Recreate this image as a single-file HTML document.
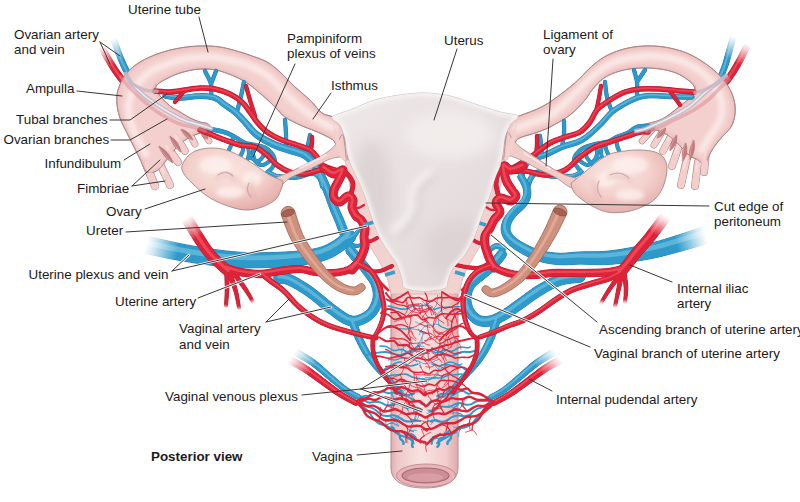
<!DOCTYPE html>
<html lang="en"><head><meta charset="utf-8"><title>Uterus, posterior view</title>
<style>
html,body{margin:0;padding:0;background:#fff}
body{width:800px;height:502px;overflow:hidden}
svg{display:block}
text{font-family:"Liberation Sans",sans-serif;font-size:13.4px;fill:#1c1a1b}
.b{font-weight:bold}
</style></head><body>
<svg width="800" height="502" viewBox="0 0 800 502">
<defs>
<filter id="soft" x="-2%" y="-2%" width="104%" height="104%"><feGaussianBlur stdDeviation="0.45"/></filter>
<filter id="b2" x="-20%" y="-20%" width="140%" height="140%"><feGaussianBlur stdDeviation="2"/></filter>
<filter id="b3" x="-20%" y="-20%" width="140%" height="140%"><feGaussianBlur stdDeviation="3.5"/></filter>
<filter id="b6" x="-20%" y="-20%" width="140%" height="140%"><feGaussianBlur stdDeviation="7"/></filter>
<linearGradient id="vag" x1="0" x2="1" y1="0" y2="0">
 <stop offset="0" stop-color="#e2adb0"/><stop offset=".1" stop-color="#efc7c7"/><stop offset=".45" stop-color="#f8e3e1"/>
 <stop offset=".82" stop-color="#f2cdcc"/><stop offset="1" stop-color="#e0a9ad"/></linearGradient>
<linearGradient id="utg" x1="0" x2="1" y1="0" y2="1">
 <stop offset="0" stop-color="#efe8e8"/><stop offset=".5" stop-color="#e8e0e0"/><stop offset="1" stop-color="#dfd5d6"/></linearGradient>
<radialGradient id="ovg" cx=".45" cy=".35" r=".7">
 <stop offset="0" stop-color="#fae6e1"/><stop offset=".55" stop-color="#f3d0cb"/><stop offset="1" stop-color="#e3aaa8"/></radialGradient>
<radialGradient id="fog"><stop offset="0" stop-color="#fff" stop-opacity="1"/><stop offset=".45" stop-color="#fff" stop-opacity=".85"/><stop offset="1" stop-color="#fff" stop-opacity="0"/></radialGradient>
<clipPath id="cutL"><path d="M349 165C348.7 162.5 347.8 155.2 347 150C346.2 144.8 345.2 138.3 344 134C342.8 129.7 341.8 126.8 340 124C338.2 121.2 336 118.8 333 117C330 115.2 325.8 115.8 322 113C318.2 110.2 314.5 104.3 310 100C305.5 95.7 300 91.7 295 87C290 82.3 284.7 76.2 280 72C275.3 67.8 271.7 64.7 267 62C262.3 59.3 256.5 57.7 252 56C247.5 54.3 245.3 53.5 240 52C234.7 50.5 226.7 48 220 47C213.3 46 206.7 45.8 200 46C193.3 46.2 186.7 46.8 180 48C173.3 49.2 166.7 50.7 160 53C153.3 55.3 145.7 58.5 140 62C134.3 65.5 129.7 69.3 126 74C122.3 78.7 119.5 85 118 90C116.5 95 116.7 99.3 117 104C117.3 108.7 118.5 113.5 120 118C121.5 122.5 123.8 126.5 126 131C128.2 135.5 130.7 140.3 133 145C135.3 149.7 137.7 154.5 140 159C142.3 163.5 144 170.2 147 172C150 173.8 154.5 172.3 158 170C161.5 167.7 164.7 162 168 158C171.3 154 174.3 149.5 178 146C181.7 142.5 185.7 139.3 190 137C194.3 134.7 200.2 133 204 132C207.8 131 212.3 132.3 213 131C213.7 129.7 210.2 125.5 208 124C205.8 122.5 203 123 200 122C197 121 193.3 119.7 190 118C186.7 116.3 183.3 114 180 112C176.7 110 173.3 108.7 170 106C166.7 103.3 161.7 97.7 160 96L155 88C155.5 87.3 156.2 85.5 158 84C159.8 82.5 162.3 80.8 166 79C169.7 77.2 174.3 74.7 180 73C185.7 71.3 193.3 69.3 200 69C206.7 68.7 212.7 69 220 71C227.3 73 237 77 244 81C251 85 256.8 90.7 262 95C267.2 99.3 271.2 103.3 275 107C278.8 110.7 280.8 114 285 117C289.2 120 295 122.7 300 125C305 127.3 310.7 129.2 315 131C319.3 132.8 322.8 134.3 326 136C329.2 137.7 332 138.7 334 141C336 143.3 336.5 147.2 338 150C339.5 152.8 342.2 156.7 343 158Z"/></clipPath>
<clipPath id="cutR"><path d="M501 165C501.3 162.5 502.2 155.2 503 150C503.8 144.8 504.8 138.3 506 134C507.2 129.7 508.2 126.8 510 124C511.8 121.2 512.8 119.3 517 117C521.2 114.7 529.5 112.5 535 110C540.5 107.5 544.2 105.8 550 102C555.8 98.2 565 91 570 87C575 83 576.3 81.5 580 78C583.7 74.5 587.7 69.7 592 66C596.3 62.3 600.7 58.8 606 56C611.3 53.2 617.7 50.7 624 49C630.3 47.3 637.3 46.3 644 46C650.7 45.7 657.3 46 664 47C670.7 48 678 49.8 684 52C690 54.2 694.7 56.7 700 60C705.3 63.3 711.3 67.7 716 72C720.7 76.3 725 81.3 728 86C731 90.7 732.8 95.3 734 100C735.2 104.7 735.5 109.5 735 114C734.5 118.5 733.2 123.2 731 127C728.8 130.8 724.8 133.7 722 137C719.2 140.3 716.3 143.5 714 147C711.7 150.5 709.3 154.8 708 158C706.7 161.2 707.7 165.7 706 166C704.3 166.3 700.7 161.7 698 160C695.3 158.3 692.7 158 690 156C687.3 154 684.8 150.8 682 148C679.2 145.2 676 141.5 673 139C670 136.5 667 134.5 664 133C661 131.5 659 130.3 655 130C651 129.7 643.2 131.7 640 131C636.8 130.3 635 127.2 636 126C637 124.8 642 125 646 124C650 123 656 121.7 660 120C664 118.3 666.7 116.3 670 114C673.3 111.7 677 108.3 680 106C683 103.7 686.7 101 688 100L695 92C694.8 91 695.2 88 694 86C692.8 84 691 82.2 688 80C685 77.8 680.7 74.8 676 73C671.3 71.2 666 69.8 660 69C654 68.2 646.7 67.7 640 68C633.3 68.3 626 69.3 620 71C614 72.7 608.7 74.8 604 78C599.3 81.2 595.2 86.3 592 90C588.8 93.7 588.7 95.8 585 100C581.3 104.2 575.8 110.5 570 115C564.2 119.5 555.8 124 550 127C544.2 130 539.7 131.3 535 133C530.3 134.7 525.2 135.7 522 137C518.8 138.3 517.7 138.8 516 141C514.3 143.2 513.5 147.2 512 150C510.5 152.8 507.8 156.7 507 158Z"/></clipPath>
<clipPath id="cutU"><path d="M332 117C333.5 114.8 343.6 112.5 350 110C356.4 107.5 367.5 102.2 375 100C382.5 97.8 392.5 96 400 95C407.5 94 417.5 92.8 425 93C432.5 93.2 442.5 94.3 450 96C457.5 97.7 467.5 101.6 475 104C482.5 106.4 493.6 110.2 500 112C506.4 113.8 516.5 114 518 116C519.5 118 511.9 121.8 510 125C508.1 128.2 506.1 132.9 505 137C503.9 141.1 503.8 147.7 503 152C502.2 156.3 501.2 162.1 500 166C498.8 169.9 496.6 173.2 495 178C493.4 182.8 491.1 192 489 198C486.9 204 483.2 212 481 218C478.8 224 476.6 232.3 474 238C471.4 243.7 467.1 251.5 464 256C460.9 260.5 455.4 264.4 453 268C450.6 271.6 449.2 277 448 280C446.8 283 448.4 286.4 445 288C441.6 289.6 431 291 425 291C419 291 408.4 289.9 405 288C401.6 286.1 403.2 281.6 402 278C400.8 274.4 399.1 268.1 397 264C394.9 259.9 390.7 255.2 388 251C385.3 246.8 381.6 241.4 379 236C376.4 230.6 373.1 221 371 215C368.9 209 367.2 202 365 196C362.8 190 358.1 179.7 356 175C353.9 170.3 352.4 168.4 351 165C349.6 161.6 347.9 156.1 347 152C346.1 147.9 346.1 142.1 345 138C343.9 133.9 341.9 128.2 340 125C338.1 121.8 330.5 119.2 332 117Z"/></clipPath>
</defs>
<rect width="800" height="502" fill="#fff"/>
<g filter="url(#soft)">
<defs><path id="v1" d="M114 40C114.8 42.3 117.3 49.7 119 54C120.7 58.3 122.2 62.2 124 66C125.8 69.8 127.8 73.5 130 77C132.2 80.5 135.8 85.3 137 87M733 38C732.3 40.3 730.3 47.3 729 52C727.7 56.7 726.5 61.7 725 66C723.5 70.3 722 74.3 720 78C718 81.7 714.2 86.3 713 88"/></defs><use href="#v1" fill="none" stroke="#1c75a3" stroke-width="6.5" stroke-linecap="round" stroke-linejoin="round"/><use href="#v1" fill="none" stroke="#2f9acb" stroke-width="5.6" stroke-linecap="round" stroke-linejoin="round"/><use href="#v1" fill="none" stroke="#7fcbe6" stroke-width="1.8" stroke-linecap="round" stroke-linejoin="round" opacity=".55" transform="translate(-0.4,-0.8)"/><defs><path id="v2" d="M103 50C104.2 52 107.7 58.2 110 62C112.3 65.8 114.5 69.5 117 73C119.5 76.5 122.3 80 125 83C127.7 86 131.7 89.7 133 91M746 48C745 50 742.2 56 740 60C737.8 64 735.5 68.2 733 72C730.5 75.8 727.7 79.7 725 83C722.3 86.3 718.3 90.5 717 92"/></defs><use href="#v2" fill="none" stroke="#aa192d" stroke-width="7.1" stroke-linecap="round" stroke-linejoin="round"/><use href="#v2" fill="none" stroke="#de2239" stroke-width="6.2" stroke-linecap="round" stroke-linejoin="round"/><use href="#v2" fill="none" stroke="#f5656f" stroke-width="2" stroke-linecap="round" stroke-linejoin="round" opacity=".55" transform="translate(-0.4,-0.9)"/><defs><linearGradient id="f3" gradientUnits="userSpaceOnUse" x1="105" y1="43" x2="117" y2="63"><stop offset="0" stop-color="#fff"/><stop offset=".25" stop-color="#fff" stop-opacity=".8"/><stop offset="1" stop-color="#fff" stop-opacity="0"/></linearGradient></defs><path d="M78.8 28.4L104.1 70.7L129.9 55.3L104.5 13Z" fill="url(#f3)"/><defs><linearGradient id="f4" gradientUnits="userSpaceOnUse" x1="743" y1="41" x2="732" y2="61"><stop offset="0" stop-color="#fff"/><stop offset=".25" stop-color="#fff" stop-opacity=".8"/><stop offset="1" stop-color="#fff" stop-opacity="0"/></linearGradient></defs><path d="M742.4 11L718.9 53.8L745.1 68.2L768.7 25.4Z" fill="url(#f4)"/>
<path d="M391 285V468C391 482 405 488 424.5 488C444 488 458 482 458 468V285Z" fill="url(#vag)" stroke="#b58a8e" stroke-width="1"/><ellipse cx="426" cy="475.5" rx="29.5" ry="11.5" fill="#eab3b7" stroke="#b98b90" stroke-width=".9"/><ellipse cx="425.5" cy="475.5" rx="23.5" ry="7.5" fill="#cc8d97" stroke="#a56a75" stroke-width="1.2"/><ellipse cx="425.5" cy="477.5" rx="18" ry="4.2" fill="#dba4ab" opacity=".75"/>
<path d="M146 164L155 186" fill="none" stroke="#a98585" stroke-width="8.4" stroke-linecap="round"/><path d="M161 166L170 185" fill="none" stroke="#a98585" stroke-width="7.9" stroke-linecap="round"/><path d="M167 146L178 162" fill="none" stroke="#a98585" stroke-width="7.9" stroke-linecap="round"/><path d="M176 136L185 151" fill="none" stroke="#a98585" stroke-width="7.4" stroke-linecap="round"/><path d="M188 131L195 144" fill="none" stroke="#a98585" stroke-width="6.9" stroke-linecap="round"/><path d="M202 130L209 141" fill="none" stroke="#a98585" stroke-width="6.4" stroke-linecap="round"/><path d="M349 165C348.7 162.5 347.8 155.2 347 150C346.2 144.8 345.2 138.3 344 134C342.8 129.7 341.8 126.8 340 124C338.2 121.2 336 118.8 333 117C330 115.2 325.8 115.8 322 113C318.2 110.2 314.5 104.3 310 100C305.5 95.7 300 91.7 295 87C290 82.3 284.7 76.2 280 72C275.3 67.8 271.7 64.7 267 62C262.3 59.3 256.5 57.7 252 56C247.5 54.3 245.3 53.5 240 52C234.7 50.5 226.7 48 220 47C213.3 46 206.7 45.8 200 46C193.3 46.2 186.7 46.8 180 48C173.3 49.2 166.7 50.7 160 53C153.3 55.3 145.7 58.5 140 62C134.3 65.5 129.7 69.3 126 74C122.3 78.7 119.5 85 118 90C116.5 95 116.7 99.3 117 104C117.3 108.7 118.5 113.5 120 118C121.5 122.5 123.8 126.5 126 131C128.2 135.5 130.7 140.3 133 145C135.3 149.7 137.7 154.5 140 159C142.3 163.5 144 170.2 147 172C150 173.8 154.5 172.3 158 170C161.5 167.7 164.7 162 168 158C171.3 154 174.3 149.5 178 146C181.7 142.5 185.7 139.3 190 137C194.3 134.7 200.2 133 204 132C207.8 131 212.3 132.3 213 131C213.7 129.7 210.2 125.5 208 124C205.8 122.5 203 123 200 122C197 121 193.3 119.7 190 118C186.7 116.3 183.3 114 180 112C176.7 110 173.3 108.7 170 106C166.7 103.3 161.7 97.7 160 96L155 88C155.5 87.3 156.2 85.5 158 84C159.8 82.5 162.3 80.8 166 79C169.7 77.2 174.3 74.7 180 73C185.7 71.3 193.3 69.3 200 69C206.7 68.7 212.7 69 220 71C227.3 73 237 77 244 81C251 85 256.8 90.7 262 95C267.2 99.3 271.2 103.3 275 107C278.8 110.7 280.8 114 285 117C289.2 120 295 122.7 300 125C305 127.3 310.7 129.2 315 131C319.3 132.8 322.8 134.3 326 136C329.2 137.7 332 138.7 334 141C336 143.3 336.5 147.2 338 150C339.5 152.8 342.2 156.7 343 158Z" fill="#f3d0ce" stroke="#a98585" stroke-width=".9" stroke-linejoin="round"/><path d="M146 164L155 186" fill="none" stroke="#f3cfcc" stroke-width="7" stroke-linecap="round"/><path d="M161 166L170 185" fill="none" stroke="#f3cfcc" stroke-width="6.5" stroke-linecap="round"/><path d="M167 146L178 162" fill="none" stroke="#f3cfcc" stroke-width="6.5" stroke-linecap="round"/><path d="M176 136L185 151" fill="none" stroke="#f3cfcc" stroke-width="6" stroke-linecap="round"/><path d="M188 131L195 144" fill="none" stroke="#f3cfcc" stroke-width="5.5" stroke-linecap="round"/><path d="M202 130L209 141" fill="none" stroke="#f3cfcc" stroke-width="5" stroke-linecap="round"/><path d="M145.4 164L154.4 185" fill="none" stroke="#f8dfdc" stroke-width="2.8" stroke-linecap="round" opacity=".8"/><path d="M160.4 166L169.4 184" fill="none" stroke="#f8dfdc" stroke-width="2.6" stroke-linecap="round" opacity=".8"/><path d="M166.4 146L177.4 161" fill="none" stroke="#f8dfdc" stroke-width="2.6" stroke-linecap="round" opacity=".8"/><path d="M175.4 136L184.4 150" fill="none" stroke="#f8dfdc" stroke-width="2.4" stroke-linecap="round" opacity=".8"/><path d="M187.4 131L194.4 143" fill="none" stroke="#f8dfdc" stroke-width="2.2" stroke-linecap="round" opacity=".8"/><path d="M201.4 130L208.4 140" fill="none" stroke="#f8dfdc" stroke-width="2" stroke-linecap="round" opacity=".8"/><g clip-path="url(#cutL)"><path d="M349 165C348.7 162.5 347.8 155.2 347 150C346.2 144.8 345.2 138.3 344 134C342.8 129.7 341.8 126.8 340 124C338.2 121.2 336 118.8 333 117C330 115.2 325.8 115.8 322 113C318.2 110.2 314.5 104.3 310 100C305.5 95.7 300 91.7 295 87C290 82.3 284.7 76.2 280 72C275.3 67.8 271.7 64.7 267 62C262.3 59.3 256.5 57.7 252 56C247.5 54.3 245.3 53.5 240 52C234.7 50.5 226.7 48 220 47C213.3 46 206.7 45.8 200 46C193.3 46.2 186.7 46.8 180 48C173.3 49.2 166.7 50.7 160 53C153.3 55.3 145.7 58.5 140 62C134.3 65.5 129.7 69.3 126 74C122.3 78.7 119.5 85 118 90C116.5 95 116.7 99.3 117 104C117.3 108.7 118.5 113.5 120 118C121.5 122.5 123.8 126.5 126 131C128.2 135.5 130.7 140.3 133 145C135.3 149.7 137.7 154.5 140 159C142.3 163.5 144 170.2 147 172C150 173.8 154.5 172.3 158 170C161.5 167.7 164.7 162 168 158C171.3 154 174.3 149.5 178 146C181.7 142.5 185.7 139.3 190 137C194.3 134.7 200.2 133 204 132C207.8 131 212.3 132.3 213 131C213.7 129.7 210.2 125.5 208 124C205.8 122.5 203 123 200 122C197 121 193.3 119.7 190 118C186.7 116.3 183.3 114 180 112C176.7 110 173.3 108.7 170 106C166.7 103.3 161.7 97.7 160 96L155 88C155.5 87.3 156.2 85.5 158 84C159.8 82.5 162.3 80.8 166 79C169.7 77.2 174.3 74.7 180 73C185.7 71.3 193.3 69.3 200 69C206.7 68.7 212.7 69 220 71C227.3 73 237 77 244 81C251 85 256.8 90.7 262 95C267.2 99.3 271.2 103.3 275 107C278.8 110.7 280.8 114 285 117C289.2 120 295 122.7 300 125C305 127.3 310.7 129.2 315 131C319.3 132.8 322.8 134.3 326 136C329.2 137.7 332 138.7 334 141C336 143.3 336.5 147.2 338 150C339.5 152.8 342.2 156.7 343 158Z" fill="none" stroke="#e6aeb0" stroke-width="3" filter="url(#b2)" opacity=".8"/><path d="M334 128C331.3 126.7 323.7 123.5 318 120C312.3 116.5 305.7 111.7 300 107C294.3 102.3 289.3 97.2 284 92C278.7 86.8 273.7 80.3 268 76C262.3 71.7 256.3 68.7 250 66C243.7 63.3 236.7 61.5 230 60C223.3 58.5 216.7 57.3 210 57C203.3 56.7 196.7 57 190 58C183.3 59 176.7 60.7 170 63C163.3 65.3 155.7 68.2 150 72C144.3 75.8 139.5 81 136 86C132.5 91 130 96.3 129 102C128 107.7 128.8 114.3 130 120C131.2 125.7 133.3 130.3 136 136C138.7 141.7 144.3 151 146 154" fill="none" stroke="#fae9e7" stroke-width="7" stroke-linecap="round" filter="url(#b2)" opacity=".95"/></g><path d="M349 165C348.7 162.5 347.8 155.2 347 150C346.2 144.8 345.2 138.3 344 134C342.8 129.7 341.8 126.8 340 124C338.2 121.2 336 118.8 333 117C330 115.2 325.8 115.8 322 113C318.2 110.2 314.5 104.3 310 100C305.5 95.7 300 91.7 295 87C290 82.3 284.7 76.2 280 72C275.3 67.8 271.7 64.7 267 62C262.3 59.3 256.5 57.7 252 56C247.5 54.3 245.3 53.5 240 52C234.7 50.5 226.7 48 220 47C213.3 46 206.7 45.8 200 46C193.3 46.2 186.7 46.8 180 48C173.3 49.2 166.7 50.7 160 53C153.3 55.3 145.7 58.5 140 62C134.3 65.5 129.7 69.3 126 74C122.3 78.7 119.5 85 118 90C116.5 95 116.7 99.3 117 104C117.3 108.7 118.5 113.5 120 118C121.5 122.5 123.8 126.5 126 131C128.2 135.5 130.7 140.3 133 145C135.3 149.7 137.7 154.5 140 159C142.3 163.5 144 170.2 147 172C150 173.8 154.5 172.3 158 170C161.5 167.7 164.7 162 168 158C171.3 154 174.3 149.5 178 146C181.7 142.5 185.7 139.3 190 137C194.3 134.7 200.2 133 204 132C207.8 131 212.3 132.3 213 131C213.7 129.7 210.2 125.5 208 124C205.8 122.5 203 123 200 122C197 121 193.3 119.7 190 118C186.7 116.3 183.3 114 180 112C176.7 110 173.3 108.7 170 106C166.7 103.3 161.7 97.7 160 96L155 88C155.5 87.3 156.2 85.5 158 84C159.8 82.5 162.3 80.8 166 79C169.7 77.2 174.3 74.7 180 73C185.7 71.3 193.3 69.3 200 69C206.7 68.7 212.7 69 220 71C227.3 73 237 77 244 81C251 85 256.8 90.7 262 95C267.2 99.3 271.2 103.3 275 107C278.8 110.7 280.8 114 285 117C289.2 120 295 122.7 300 125C305 127.3 310.7 129.2 315 131C319.3 132.8 322.8 134.3 326 136C329.2 137.7 332 138.7 334 141C336 143.3 336.5 147.2 338 150C339.5 152.8 342.2 156.7 343 158Z" fill="none" stroke="#a98585" stroke-width=".9" stroke-linejoin="round"/><path d="M150.9 176.1L155 186" fill="none" stroke="#f3cfcc" stroke-width="7" stroke-linecap="round"/><path d="M166 176.5L170 185" fill="none" stroke="#f3cfcc" stroke-width="6.5" stroke-linecap="round"/><path d="M173.1 154.8L178 162" fill="none" stroke="#f3cfcc" stroke-width="6.5" stroke-linecap="round"/><path d="M181 144.2L185 151" fill="none" stroke="#f3cfcc" stroke-width="6" stroke-linecap="round"/><path d="M191.9 138.2L195 144" fill="none" stroke="#f3cfcc" stroke-width="5.5" stroke-linecap="round"/><path d="M205.9 136.1L209 141" fill="none" stroke="#f3cfcc" stroke-width="5" stroke-linecap="round"/><path d="M159 146Q162.5 157.3 173 163Q169.5 151.7 159 146Z" fill="#c47c80" stroke="#b06a70" stroke-width=".5"/><path d="M157.9 146.9L172.4 163.5" stroke="#dca3a3" stroke-width="1" fill="none" opacity=".8"/><path d="M170 136Q171.8 146.5 181 152Q179.2 141.5 170 136Z" fill="#c47c80" stroke="#b06a70" stroke-width=".5"/><path d="M168.8 136.8L180.3 152.5" stroke="#dca3a3" stroke-width="1" fill="none" opacity=".8"/><path d="M181 129Q184 137.8 193 140Q190 131.2 181 129Z" fill="#c47c80" stroke="#b06a70" stroke-width=".5"/><path d="M180.1 130L192.4 140.6" stroke="#dca3a3" stroke-width="1" fill="none" opacity=".8"/><path d="M202 133Q201.8 139.2 208 139Q208.2 132.8 202 133Z" fill="#c47c80" stroke="#b06a70" stroke-width=".5"/><path d="M201 134L207.4 139.6" stroke="#dca3a3" stroke-width="1" fill="none" opacity=".8"/><path d="M706 152L704 172" fill="none" stroke="#a98585" stroke-width="7.9" stroke-linecap="round"/><path d="M698 162L695 186" fill="none" stroke="#a98585" stroke-width="7.9" stroke-linecap="round"/><path d="M687 158L681 185" fill="none" stroke="#a98585" stroke-width="7.9" stroke-linecap="round"/><path d="M679 146L672 166" fill="none" stroke="#a98585" stroke-width="7.9" stroke-linecap="round"/><path d="M671 136L663 151" fill="none" stroke="#a98585" stroke-width="7.4" stroke-linecap="round"/><path d="M662 132L654 145" fill="none" stroke="#a98585" stroke-width="6.9" stroke-linecap="round"/><path d="M652 130L642 141" fill="none" stroke="#a98585" stroke-width="6.4" stroke-linecap="round"/><path d="M501 165C501.3 162.5 502.2 155.2 503 150C503.8 144.8 504.8 138.3 506 134C507.2 129.7 508.2 126.8 510 124C511.8 121.2 512.8 119.3 517 117C521.2 114.7 529.5 112.5 535 110C540.5 107.5 544.2 105.8 550 102C555.8 98.2 565 91 570 87C575 83 576.3 81.5 580 78C583.7 74.5 587.7 69.7 592 66C596.3 62.3 600.7 58.8 606 56C611.3 53.2 617.7 50.7 624 49C630.3 47.3 637.3 46.3 644 46C650.7 45.7 657.3 46 664 47C670.7 48 678 49.8 684 52C690 54.2 694.7 56.7 700 60C705.3 63.3 711.3 67.7 716 72C720.7 76.3 725 81.3 728 86C731 90.7 732.8 95.3 734 100C735.2 104.7 735.5 109.5 735 114C734.5 118.5 733.2 123.2 731 127C728.8 130.8 724.8 133.7 722 137C719.2 140.3 716.3 143.5 714 147C711.7 150.5 709.3 154.8 708 158C706.7 161.2 707.7 165.7 706 166C704.3 166.3 700.7 161.7 698 160C695.3 158.3 692.7 158 690 156C687.3 154 684.8 150.8 682 148C679.2 145.2 676 141.5 673 139C670 136.5 667 134.5 664 133C661 131.5 659 130.3 655 130C651 129.7 643.2 131.7 640 131C636.8 130.3 635 127.2 636 126C637 124.8 642 125 646 124C650 123 656 121.7 660 120C664 118.3 666.7 116.3 670 114C673.3 111.7 677 108.3 680 106C683 103.7 686.7 101 688 100L695 92C694.8 91 695.2 88 694 86C692.8 84 691 82.2 688 80C685 77.8 680.7 74.8 676 73C671.3 71.2 666 69.8 660 69C654 68.2 646.7 67.7 640 68C633.3 68.3 626 69.3 620 71C614 72.7 608.7 74.8 604 78C599.3 81.2 595.2 86.3 592 90C588.8 93.7 588.7 95.8 585 100C581.3 104.2 575.8 110.5 570 115C564.2 119.5 555.8 124 550 127C544.2 130 539.7 131.3 535 133C530.3 134.7 525.2 135.7 522 137C518.8 138.3 517.7 138.8 516 141C514.3 143.2 513.5 147.2 512 150C510.5 152.8 507.8 156.7 507 158Z" fill="#f3d0ce" stroke="#a98585" stroke-width=".9" stroke-linejoin="round"/><path d="M706 152L704 172" fill="none" stroke="#f3cfcc" stroke-width="6.5" stroke-linecap="round"/><path d="M698 162L695 186" fill="none" stroke="#f3cfcc" stroke-width="6.5" stroke-linecap="round"/><path d="M687 158L681 185" fill="none" stroke="#f3cfcc" stroke-width="6.5" stroke-linecap="round"/><path d="M679 146L672 166" fill="none" stroke="#f3cfcc" stroke-width="6.5" stroke-linecap="round"/><path d="M671 136L663 151" fill="none" stroke="#f3cfcc" stroke-width="6" stroke-linecap="round"/><path d="M662 132L654 145" fill="none" stroke="#f3cfcc" stroke-width="5.5" stroke-linecap="round"/><path d="M652 130L642 141" fill="none" stroke="#f3cfcc" stroke-width="5" stroke-linecap="round"/><path d="M705.4 152L703.4 171" fill="none" stroke="#f8dfdc" stroke-width="2.6" stroke-linecap="round" opacity=".8"/><path d="M697.4 162L694.4 185" fill="none" stroke="#f8dfdc" stroke-width="2.6" stroke-linecap="round" opacity=".8"/><path d="M686.4 158L680.4 184" fill="none" stroke="#f8dfdc" stroke-width="2.6" stroke-linecap="round" opacity=".8"/><path d="M678.4 146L671.4 165" fill="none" stroke="#f8dfdc" stroke-width="2.6" stroke-linecap="round" opacity=".8"/><path d="M670.4 136L662.4 150" fill="none" stroke="#f8dfdc" stroke-width="2.4" stroke-linecap="round" opacity=".8"/><path d="M661.4 132L653.4 144" fill="none" stroke="#f8dfdc" stroke-width="2.2" stroke-linecap="round" opacity=".8"/><path d="M651.4 130L641.4 140" fill="none" stroke="#f8dfdc" stroke-width="2" stroke-linecap="round" opacity=".8"/><g clip-path="url(#cutR)"><path d="M501 165C501.3 162.5 502.2 155.2 503 150C503.8 144.8 504.8 138.3 506 134C507.2 129.7 508.2 126.8 510 124C511.8 121.2 512.8 119.3 517 117C521.2 114.7 529.5 112.5 535 110C540.5 107.5 544.2 105.8 550 102C555.8 98.2 565 91 570 87C575 83 576.3 81.5 580 78C583.7 74.5 587.7 69.7 592 66C596.3 62.3 600.7 58.8 606 56C611.3 53.2 617.7 50.7 624 49C630.3 47.3 637.3 46.3 644 46C650.7 45.7 657.3 46 664 47C670.7 48 678 49.8 684 52C690 54.2 694.7 56.7 700 60C705.3 63.3 711.3 67.7 716 72C720.7 76.3 725 81.3 728 86C731 90.7 732.8 95.3 734 100C735.2 104.7 735.5 109.5 735 114C734.5 118.5 733.2 123.2 731 127C728.8 130.8 724.8 133.7 722 137C719.2 140.3 716.3 143.5 714 147C711.7 150.5 709.3 154.8 708 158C706.7 161.2 707.7 165.7 706 166C704.3 166.3 700.7 161.7 698 160C695.3 158.3 692.7 158 690 156C687.3 154 684.8 150.8 682 148C679.2 145.2 676 141.5 673 139C670 136.5 667 134.5 664 133C661 131.5 659 130.3 655 130C651 129.7 643.2 131.7 640 131C636.8 130.3 635 127.2 636 126C637 124.8 642 125 646 124C650 123 656 121.7 660 120C664 118.3 666.7 116.3 670 114C673.3 111.7 677 108.3 680 106C683 103.7 686.7 101 688 100L695 92C694.8 91 695.2 88 694 86C692.8 84 691 82.2 688 80C685 77.8 680.7 74.8 676 73C671.3 71.2 666 69.8 660 69C654 68.2 646.7 67.7 640 68C633.3 68.3 626 69.3 620 71C614 72.7 608.7 74.8 604 78C599.3 81.2 595.2 86.3 592 90C588.8 93.7 588.7 95.8 585 100C581.3 104.2 575.8 110.5 570 115C564.2 119.5 555.8 124 550 127C544.2 130 539.7 131.3 535 133C530.3 134.7 525.2 135.7 522 137C518.8 138.3 517.7 138.8 516 141C514.3 143.2 513.5 147.2 512 150C510.5 152.8 507.8 156.7 507 158Z" fill="none" stroke="#e6aeb0" stroke-width="3" filter="url(#b2)" opacity=".8"/><path d="M516 128C519 127 528 124.3 534 122C540 119.7 546.3 117.7 552 114C557.7 110.3 563 104.7 568 100C573 95.3 577.3 90.5 582 86C586.7 81.5 591 76.8 596 73C601 69.2 606.3 65.5 612 63C617.7 60.5 623.7 59.2 630 58C636.3 56.8 643.3 56 650 56C656.7 56 663.7 56.7 670 58C676.3 59.3 682.3 61.3 688 64C693.7 66.7 699.3 70 704 74C708.7 78 713 83 716 88C719 93 721.3 98.7 722 104C722.7 109.3 722 114.7 720 120C718 125.3 713 131 710 136C707 141 703.3 147.7 702 150" fill="none" stroke="#fae9e7" stroke-width="7" stroke-linecap="round" filter="url(#b2)" opacity=".95"/></g><path d="M501 165C501.3 162.5 502.2 155.2 503 150C503.8 144.8 504.8 138.3 506 134C507.2 129.7 508.2 126.8 510 124C511.8 121.2 512.8 119.3 517 117C521.2 114.7 529.5 112.5 535 110C540.5 107.5 544.2 105.8 550 102C555.8 98.2 565 91 570 87C575 83 576.3 81.5 580 78C583.7 74.5 587.7 69.7 592 66C596.3 62.3 600.7 58.8 606 56C611.3 53.2 617.7 50.7 624 49C630.3 47.3 637.3 46.3 644 46C650.7 45.7 657.3 46 664 47C670.7 48 678 49.8 684 52C690 54.2 694.7 56.7 700 60C705.3 63.3 711.3 67.7 716 72C720.7 76.3 725 81.3 728 86C731 90.7 732.8 95.3 734 100C735.2 104.7 735.5 109.5 735 114C734.5 118.5 733.2 123.2 731 127C728.8 130.8 724.8 133.7 722 137C719.2 140.3 716.3 143.5 714 147C711.7 150.5 709.3 154.8 708 158C706.7 161.2 707.7 165.7 706 166C704.3 166.3 700.7 161.7 698 160C695.3 158.3 692.7 158 690 156C687.3 154 684.8 150.8 682 148C679.2 145.2 676 141.5 673 139C670 136.5 667 134.5 664 133C661 131.5 659 130.3 655 130C651 129.7 643.2 131.7 640 131C636.8 130.3 635 127.2 636 126C637 124.8 642 125 646 124C650 123 656 121.7 660 120C664 118.3 666.7 116.3 670 114C673.3 111.7 677 108.3 680 106C683 103.7 686.7 101 688 100L695 92C694.8 91 695.2 88 694 86C692.8 84 691 82.2 688 80C685 77.8 680.7 74.8 676 73C671.3 71.2 666 69.8 660 69C654 68.2 646.7 67.7 640 68C633.3 68.3 626 69.3 620 71C614 72.7 608.7 74.8 604 78C599.3 81.2 595.2 86.3 592 90C588.8 93.7 588.7 95.8 585 100C581.3 104.2 575.8 110.5 570 115C564.2 119.5 555.8 124 550 127C544.2 130 539.7 131.3 535 133C530.3 134.7 525.2 135.7 522 137C518.8 138.3 517.7 138.8 516 141C514.3 143.2 513.5 147.2 512 150C510.5 152.8 507.8 156.7 507 158Z" fill="none" stroke="#a98585" stroke-width=".9" stroke-linejoin="round"/><path d="M704.9 163L704 172" fill="none" stroke="#f3cfcc" stroke-width="6.5" stroke-linecap="round"/><path d="M696.4 175.2L695 186" fill="none" stroke="#f3cfcc" stroke-width="6.5" stroke-linecap="round"/><path d="M683.7 172.9L681 185" fill="none" stroke="#f3cfcc" stroke-width="6.5" stroke-linecap="round"/><path d="M675.2 157L672 166" fill="none" stroke="#f3cfcc" stroke-width="6.5" stroke-linecap="round"/><path d="M666.6 144.2L663 151" fill="none" stroke="#f3cfcc" stroke-width="6" stroke-linecap="round"/><path d="M657.6 139.2L654 145" fill="none" stroke="#f3cfcc" stroke-width="5.5" stroke-linecap="round"/><path d="M646.5 136.1L642 141" fill="none" stroke="#f3cfcc" stroke-width="5" stroke-linecap="round"/><path d="M694 140Q687.6 149.1 690 160Q696.4 150.9 694 140Z" fill="#c47c80" stroke="#b06a70" stroke-width=".5"/><path d="M692.6 139.7L689.2 159.8" stroke="#dca3a3" stroke-width="1" fill="none" opacity=".8"/><path d="M686 143Q680.1 151.3 683 161Q688.9 152.7 686 143Z" fill="#c47c80" stroke="#b06a70" stroke-width=".5"/><path d="M684.6 142.8L682.2 160.9" stroke="#dca3a3" stroke-width="1" fill="none" opacity=".8"/><path d="M677 135Q669.4 141.2 670 151Q677.6 144.8 677 135Z" fill="#c47c80" stroke="#b06a70" stroke-width=".5"/><path d="M675.7 134.4L669.2 150.7" stroke="#dca3a3" stroke-width="1" fill="none" opacity=".8"/><path d="M666 128Q658.2 130 657 138Q664.8 136 666 128Z" fill="#c47c80" stroke="#b06a70" stroke-width=".5"/><path d="M665 127.1L656.4 137.4" stroke="#dca3a3" stroke-width="1" fill="none" opacity=".8"/><path d="M655 126Q648.6 125.6 648 132Q654.4 132.4 655 126Z" fill="#c47c80" stroke="#b06a70" stroke-width=".5"/><path d="M654.1 124.9L647.5 131.4" stroke="#dca3a3" stroke-width="1" fill="none" opacity=".8"/>
<defs><path id="v5" d="M164.6 98.2L167.2 98.6L170.9 99.4L175.3 100L180 100.3L185 100.1L190.3 99.4L195.5 98.8L200.1 98.5L204.1 98.7L207.8 99L211.1 99.6L214.1 100.5L216.5 101.7L218.6 103.3L220.9 105.3L223.4 107.2L226 109L228.4 110.7L230.8 112.3L233.1 114.2L235.4 116.3L237.8 118.7L240.2 121.3L242.8 124L245.4 127.1L248.2 130.5L251.3 134.1L255 137.5L259.4 140.6L264.3 143.4L269.1 145.9L273.7 148.1L277.8 149.8L281.7 151.1L285.3 152.2L289 153.4L292.9 154.5L296.8 155.6L300.3 156.8L303.2 158.2L305.6 159.9L307.8 162.1L309.9 164.5L311.9 167.2L313.7 170L315.3 173L316.9 176.3L318.5 179.7L320 183L321.4 186.4L322.8 189.9L324.2 193.5L325.7 197.3L327.1 201.4L328.6 205.6L330.1 209.6L331.6 213.3L333.1 216.7L334.5 220.1L336 223.6L337.5 227.8L339.2 232.4L340.7 236.6L341.8 239.6A4.5 4.5 0 0 0 350.2 236.4L349.1 233.5L347.5 229.3L345.7 224.7L344 220.4L342.5 216.7L340.9 213.3L339.4 209.9L337.9 206.4L336.4 202.6L334.9 198.6L333.3 194.5L331.8 190.5L330.2 186.8L328.7 183.3L327.2 179.8L325.5 176.3L323.9 172.9L322.2 169.5L320.3 166.1L318.1 162.8L315.7 159.8L313.2 156.9L310.3 154.2L306.8 151.8L302.9 150L298.8 148.8L294.8 147.7L291 146.6L287.3 145.5L283.7 144.5L280.1 143.4L276.3 141.9L272 139.9L267.4 137.6L262.9 135.1L259 132.5L255.7 129.7L252.8 126.5L250 123.1L247.2 120L244.5 117.2L242 114.6L239.5 112.1L236.9 109.8L234.2 107.7L231.6 106L229 104.3L226.6 102.8L224.3 101L222 99L219.2 97.1L215.9 95.5L212.3 94.5L208.5 93.9L204.4 93.5L199.9 93.5L195 93.8L189.7 94.6L184.5 95.3L180 95.7L175.8 95.4L171.6 94.9L168 94.3L165.4 93.8A2.2 2.2 0 0 0 164.6 98.2ZM206.8 131L208.2 131.1L210 131.3L212.2 131.5L214.6 131.9L217.4 132.5L220.5 133.2L223.5 133.9L226.3 134.8L228.7 135.8L231 137.1L233.3 138.4L235.5 139.6L237.7 140.9L239.7 142.3L241.9 143.6L244.3 144.7L246.8 145.5L249.2 146L251.6 146.3L254 146.8L256.7 147.3L259.5 147.9L262 148.5L264.2 149.3L266.1 150.4L267.8 151.8L269.3 153.2L270.6 154.7L271.6 156.3L272.3 157.9L272.8 159.5L273 161L272.8 162.4L272.2 164.1L271.4 165.7L270.6 167L269.7 168L268.6 168.9L267.5 169.6L266.6 170.2A1.7 1.7 0 0 0 268.6 173L269.4 172.4L270.6 171.6L272.1 170.5L273.4 169L274.4 167.3L275.4 165.4L276.1 163.3L276.4 161L276.2 158.8L275.6 156.7L274.7 154.6L273.4 152.7L271.9 150.8L270.2 149.1L268.1 147.5L265.8 146.1L263.1 145.1L260.2 144.3L257.4 143.8L254.8 143.2L252.3 142.7L249.9 142.3L247.7 141.9L245.7 141.3L243.7 140.3L241.8 139.1L239.7 137.7L237.5 136.4L235.2 135.1L232.9 133.7L230.4 132.4L227.7 131.2L224.6 130.2L221.4 129.3L218.2 128.6L215.4 128.1L212.8 127.6L210.5 127.3L208.5 127.1L207.2 127A2 2 0 0 0 206.8 131ZM266.7 173.1L268.1 174L270.3 175.3L272.8 176.7L275.4 177.8L278 178.4L280.6 178.7L283.2 178.9L285.9 179L288.7 179.2L291.7 179.4L294.9 179.4L298.4 179.1L302.2 178.1L306 176.8L309.4 175.7L312 175.3L313.8 175.7L315.4 176.6L316.8 177.9L318 179.4L318.9 181.1L319.6 183.5L320.2 185.9L320.6 187.6A2.5 2.5 0 0 0 325.4 186.4L325 184.7L324.4 182.2L323.4 179.2L322 176.6L320.2 174.6L318 172.8L315.3 171.3L312 170.7L308.3 171.3L304.5 172.6L300.8 174L297.6 174.9L294.7 175.2L291.8 175.2L288.9 175.1L286.1 175L283.4 174.9L280.9 174.8L278.6 174.6L276.6 174.2L274.4 173.3L272.1 172.1L270 170.9L268.5 170.1A1.8 1.8 0 0 0 266.7 173.1ZM692 94.8L690 94.8L687.1 94.8L683.7 94.8L680.1 94.8L676 94.6L671.5 94.2L666.7 93.9L662.1 93.7L657.7 93.5L653.4 93.3L649 93.3L644.7 93.7L640.6 94.5L636.8 95.6L633 97L629 98.9L624.4 101.2L619.6 103.9L614.8 107L610.5 110.1L607 113.4L604.1 116.7L601.4 119.9L598.3 123.2L594.3 127L589.9 131L585.3 134.7L580.7 137.8L576.1 139.9L571.2 141.5L566.1 142.9L561.1 144.6L556.4 146.6L552 148.8L547.9 150.8L544 152.5L540.1 153.8L536.1 154.9L532.1 156.1L528.6 157.7L525.9 159.9L524 162.3L522.7 164.6L521.5 166.9L520.4 169.4L519.5 172.2L518.8 174.6L518.4 176.2A2.8 2.8 0 0 0 523.6 177.8L524.1 176.1L524.7 173.8L525.5 171.3L526.5 169.1L527.5 167.1L528.5 165.2L529.7 163.7L531.4 162.3L534 161.1L537.5 160.1L541.7 158.9L546 157.5L550.2 155.6L554.4 153.5L558.6 151.4L562.9 149.4L567.6 147.8L572.7 146.4L578 144.7L583.3 142.2L588.3 138.8L593.1 134.8L597.7 130.6L601.7 126.8L605.1 123.2L607.9 119.8L610.5 116.8L613.5 113.9L617.5 111L622.1 108.1L626.7 105.4L631 103.1L634.8 101.4L638.3 100L641.7 99L645.3 98.3L649.2 97.9L653.3 97.9L657.5 98.1L661.9 98.3L666.4 98.5L671.2 98.8L675.8 99L679.9 99.2L683.7 99.3L687.1 99.3L690 99.2L692 99.2A2.2 2.2 0 0 0 692 94.8ZM647.9 124L645.8 124.2L642.7 124.3L639.2 124.7L635.8 125.5L633 126.9L630.5 128.7L628.3 130.4L626.1 131.7L623.8 132.6L621.4 133.5L618.8 134.3L616.2 135.3L613.8 136.5L611.7 137.8L609.6 139L607.4 139.9L604.8 140.6L601.9 141.1L598.8 141.6L595.6 142.2L592.4 143L589.2 143.9L586.1 144.9L583.2 146.1L580.8 147.5L578.6 149.1L576.8 150.8L575.3 152.6L574 154.6L573 156.7L572.4 158.9L572.3 161.2L572.9 163.5L574.2 165.7L575.5 167.5L576.6 169.1L577.7 170.4L578.8 171.5L579.7 172.3L580.3 172.9A1.7 1.7 0 0 0 582.7 170.3L582 169.8L581.2 169L580.3 168.1L579.4 166.9L578.3 165.5L577.1 163.8L576.1 162.2L575.7 160.8L575.8 159.5L576.3 157.9L577.1 156.3L578.1 154.8L579.4 153.3L580.9 151.8L582.7 150.5L584.8 149.3L587.3 148.3L590.2 147.4L593.3 146.5L596.4 145.8L599.4 145.2L602.5 144.7L605.6 144.2L608.6 143.5L611.3 142.4L613.6 141.1L615.7 139.8L617.8 138.7L620.1 137.9L622.6 137.1L625.2 136.2L627.9 135.1L630.4 133.6L632.8 131.8L635 130.3L637.2 129.3L639.8 128.6L643 128.3L646 128.1L648.1 128A2 2 0 0 0 647.9 124ZM580.6 170.1L579.1 170.9L577 172.2L574.7 173.4L572.6 174.1L570.3 174.4L567.8 174.3L565 174.1L562 174L559 174L556 174.2L553.1 174.2L550.4 173.9L547.7 173L544.6 171.6L541.3 170.2L537.9 169.7L534.7 170.7L532.4 172.4L530.6 174.5L529 176.8L527.5 179.5L526.3 182.5L525.3 185.3L524.6 187.2A2.5 2.5 0 0 0 529.4 188.8L530 186.9L530.9 184.2L531.9 181.5L533 179.2L534.3 177.4L535.6 175.8L536.9 174.7L538.1 174.3L540 174.6L542.8 175.7L546.1 177.1L549.6 178.1L552.9 178.4L556.1 178.3L559.2 178.1L562 178L564.8 178.1L567.6 178.2L570.5 178.2L573.4 177.9L576.3 176.8L578.9 175.4L581 174L582.4 173.1A1.8 1.8 0 0 0 580.6 170.1Z"/></defs><defs><path id="v6" d="M259 148C259.8 149.2 263.7 152.8 263.5 155C263.3 157.2 260.1 160.5 258 161C255.9 161.5 252.2 158.5 251 158M247 144C247.3 145.5 249 150.2 249 153C249 155.8 247.3 159.7 247 161M590 148C589.3 149.2 585.8 152.7 586 155C586.2 157.3 589 161.5 591 162C593 162.5 596.8 158.7 598 158M602 145C601.8 146.3 600.8 150.5 601 153C601.2 155.5 602.7 158.8 603 160"/></defs><defs><path id="v7" d="M233 136C232.8 137.2 232.7 140.7 232 143C231.3 145.3 229.5 148.8 229 150M242.5 142C242.6 143.3 243.4 147.5 243 150C242.6 152.5 240.5 155.8 240 157M254 145.5C253.8 146.9 252.7 151.2 253 154C253.3 156.8 254.3 160.2 256 162C257.7 163.8 260.7 165.2 263 165C265.3 164.8 268.8 161.7 270 161M616 138C616.2 139.2 616.5 142.8 617 145C617.5 147.2 618.7 150 619 151M605 143C605.2 144 605.5 147.2 606 149C606.5 150.8 607.7 153.2 608 154M596 145.5C596.2 146.9 597.3 151.4 597 154C596.7 156.6 595.7 159.2 594 161C592.3 162.8 589.3 165 587 165C584.7 165 581.2 161.7 580 161"/></defs><defs><path id="v8" d="M211 96C211 94 212 88.2 211 84C210 79.8 206 73.2 205 71M211 84L216 71M237 112C237.7 109.3 239.8 101 241 96C242.2 91 243.5 84.3 244 82M286 149C286 146.5 286.2 138.8 286 134C285.8 129.2 285.2 122.3 285 120M306 155C306.3 153.3 307.3 148.3 308 145C308.7 141.7 309.7 136.7 310 135M637 96C637 93.7 637.5 86.3 637 82C636.5 77.7 634.5 72 634 70M637 82L645 70M612 112C611.2 109.5 608.2 102 607 97C605.8 92 605.3 84.5 605 82M562 147C562.3 144.8 563.7 138.3 564 134C564.3 129.7 564 123.2 564 121M542 155C541.8 153.3 541.3 148.2 541 145C540.7 141.8 540.2 137.5 540 136"/></defs><use href="#v5" fill="#1c75a3" stroke="#1c75a3" stroke-width="0.9" stroke-linejoin="round"/><use href="#v6" fill="none" stroke="#1c75a3" stroke-width="3.9" stroke-linecap="round" stroke-linejoin="round"/><use href="#v7" fill="none" stroke="#1c75a3" stroke-width="4.1" stroke-linecap="round" stroke-linejoin="round"/><use href="#v8" fill="none" stroke="#1c75a3" stroke-width="4.3" stroke-linecap="round" stroke-linejoin="round"/><use href="#v5" fill="#2f9acb"/><use href="#v6" fill="none" stroke="#2f9acb" stroke-width="3" stroke-linecap="round" stroke-linejoin="round"/><use href="#v7" fill="none" stroke="#2f9acb" stroke-width="3.2" stroke-linecap="round" stroke-linejoin="round"/><use href="#v8" fill="none" stroke="#2f9acb" stroke-width="3.4" stroke-linecap="round" stroke-linejoin="round"/><path d="M164.2 95.4L170.5 96.6L179.4 97.5L189.4 96.5L199.4 95.5L207.4 96L214.1 97.5L219.2 100.6L223.8 104.5L228.9 107.8L233.8 111.4L238.6 116L243.7 121.4L249.1 127.9L255.7 134.5L264.7 140.2L273.9 144.7L281.7 147.6L289.1 149.8L296.8 152L303.8 154.8L309 159.1L313.4 164.4L317 170.6L320.2 177.3L323.3 184.1L326.2 191.2L329.1 199.2L332.1 207.2L335.1 214.3L338.1 221.3L341.4 230.1L344 237.2A1.4 1.4 0 0 0 346.7 236.2L344.1 229.1L340.7 220.2L337.6 213.2L334.6 206.2L331.6 198.3L328.6 190.3L325.6 183.1L322.5 176.2L319.2 169.4L315.4 163L310.7 157.4L305 152.7L297.5 149.8L289.7 147.7L282.4 145.5L274.8 142.8L265.7 138.3L257 132.9L250.6 126.6L245.1 120.1L239.9 114.7L235 110L229.9 106.3L224.9 103L220.2 99.2L214.7 95.9L207.6 94.4L199.3 93.9L189.3 95L179.4 96L170.7 95.1L164.5 94A0.7 0.7 0 0 0 164.2 95.4ZM267 171.4L270.6 173.6L275.5 175.9L280.4 176.7L285.6 176.9L291.4 177.3L297.8 177L305.1 174.7L311.6 173L315.9 174.6L319 177.7L320.9 182.4L321.9 186.5A0.8 0.8 0 0 0 323.4 186.1L322.4 181.9L320.3 176.9L316.7 173.4L311.6 171.6L304.7 173.3L297.5 175.6L291.4 175.9L285.7 175.7L280.5 175.5L275.8 174.7L271.1 172.5L267.5 170.4A0.6 0.6 0 0 0 267 171.4ZM691.6 95.5L686.7 95.6L679.6 95.5L671 95L661.7 94.5L652.9 94.1L644.5 94.5L636.9 96.3L629.3 99.5L620 104.6L611.1 110.6L605 116.9L599.1 123.7L590.6 131.5L581.2 138.5L571.3 142.4L561.3 145.5L552.4 149.6L544.3 153.4L536.2 155.9L529.2 158.5L525.2 162.5L522.8 166.9L520.9 172L519.8 176A0.9 0.9 0 0 0 521.5 176.5L522.6 172.5L524.4 167.6L526.6 163.5L530.1 160L536.7 157.5L544.9 155L553.2 151.1L561.9 147L571.8 143.9L582 139.9L591.6 132.7L600.2 124.8L606.2 118L612.1 111.8L620.8 105.9L629.9 100.9L637.4 97.8L644.7 96L652.9 95.6L661.6 96L670.9 96.5L679.6 96.9L686.7 97L691.6 96.9A0.7 0.7 0 0 0 691.6 95.5ZM580.8 170.4L577.3 172.6L572.5 174.7L567.4 174.9L561.7 174.7L555.7 174.9L549.8 174.6L543.6 172.3L537.6 170.6L533.2 172.9L530 176.9L527.5 182.4L525.9 187A0.8 0.8 0 0 0 527.4 187.6L528.9 183L531.3 177.7L534.1 174L537.7 172L543.1 173.6L549.5 176L555.7 176.2L561.6 175.9L567.4 176.2L572.8 175.9L577.9 173.6L581.5 171.4A0.6 0.6 0 0 0 580.8 170.4Z" fill="#7fcbe6" opacity=".55"/><defs><path id="v9" d="M185 90C184.2 91 181.7 94 180 96C178.3 98 175.8 101 175 102M246 86C246.7 88.3 248.5 95 250 100C251.5 105 254.2 113.3 255 116M311 150C311.2 148.8 311.8 145.2 312 143C312.2 140.8 312 138 312 137M596 112C596.5 109.7 598.2 102.3 599 98C599.8 93.7 600.7 88 601 86M670 91C670.8 92.2 673.3 95.7 675 98C676.7 100.3 679.2 103.8 680 105M536 155C536.2 153.3 536.8 148.2 537 145C537.2 141.8 537 137.5 537 136"/></defs><defs><path id="v10" d="M155 91C157.5 91.2 165 92.2 170 92C175 91.8 180 90.7 185 90C190 89.3 195 88.2 200 88C205 87.8 210 88 215 89C220 90 225.5 91.8 230 94C234.5 96.2 238.7 99 242 102C245.3 105 247.5 108.7 250 112C252.5 115.3 254.2 118.7 257 122C259.8 125.3 262.8 129 267 132C271.2 135 277 137.8 282 140C287 142.2 292.3 143.3 297 145C301.7 146.7 306.7 148 310 150C313.3 152 315 154.5 317 157C319 159.5 319 162.8 322 165C325 167.2 331.2 168.8 335 170C338.8 171.2 343.3 171.7 345 172M200 130C201.7 130.7 205.8 132.3 210 134C214.2 135.7 220 138.2 225 140C230 141.8 235 143.8 240 145C245 146.2 250.5 145.3 255 147C259.5 148.7 263.3 152 267 155C270.7 158 273.2 162.2 277 165C280.8 167.8 285.3 170.5 290 172C294.7 173.5 300 174.3 305 174C310 173.7 315 170.7 320 170C325 169.3 332.5 170 335 170M505 172C507.2 170.8 513.5 167.7 518 165C522.5 162.3 526.7 159.7 532 156C537.3 152.3 544.5 146.2 550 143C555.5 139.8 560 138.8 565 137C570 135.2 575.8 134.5 580 132C584.2 129.5 587.2 125.7 590 122C592.8 118.3 593.7 113.7 597 110C600.3 106.3 605.3 103 610 100C614.7 97 620 93.8 625 92C630 90.2 634.2 89.5 640 89C645.8 88.5 653.3 88.7 660 89C666.7 89.3 674.3 90.5 680 91C685.7 91.5 691.7 91.8 694 92M505 172C508.3 171.8 518.3 170.5 525 171C531.7 171.5 538.3 175.2 545 175C551.7 174.8 559.2 173 565 170C570.8 167 575 160.8 580 157C585 153.2 590 149.5 595 147C600 144.5 605 143.7 610 142C615 140.3 620 138.7 625 137C630 135.3 636.2 132.8 640 132C643.8 131.2 646.7 132 648 132"/></defs><use href="#v9" fill="none" stroke="#aa192d" stroke-width="4.3" stroke-linecap="round" stroke-linejoin="round"/><use href="#v10" fill="none" stroke="#aa192d" stroke-width="5.5" stroke-linecap="round" stroke-linejoin="round"/><use href="#v9" fill="none" stroke="#de2239" stroke-width="3.4" stroke-linecap="round" stroke-linejoin="round"/><use href="#v10" fill="none" stroke="#de2239" stroke-width="4.6" stroke-linecap="round" stroke-linejoin="round"/><use href="#v10" fill="none" stroke="#f5656f" stroke-width="1.5" stroke-linecap="round" stroke-linejoin="round" opacity=".55" transform="translate(-0.3,-0.6)"/><path d="M121 77C122.3 78.7 126.3 84 129 87C131.7 90 134.2 92.3 137 95C139.8 97.7 142.8 100.3 146 103C149.2 105.7 152.2 108.3 156 111C159.8 113.7 165 116.8 169 119C173 121.2 175.8 122.6 180 124C184.2 125.4 189.8 126.3 194 127.5C198.2 128.7 203.2 130.4 205 131M729 79C727.5 80.5 723.5 84.5 720 88C716.5 91.5 712.5 96.2 708 100C703.5 103.8 698.5 107.2 693 110.5C687.5 113.8 680.5 116.8 675 119.5C669.5 122.2 664.7 125 660 127C655.3 129 649.2 130.8 647 131.5" fill="none" stroke="#d98a92" stroke-width="3.6" stroke-linecap="round" opacity=".5"/><path d="M126 74C127 75.7 128.7 80.2 132 84C135.3 87.8 141.5 93.3 146 97C150.5 100.7 154.7 103.2 159 106C163.3 108.8 167.7 111.6 172 114C176.3 116.4 180.3 118.7 185 120.5C189.7 122.3 195.7 123.7 200 125C204.3 126.3 209.2 127.9 211 128.5M726 76C724.3 77.3 719.5 81.2 716 84C712.5 86.8 709.3 88.8 705 92.5C700.7 96.2 695 102.2 690 106C685 109.8 680 112.2 675 115C670 117.8 665 120.2 660 122.5C655 124.8 649 127.6 645 129C641 130.4 637.5 130.7 636 131" fill="none" stroke="#bfb9c8" stroke-width="4.4" stroke-linecap="round" opacity=".9"/><path d="M132 84C134.3 86.2 141.5 93.3 146 97C150.5 100.7 154.7 103.2 159 106C163.3 108.8 167.7 111.6 172 114C176.3 116.4 180.3 118.7 185 120.5C189.7 122.3 195.7 123.7 200 125C204.3 126.3 209.2 127.9 211 128.5M716 84C714.2 85.4 709.3 88.8 705 92.5C700.7 96.2 695 102.2 690 106C685 109.8 680 112.2 675 115C670 117.8 665 120.2 660 122.5C655 124.8 649 127.6 645 129C641 130.4 637.5 130.7 636 131" fill="none" stroke="#efecf2" stroke-width="1.6" stroke-linecap="round" opacity=".95"/><path d="M132 84C134.2 85 140.8 88.8 145 90C149.2 91.2 155 91.2 157 91.5M716 84C714 85 707.5 88.6 704 90C700.5 91.4 696.5 92.1 695 92.5" fill="none" stroke="#c9b3bf" stroke-width="3.4" stroke-linecap="round" opacity=".8"/><path d="M156 84V93M695 86V95" stroke="#b59393" stroke-width=".9" fill="none"/>
<path d="M272 180C273.6 177.9 284.9 174.4 290 172C295.1 169.6 306 164 310 162C314 160 317.3 158.6 320 157C322.7 155.4 327.7 151.9 330 150C332.3 148.1 335.3 145 337 143C338.7 141 341.8 132.7 343 135C344.2 137.3 346.4 157.1 346 160C345.6 162.9 342.1 157.1 340 157C337.9 156.9 332.7 158.1 330 159C327.3 159.9 322.7 162.7 320 164C317.3 165.3 314 167.1 310 169C306 170.9 294.3 175.5 290 178C285.7 180.5 280.4 187.7 278 188C275.6 188.3 270.4 182.1 272 180Z" fill="#f1cbc8" stroke="#a98585" stroke-width=".8"/><path d="M580 180C579.1 178.3 569 176.7 565 175C561 173.3 554 169.4 550 167C546 164.6 539 159.7 535 157C531 154.3 522.9 149.3 520 147C517.1 144.7 514.7 141.9 513 140C511.3 138.1 508.2 130.3 507 133C505.8 135.7 503.6 156.9 504 160C504.4 163.1 507.2 155.7 510 156C512.8 156.3 521 160.1 525 162C529 163.9 536 168 540 170C544 172 550.7 174.6 555 177C559.3 179.4 568.7 187.6 572 188C575.3 188.4 580.9 181.7 580 180Z" fill="#f1cbc8" stroke="#a98585" stroke-width=".8"/><path d="M333 122L347 162L342 160L336 146Z M517 122L503 162L508 160L514 146Z" fill="#f3d0ce"/><path d="M300 168L326 155M550 169L524 153" stroke="#fbeceb" stroke-width="2" stroke-linecap="round" opacity=".8"/><path d="M182 166C182.7 163 185.3 158.7 188 156C190.7 153.3 194 151.3 198 150C202 148.7 207.3 148 212 148C216.7 148 221.3 148.7 226 150C230.7 151.3 235.2 153.5 240 156C244.8 158.5 250.3 162 255 165C259.7 168 264.2 171.7 268 174C271.8 176.3 275.5 177.7 278 179C280.5 180.3 282.7 179.8 283 182C283.3 184.2 281.3 189 280 192C278.7 195 278 197.5 275 200C272 202.5 267 205.3 262 207C257 208.7 251.2 210.3 245 210C238.8 209.7 231.3 207.3 225 205C218.7 202.7 212.5 199.7 207 196C201.5 192.3 195.8 186.7 192 183C188.2 179.3 185.7 176.8 184 174C182.3 171.2 181.3 169 182 166Z" fill="url(#ovg)" stroke="#a98585" stroke-width=".9"/><ellipse cx="215" cy="165" rx="16" ry="9" fill="#fdf1ee" opacity=".8" filter="url(#b2)"/><ellipse cx="252" cy="178" rx="10" ry="7" fill="#fdf1ee" opacity=".8" filter="url(#b2)"/><ellipse cx="230" cy="192" rx="14" ry="6" fill="#fdf1ee" opacity=".8" filter="url(#b2)"/><path d="M667 170C667.2 165.2 666 161 664 158C662 155 659 153.3 655 152C651 150.7 645 150.2 640 150C635 149.8 630 150.3 625 151C620 151.7 614.7 152.2 610 154C605.3 155.8 601.2 159 597 162C592.8 165 588.7 169 585 172C581.3 175 577.3 178 575 180C572.7 182 571.2 182 571 184C570.8 186 572.5 189.7 574 192C575.5 194.3 577 195.7 580 198C583 200.3 587.5 203.7 592 206C596.5 208.3 601.5 211 607 212C612.5 213 619.2 212.8 625 212C630.8 211.2 637 209.2 642 207C647 204.8 651.5 202.3 655 199C658.5 195.7 661 191.8 663 187C665 182.2 666.8 174.8 667 170Z" fill="url(#ovg)" stroke="#a98585" stroke-width=".9"/><ellipse cx="630" cy="165" rx="18" ry="9" fill="#fdf1ee" opacity=".8" filter="url(#b2)"/><ellipse cx="605" cy="180" rx="10" ry="7" fill="#fdf1ee" opacity=".8" filter="url(#b2)"/><ellipse cx="630" cy="195" rx="14" ry="6" fill="#fdf1ee" opacity=".8" filter="url(#b2)"/><path d="M218 175Q226 169 233 176M249 183Q245 191 251 197M599 181Q595 189 601 197M610 175Q620 170 629 178" fill="none" stroke="#c9979b" stroke-width="1.3" stroke-linecap="round" opacity=".75"/><path d="M216 178Q226 172 236 180M252 182Q249 191 255 198M596 180Q592 189 598 198M608 178Q620 173 631 181" fill="none" stroke="#e0b0b0" stroke-width="3" stroke-linecap="round" opacity=".6" filter="url(#b2)"/>
<path d="M345 160C345.7 163.7 347.5 174.7 349 182C350.5 189.3 352 196.7 354 204C356 211.3 358.3 219 361 226C363.7 233 366.8 239.8 370 246C373.2 252.2 377.2 257.7 380 263C382.8 268.3 385.2 272.8 387 278C388.8 283.2 390.3 291.3 391 294L459 294L459.6 291.1L460.6 286.9L461.7 282.3L463 278L464.5 274.2L466.1 270.6L468 266.9L470 263L472.3 259L474.9 254.8L477.5 250.5L480 246L482.4 241.3L484.7 236.3L486.9 231.2L489 226L490.9 220.6L492.8 215.1L494.4 209.5L496 204L497.4 198.5L498.7 193L499.9 187.5L501 182L502.2 176L503.3 169.6L504.3 164L505 160Z" fill="#f2d2cf" stroke="#d9b3b2" stroke-width=".8"/>
<defs><path id="v11" d="M136.1 251.5L141.1 252.6L148.4 254.2L156.3 255.8L163.2 257.3L168.6 258.4L173.5 259.3L178.3 260.2L183.5 261.1L189.4 262.1L195.6 263.1L202.1 264.1L209 264.9L216.2 265.8L223.9 266.6L231.8 267.2L239.6 267.7L247.3 267.9L255 267.8L262.7 267.7L270.3 267.4L278 267L286 266.5L293.7 265.8L300.8 265L307.2 264.2L313.1 263.2L318.7 262L324.1 260.5L329.1 258.6L333.7 256.4L337.8 254L341.7 251.5L345.6 248.6L349.3 245.4L352.3 242.7L354.3 240.8A6.5 6.5 0 0 0 345.7 231.2L343.6 233L340.7 235.6L337.5 238.2L334.3 240.5L331 242.5L327.5 244.4L323.9 246.1L319.9 247.5L315.5 248.6L310.7 249.5L305.3 250.3L299.2 251L292.4 251.6L285 252L277.3 252.4L269.7 252.6L262.3 252.8L255 252.8L247.7 252.6L240.4 252.3L233 251.7L225.5 250.9L218.1 250L211 249.1L204.5 248.1L198.2 247L192.2 245.9L186.5 244.9L181.4 243.9L176.8 242.9L172.1 241.9L166.8 240.7L159.9 239.2L152.1 237.3L144.9 235.6L139.9 234.5A8.8 8.8 0 0 0 136.1 251.5ZM278.6 283.2L280.5 283.4L282.7 283.5L285 283.8L287.9 284.8L291.9 286.8L296.8 289.6L302 292.8L307 296.2L311.9 299.8L316.9 303.9L321.9 308.2L326.9 312L331.8 315.6L336.6 319.2L341.4 322.3L346.1 324.6L350.5 326L354.5 326.3L358.2 325.7L361.7 324.7L365.3 323.2L369.1 321L372.7 318.4L375.8 315.1L378.4 311.4L380.4 307.3L381.9 303L382.9 298.7L383.1 294.3L382.6 290L381.8 286L380.5 282.3L378.9 278.7L376.9 275.6L374.9 272.8L372.9 270.1L370.7 267.3L368.4 264.5L366 261.7L363.7 258.9L361 255.7L358.1 252.3L355.5 249.1L353.6 247A4.8 4.8 0 0 0 346.4 253L348.2 255.2L350.8 258.4L353.7 261.8L356.3 265.1L358.7 267.9L361 270.6L363.1 273.3L365.1 275.9L367.1 278.6L368.9 281L370.4 283.3L371.5 285.7L372.3 288.5L373 291.6L373.3 294.6L373.1 297.3L372.5 300.3L371.3 303.4L369.8 306.4L368.2 308.9L366.2 310.9L363.7 312.7L360.9 314.2L358.3 315.3L356.1 316L354.2 316.2L352.4 316.1L349.9 315.4L346.5 313.6L342.4 310.8L337.8 307.5L333.1 304L328.4 300.2L323.4 296.1L318.2 291.8L313 287.8L307.6 284.1L302.1 280.7L296.9 277.6L292.1 275.2L287.7 273.7L283.8 273L281.1 272.9L279.4 272.8A5.2 5.2 0 0 0 278.6 283.2ZM348.5 321.3L349.5 324.1L351.1 328.2L352.9 332.9L354.8 337.4L356.7 341.5L358.7 345.6L360.9 349.7L363.2 353.7L365.7 357.4L368.2 361L370.9 364.5L373.7 367.9L376.7 371.3L379.9 374.6L383 377.8L386 380.9L389.1 384.2L392.3 387.6L395.2 390.6L397.2 392.7A2.5 2.5 0 0 0 400.8 389.3L398.9 387.2L396.2 384.1L393 380.5L390 377.1L387.1 373.9L384 370.7L381.1 367.4L378.3 364.1L375.7 360.8L373.3 357.4L371 353.9L368.8 350.3L366.7 346.6L364.8 342.6L362.9 338.6L361.2 334.6L359.5 330.3L357.9 325.8L356.5 321.6L355.5 318.7A3.8 3.8 0 0 0 348.5 321.3ZM344.8 242.4L346.6 241.7L349.4 240.6L352.4 239.3L355.2 237.6L357.3 235.3L359 232.7L360.4 230.4L361.3 228.8A1.5 1.5 0 0 0 358.7 227.2L357.7 228.7L356.2 230.8L354.5 232.9L352.8 234.4L350.7 235.5L347.9 236.4L345.1 237.1L343.2 237.6A2.5 2.5 0 0 0 344.8 242.4ZM347.5 245.9L349.4 246.4L352.2 247L355.3 247.5L358.2 247.6L360.6 246.6L362.5 245.2L363.9 243.8L364.8 242.9A1.2 1.2 0 0 0 363.2 241.1L362.1 241.9L360.8 243L359.2 244L357.8 244.4L355.8 244.2L353 243.5L350.4 242.6L348.5 242.1A2 2 0 0 0 347.5 245.9ZM709.4 224.7L703.5 226.6L695 229.5L685.8 232.6L677.7 235.2L671 237.4L664.9 239.3L659.1 241L653.2 242.6L647.1 244.1L641.1 245.6L635 246.8L628.9 248L622.7 249.1L616.7 250L610.6 250.8L604.6 251.4L598.6 251.7L592.3 251.8L586 251.8L579.9 251.9L574.2 252.3L569.2 252.8L564.7 253.2L560.2 253.3L555.5 253L550.6 252.5L545.8 251.8L541.5 250.9L537.5 249.6L533.6 248.1L529.9 246.4L526.4 244.6L523.1 242.9L520 241.1L517.4 239.3L515.2 237.6L513.4 235.8L512 234L511 232.4L510.3 230.9L510.1 229.3L510.1 227.5L510.4 225.6L511 223.7L512 221.6L513.4 219.3L515.2 216.9L517 214.8L518.6 213.1L520.6 211.6L522.8 209.7L524.9 207.5L526.7 205.1L528.3 202.6L529.7 199.8L530.6 196.8L530.9 193.6L530.7 190.6L530.1 187.7L529.3 184.9L528 181.9L526.3 179.2L524.8 176.8L523.8 175.3A3.2 3.2 0 0 0 518.2 178.7L519.2 180.3L520.6 182.6L521.9 185L522.7 187.1L523.3 189.2L523.6 191.4L523.7 193.5L523.4 195.2L522.8 197L521.8 198.8L520.5 200.7L519.1 202.5L517.6 203.9L515.7 205.3L513.4 207.1L511 209.2L508.9 211.7L506.7 214.4L504.7 217.3L503 220.3L502 223.4L501.3 226.6L501.2 229.9L501.7 233.1L502.8 236.3L504.4 239.2L506.4 241.9L508.8 244.4L511.6 246.9L514.7 249.2L518.1 251.3L521.6 253.4L525.3 255.4L529.4 257.5L533.8 259.5L538.5 261.1L543.6 262.4L548.9 263.5L554.4 264.2L559.8 264.7L565.1 264.8L570.1 264.6L575 264.3L580.1 264.1L585.8 264.2L592.1 264.5L598.7 264.7L605.4 264.6L611.9 264.2L618.3 263.6L624.8 262.9L631.1 262L637.5 261L643.9 259.9L650.4 258.7L656.8 257.4L663.1 255.9L669.2 254.3L675.5 252.6L682.3 250.8L690.7 248.4L700.1 245.6L708.7 243.1L714.6 241.3A8.8 8.8 0 0 0 709.4 224.7ZM579.5 271.8L575.9 272.2L570.6 272.7L564.5 273.6L558.5 275L552.9 277.2L547.6 279.7L542.5 282.6L537.3 285.6L532 289L526.8 292.8L521.7 296.5L517 299.9L512.7 303L508.7 305.9L505 308.5L501.5 310.7L498 312.6L494.7 314.2L491.7 315.4L489 316.1L486.4 316.5L484.1 316.5L482 316.2L480.2 315.5L478.3 314.4L476.5 312.8L474.7 310.8L473.3 308.6L472.3 306.3L471.5 303.6L471 300.8L470.9 298.2L471.2 295.5L471.9 292.7L472.9 290L474.1 287.7L475.5 285.9L477.6 284.1L480.2 282L483 279.8L485.9 277.4L489 274.9L492.2 272.3L495.4 269.4L498.5 266L501.5 262.4L504 259.2L505.7 257A4.8 4.8 0 0 0 498.3 251L496.5 253.3L494 256.4L491.3 259.7L488.6 262.6L486 265L483 267.4L479.9 269.9L477 272.2L474.2 274.4L471.4 276.6L468.5 279.1L465.9 282.3L464 286L462.5 289.8L461.6 293.8L461.1 297.8L461.2 301.8L461.9 305.9L463 309.7L464.7 313.4L466.8 316.7L469.4 319.7L472.4 322.4L475.8 324.5L479.5 325.8L483.3 326.4L487.1 326.4L491 325.9L494.9 324.9L498.8 323.3L502.6 321.5L506.5 319.3L510.5 316.9L514.5 314.1L518.6 311.2L523 308.1L527.7 304.7L532.7 301.1L537.8 297.5L542.7 294.4L547.5 291.5L552.4 288.9L557.1 286.7L561.5 285L566.4 283.8L571.9 283.1L576.9 282.6L580.5 282.2A5.2 5.2 0 0 0 579.5 271.8ZM493.4 317L492.6 320.1L491.5 324.5L490.2 329.3L488.7 333.8L487.1 338L485.3 342.3L483.3 346.4L481.2 350.4L479 354L476.7 357.4L474.3 360.8L471.7 364.1L468.9 367.4L466 370.7L463 373.9L460 377.1L457 380.5L453.8 384.1L451.1 387.2L449.2 389.3A2.5 2.5 0 0 0 452.8 392.7L454.8 390.6L457.7 387.6L460.9 384.2L464 380.9L467 377.8L470.1 374.6L473.3 371.3L476.3 367.9L479.1 364.5L481.8 361.1L484.3 357.5L486.8 353.6L489.1 349.5L491.4 345.1L493.4 340.7L495.3 336.2L497 331.4L498.5 326.4L499.7 322L500.6 319A3.8 3.8 0 0 0 493.4 317ZM505 245.2L503.5 244.8L501.2 244.1L498.5 243.6L495.7 243.6L493.1 244.6L491.1 246.1L489.7 247.6L488.7 248.5A2 2 0 0 0 491.3 251.5L492.4 250.7L493.9 249.6L495.3 248.7L496.3 248.4L497.6 248.7L499.6 249.4L501.6 250.2L503 250.8A3 3 0 0 0 505 245.2Z"/></defs><use href="#v11" fill="#1c75a3" stroke="#1c75a3" stroke-width="0.9" stroke-linejoin="round"/><use href="#v11" fill="#2f9acb"/><path d="M136.2 243.3L148.4 246L163.2 249.2L173.4 251.3L183.3 253.2L195.2 255.2L208.4 257.1L223.2 258.8L238.6 260L253.8 260.3L268.9 259.9L284.4 259.1L299 257.8L311 256.1L321.4 253.6L330.4 249.9L338 245.3L345.1 239.7L350.2 235.1A2.1 2.1 0 0 0 347.4 232L342.4 236.4L335.6 241.8L328.4 246L320.1 249.5L310.3 251.7L298.5 253.3L284.1 254.5L268.7 255.2L253.8 255.5L238.9 255.1L223.7 253.8L209.1 252L196.1 250L184.2 247.9L174.4 246.1L164.3 243.9L149.6 240.6L137.4 237.8A2.8 2.8 0 0 0 136.2 243.3ZM278.2 278.2L282.2 278.4L288.6 280.1L297.8 285.1L308.3 291.9L318.4 299.8L328.3 307.8L337.9 314.9L346.6 320L353.6 321.4L359.8 320L366.5 316.7L372.5 311.5L376.6 304.5L378.8 296.7L378.6 289.1L376.7 282L373.5 276L369.5 270.6L365.1 265.1L360.4 259.5L354.9 252.9L350.4 247.6A1.5 1.5 0 0 0 348.1 249.5L352.5 254.8L358.1 261.5L362.8 267.1L367 272.5L370.9 277.7L373.8 283.1L375.5 289.6L375.7 296.3L373.7 303.3L370 309.5L364.8 314.1L358.7 317L353.6 318.2L347.9 317L339.7 312.2L330.3 305.2L320.4 297.3L310.2 289.2L299.6 282.2L289.9 277L282.8 275.1L278.4 274.9A1.7 1.7 0 0 0 278.2 278.2ZM350.3 319.4L352.9 326.4L356.4 335.4L360.3 343.6L364.6 351.5L369.4 358.7L374.7 365.6L380.7 372.2L386.8 378.5L393.1 385.3L397.9 390.5A0.8 0.8 0 0 0 399.1 389.4L394.3 384.2L388.1 377.4L382.1 371L376.2 364.3L371 357.6L366.4 350.4L362.2 342.6L358.5 334.5L355.1 325.5L352.6 318.5A1.2 1.2 0 0 0 350.3 319.4ZM343.9 240.1L348.5 238.5L354 235.8L357.7 231.4L360.1 227.6A0.5 0.5 0 0 0 359.2 227L356.8 230.7L353.3 234.8L348 237.1L343.4 238.5A0.8 0.8 0 0 0 343.9 240.1ZM709.9 227.9L695.5 232.5L678 238.1L665.2 241.9L653.2 245.2L640.8 248L628.4 250.3L616 252.2L603.7 253.4L591 253.6L578.7 253.6L568.4 254.3L558.8 254.7L548.8 253.8L539.2 251.9L530.9 248.9L523.5 245.1L517 241.4L511.8 237.4L508.2 233.4L506.2 229.2L505.9 224.8L507 220.1L509.9 215.1L513.7 210.5L517.7 206.9L521.7 203.4L524.9 198.8L526.9 193.8L527 188.4L525.8 183.2L523.1 177.9L520.7 174A1 1 0 0 0 518.9 175.1L521.3 178.9L523.7 183.9L524.8 188.7L524.6 193.3L522.8 197.7L519.9 201.7L516.1 205L511.8 208.6L507.7 213.6L504.5 219L503.1 224.5L503.4 229.9L505.7 235L509.8 239.7L515.3 244L522 248L529.6 251.9L538.3 255.2L548.3 257.3L558.7 258.4L568.6 258.1L578.8 257.5L591 257.7L603.9 257.7L616.5 256.5L629.1 254.8L641.7 252.6L654.3 249.9L666.5 246.8L679.5 243L697.1 237.7L711.6 233.2A2.8 2.8 0 0 0 709.9 227.9ZM579.1 273.9L570.3 274.8L558.8 276.9L548.5 281.4L538.4 287.1L528.1 294.1L518.3 301.2L510 307.2L502.4 312.1L495.4 315.8L488.9 318L483.1 318.4L478 317.1L473.3 313.7L469.7 308.8L467.5 302.9L466.8 296.6L467.9 290.2L470.6 284.4L474.8 280L480.2 275.7L486.3 270.9L492.4 265.6L498.2 258.9L502.5 253.5A1.5 1.5 0 0 0 500.1 251.6L495.8 256.9L490.2 263.4L484.3 268.5L478.3 273.3L472.7 277.7L468 282.7L465 289.3L463.7 296.5L464.4 303.6L466.9 310.3L471.1 315.9L476.6 320L482.8 321.6L489.6 321.1L496.6 318.8L504.1 314.9L511.8 309.9L520.2 303.8L530 296.8L540.1 289.9L550 284.3L559.7 280.1L570.8 278.1L579.4 277.2A1.7 1.7 0 0 0 579.1 273.9ZM495.3 316.6L493.4 324.1L490.4 333.6L486.8 342.2L482.6 350.4L477.9 357.6L472.7 364.3L466.9 371L460.8 377.4L454.6 384.2L449.9 389.4A0.8 0.8 0 0 0 451.1 390.5L455.8 385.3L462.1 378.5L468.2 372.2L474.2 365.6L479.5 358.8L484.4 351.5L488.8 343.1L492.5 334.3L495.6 324.7L497.6 317.3A1.2 1.2 0 0 0 495.3 316.6ZM503.9 246.3L500.2 245.1L495.5 244.4L491.7 246.4L489.2 248.7A0.6 0.6 0 0 0 490 249.6L492.5 247.6L495.7 245.9L499.7 246.8L503.3 248.1A1 1 0 0 0 503.9 246.3Z" fill="#7fcbe6" opacity=".55"/><defs><linearGradient id="f12" gradientUnits="userSpaceOnUse" x1="146" y1="244" x2="178" y2="251"><stop offset="0" stop-color="#fff"/><stop offset=".25" stop-color="#fff" stop-opacity=".8"/><stop offset="1" stop-color="#fff" stop-opacity="0"/></linearGradient></defs><path d="M117.4 253.1L174.8 265.7L181.2 236.3L123.8 223.8Z" fill="url(#f12)"/><defs><linearGradient id="f13" gradientUnits="userSpaceOnUse" x1="706" y1="235" x2="676" y2="243"><stop offset="0" stop-color="#fff"/><stop offset=".25" stop-color="#fff" stop-opacity=".8"/><stop offset="1" stop-color="#fff" stop-opacity="0"/></linearGradient></defs><path d="M727.3 213.8L672.1 228.5L679.9 257.5L735 242.8Z" fill="url(#f13)"/><defs><path id="v14" d="M179.3 216.9L182.4 221.8L186.8 228.9L191.5 236.6L195.5 242.9L198.6 247.4L201.1 251L203.5 254.2L206 257.3L208.8 260.4L211.5 263.1L214.1 265.5L216.5 267.7L219.1 270.1L221.8 272.4L224.1 274.4L225.7 275.8A5 5 0 0 0 232.3 268.2L230.7 266.8L228.4 264.8L225.9 262.6L223.5 260.3L221.1 258L218.6 255.7L216.3 253.3L214 250.7L211.8 247.9L209.6 245L207.3 241.5L204.5 237.1L200.6 230.9L196 223.3L191.7 216.1L188.7 211.1A5.5 5.5 0 0 0 179.3 216.9ZM224.8 274L224.9 276.9L225 281L225.2 285.6L225.2 289.9L225.1 294.3L224.9 298.9L224.7 303L224.6 305.9A1.4 1.4 0 0 0 227.4 306.1L227.7 303.2L228.1 299.1L228.5 294.5L228.8 290.1L229 285.6L229.1 281L229.2 276.9L229.2 274A2.2 2.2 0 0 0 224.8 274ZM228.9 277.7L229.9 280.4L231.4 284.2L232.9 288.4L234.3 292.5L235.3 296.6L236.3 301.2L237.1 305.3L237.6 308.2A1.4 1.4 0 0 0 240.4 307.8L240 304.9L239.4 300.7L238.6 296L237.7 291.5L236.6 287.3L235.2 282.8L234 279L233.1 276.3A2.2 2.2 0 0 0 228.9 277.7ZM234.2 277.3L236.2 279.8L238.9 283.4L241.9 287.4L244.5 291L246.7 294.3L248.8 297.6L250.5 300.6L251.8 302.7A1.4 1.4 0 0 0 254.2 301.3L253.1 299.2L251.5 296.1L249.5 292.6L247.5 289L245 285.2L242.2 281.1L239.6 277.3L237.8 274.7A2.2 2.2 0 0 0 234.2 277.3ZM224.8 271.6L227.2 272.4L230.6 273.5L234.8 274.7L239.3 275.7L244 276.4L249.2 277.1L254.7 277.6L260.1 277.7L265.5 277.2L270.6 276.3L275.6 275.4L280.5 274.6L285.6 273.9L290.7 273.2L295.6 272.7L299.9 272.5L303.5 272.9L306.8 273.7L310.4 274.7L314.5 275.4L318.8 275.9L323.2 276.3L327.7 276.5L332.2 276.4L336.6 276L341.1 275.3L345.4 274.4L349.3 273.1L352.8 271.1L355.7 268.8L357.8 266.8L359.2 265.4A3.3 3.3 0 0 0 354.8 260.6L353.3 261.9L351.3 263.8L349.1 265.6L346.7 266.9L343.7 267.9L339.9 268.7L335.8 269.3L331.8 269.6L327.8 269.7L323.7 269.4L319.5 269.1L315.5 268.6L312 267.9L308.6 266.9L304.6 266L300.1 265.5L295.1 265.6L289.9 266.1L284.6 266.8L279.5 267.4L274.4 268.2L269.4 269.2L264.5 270L259.9 270.3L255.1 270.2L250 269.7L245.1 269.1L240.7 268.3L236.7 267.4L232.9 266.3L229.6 265.2L227.2 264.4A3.8 3.8 0 0 0 224.8 271.6ZM260.4 275.9L262.2 277.4L264.7 279.4L267.6 281.7L270.5 284L273.4 286L276.3 288L279.3 290.2L282.4 292.7L285.6 296L289 299.9L292.6 303.9L296.4 307.7L300.4 311.1L304.5 314.3L308.7 317.2L312.8 319.9L316.8 322.3L320.8 324.4L324.8 326.2L329.2 328L334.1 329.7L339.4 331.3L344.6 332.7L349.5 334L353.9 335.2L358.1 336.3L362 337.2L365.6 338L368.7 338.7L371.6 339.2L374 339.7L375.6 340A2 2 0 0 0 376.4 336L374.7 335.7L372.4 335.3L369.6 334.7L366.4 334L363 333.2L359.1 332.2L354.9 331.2L350.5 330L345.7 328.6L340.6 327.2L335.5 325.6L330.8 324L326.6 322.2L322.7 320.4L319 318.4L315.2 316.1L311.2 313.5L307.2 310.6L303.3 307.5L299.6 304.3L296 300.7L292.5 296.8L289.1 292.8L285.6 289.3L282.3 286.4L279.2 284.1L276.2 282L273.5 280L270.7 277.8L267.8 275.5L265.3 273.5L263.6 272.1A2.5 2.5 0 0 0 260.4 275.9ZM357 266.3L359.3 267.2L362.5 268.5L365.8 270L368.4 271.8L370.5 274L372.5 276.8L374.3 279.8L375.9 282.9L377.2 286.1L378.2 289.4L379.1 292.9L379.9 296.5L380.7 299.9L381.4 303.3L381.8 306.7L382 309.9L381.7 313.2L381.1 316.6L380.3 319.9L379.2 323.3L377.7 327L375.7 331L373.7 334.6L372.4 337.1A1.8 1.8 0 0 0 375.6 338.9L377 336.4L379 332.7L381.1 328.6L382.8 324.7L384 321.1L385 317.4L385.7 313.8L386 310.1L386 306.3L385.5 302.7L384.8 299.1L384.1 295.5L383.4 292L382.5 288.3L381.5 284.6L380.1 281.1L378.4 277.6L376.5 274.2L374.2 271L371.6 268.2L368.2 265.8L364.5 264L361.2 262.6L359 261.7A2.5 2.5 0 0 0 357 266.3ZM663.6 209.7L660.3 214.3L655.5 220.8L650.3 227.8L645.8 233.7L642.3 238L639.1 241.7L636 245.2L633 248.7L630.2 252.4L627.5 255.9L625.2 259.1L623.1 261.8L621 264.3L619.1 266.5L617.5 268.3L616.3 269.7A5 5 0 0 0 623.7 276.3L624.9 275L626.6 273.2L628.7 270.8L630.9 268.2L633.3 265.2L635.7 262L638.3 258.7L641 255.3L643.8 252L646.9 248.7L650.3 244.9L654.2 240.3L658.8 234.3L664.2 227.3L669 220.8L672.4 216.3A5.5 5.5 0 0 0 663.6 209.7ZM617.2 274.7L615.4 277.3L612.9 281L610 285.2L607.5 289L605.3 292.7L603 296.6L601.1 299.9L599.8 302.3A1.4 1.4 0 0 0 602.2 303.7L603.6 301.4L605.7 298.2L608.1 294.5L610.5 291L613.1 287.3L616.1 283.4L618.9 279.8L620.8 277.3A2.2 2.2 0 0 0 617.2 274.7ZM618.8 276.6L618.4 279.3L617.7 283.2L617 287.6L616.3 291.6L615.5 295.5L614.8 299.6L614.1 303.2L613.6 305.7A1.4 1.4 0 0 0 616.4 306.3L617 303.8L617.8 300.3L618.8 296.2L619.7 292.4L620.7 288.3L621.7 284L622.5 280.1L623.2 277.4A2.2 2.2 0 0 0 618.8 276.6ZM621.8 274.4L622.3 276.9L623.1 280.4L623.8 284.4L624.2 288.1L624.2 291.7L624.1 295.7L623.8 299.3L623.6 301.9A1.4 1.4 0 0 0 626.4 302.1L626.7 299.6L627.2 296L627.6 291.9L627.8 287.9L627.6 283.9L627.1 279.8L626.5 276.2L626.2 273.6A2.2 2.2 0 0 0 621.8 274.4ZM622 265.3L619.8 265.9L616.8 266.8L613.3 267.6L609.5 268.3L605.2 268.7L600.3 269L595.1 269.2L589.9 269.3L584.9 269.4L579.9 269.4L574.9 269.4L570 269.4L565.4 269.4L560.8 269.3L556.3 269.3L551.8 269.5L547.4 269.9L543.4 270.5L539.5 271.1L535.7 271.5L531.8 271.7L527.8 271.8L523.8 271.7L520.2 271.6L517.1 271.3L514.3 271L511.7 270.4L508.9 269.7L505.9 268.8L502.9 267.8L500.1 266.6L498 265.3L496.4 263.8L495 261.9L493.8 259.8L492.8 258.3A3.3 3.3 0 0 0 487.2 261.7L488.1 263.2L489.5 265.5L491.4 268.2L494 270.7L497.1 272.5L500.4 274L503.8 275.2L507.1 276.3L510.2 277.1L513.2 277.7L516.3 278.1L519.8 278.4L523.6 278.6L527.8 278.7L532 278.7L536.3 278.5L540.4 278.1L544.4 277.5L548.3 276.9L552.2 276.5L556.4 276.4L560.7 276.4L565.3 276.5L570 276.6L574.8 276.6L579.9 276.7L585 276.7L590.1 276.7L595.3 276.6L600.6 276.4L605.8 276.1L610.5 275.7L614.8 275L618.7 274.1L621.8 273.2L624 272.7A3.8 3.8 0 0 0 622 265.3ZM619.6 269.7L617.8 270.7L615.4 272.3L612.4 273.9L609 275.5L604.8 277L599.7 278.5L594.3 280L589.3 281.5L584.6 282.9L580.1 284.3L575.5 285.9L571 287.7L566.5 290L562.2 292.5L557.9 295.2L553.7 298L549.4 301L545.1 304.2L540.8 307.3L536.7 310.1L532.7 312.6L528.7 315L524.8 317.1L521.1 319L517.6 320.5L514.2 321.6L510.8 322.7L507.2 324L503.7 325.5L500.1 327.1L496.7 328.6L493.2 330.1L489.5 331.5L485.5 333L481.9 334.2L479.3 335.1A2 2 0 0 0 480.7 338.9L483.2 338L486.8 336.8L490.9 335.4L494.8 333.9L498.3 332.5L501.9 330.9L505.3 329.4L508.8 328L512.1 326.8L515.6 325.8L519.1 324.6L522.9 323L526.9 321.1L530.9 318.9L535.1 316.5L539.3 313.9L543.5 311.1L547.8 308L552.1 304.9L556.3 302L560.5 299.3L564.7 296.7L568.9 294.3L573 292.3L577.3 290.6L581.6 289.2L586.1 287.9L590.7 286.5L595.8 285L601.2 283.5L606.4 282L611 280.5L614.9 278.8L618.1 277L620.7 275.4L622.4 274.3A2.8 2.8 0 0 0 619.6 269.7ZM489.1 263.7L486.9 264.5L483.6 265.7L480 267.2L476.7 269L474.2 270.8L471.9 272.9L469.9 275.2L468.1 277.8L466.4 280.6L465 283.8L463.9 287.1L462.9 290.4L462.1 293.9L461.4 297.6L461 301.3L460.9 305L461.1 308.7L461.6 312.4L462.2 316L463.1 319.5L464.2 323.1L465.5 326.7L466.9 330.1L468.4 333L470.2 335.3L472.1 337.2L473.8 338.5L474.9 339.4A1.8 1.8 0 0 0 477.1 336.6L476 335.7L474.5 334.4L473 332.9L471.6 331L470.3 328.5L469 325.3L467.9 321.9L466.9 318.5L466.2 315.2L465.6 311.8L465.2 308.4L465.1 305L465.3 301.6L465.7 298.2L466.3 294.8L467.1 291.6L468.1 288.5L469.2 285.5L470.5 282.7L471.9 280.2L473.5 278.1L475.2 276.2L477.1 274.5L479.3 273L482 271.6L485.4 270.3L488.6 269.2L490.9 268.3A2.5 2.5 0 0 0 489.1 263.7Z"/></defs><defs><path id="v15" d="M364 242C365.2 241.8 368.8 241.7 371 241C373.2 240.3 376 238.5 377 238M486 244C484.8 243.8 481.2 243.7 479 243C476.8 242.3 474 240.5 473 240"/></defs><defs><path id="v16" d="M360 262C361.3 263.3 364.7 268.5 368 270C371.3 271.5 376 271.7 380 271C384 270.3 390 266.8 392 266M488 264C486.3 264.7 481.7 267.5 478 268C474.3 268.5 469.7 267.5 466 267C462.3 266.5 457.7 265.3 456 265"/></defs><defs><path id="v17" d="M343 170C344 171 347.3 173.7 349 176C350.7 178.3 352.7 181 353 184C353.3 187 351.3 192.3 351 194M504 166C503 167.3 499.3 171 498 174C496.7 177 496 180.7 496 184C496 187.3 497.7 192.3 498 194"/></defs><defs><path id="v18" d="M324 168C325.7 169 330.8 173.7 334 174C337.2 174.3 342.2 169 343 170C343.8 171 340.5 176.7 339 180C337.5 183.3 334.8 187 334 190C333.2 193 333 196 334 198C335 200 337.7 202.3 340 202C342.3 201.7 345.8 196.3 348 196C350.2 195.7 352.3 198 353 200C353.7 202 351.5 205.3 352 208C352.5 210.7 354.5 214 356 216C357.5 218 359.5 218 361 220C362.5 222 364.5 225.2 365 228C365.5 230.8 364 234 364 237C364 240 365.3 243 365 246C364.7 249 363.3 252 362 255C360.7 258 358.7 261.5 357 264C355.3 266.5 352.8 269 352 270M523 166C521 166.7 514.2 170 511 170C507.8 170 504.8 164.3 504 166C503.2 167.7 504.7 176 506 180C507.3 184 510.3 187.3 512 190C513.7 192.7 516.2 194.2 516 196C515.8 197.8 513.5 200.7 511 201C508.5 201.3 503.5 197.7 501 198C498.5 198.3 496.2 200.7 496 203C495.8 205.3 500.3 209.2 500 212C499.7 214.8 495.7 217.3 494 220C492.3 222.7 491.5 225.3 490 228C488.5 230.7 485.8 233.2 485 236C484.2 238.8 484.7 242.3 485 245C485.3 247.7 486.2 249.5 487 252C487.8 254.5 488.8 257.3 490 260C491.2 262.7 493.3 266.7 494 268"/></defs><use href="#v14" fill="#aa192d" stroke="#aa192d" stroke-width="0.9" stroke-linejoin="round"/><use href="#v15" fill="none" stroke="#aa192d" stroke-width="3.9" stroke-linecap="round" stroke-linejoin="round"/><use href="#v16" fill="none" stroke="#aa192d" stroke-width="4.1" stroke-linecap="round" stroke-linejoin="round"/><use href="#v17" fill="none" stroke="#aa192d" stroke-width="4.9" stroke-linecap="round" stroke-linejoin="round"/><use href="#v18" fill="none" stroke="#aa192d" stroke-width="8.9" stroke-linecap="round" stroke-linejoin="round"/><use href="#v14" fill="#de2239"/><use href="#v15" fill="none" stroke="#de2239" stroke-width="3" stroke-linecap="round" stroke-linejoin="round"/><use href="#v16" fill="none" stroke="#de2239" stroke-width="3.2" stroke-linecap="round" stroke-linejoin="round"/><use href="#v17" fill="none" stroke="#de2239" stroke-width="4" stroke-linecap="round" stroke-linejoin="round"/><use href="#v18" fill="none" stroke="#de2239" stroke-width="8" stroke-linecap="round" stroke-linejoin="round"/><path d="M350 206C351.3 206.3 355.7 208.2 358 208C360.3 207.8 363 205.5 364 205M500 208C498.7 208.3 494.3 210.2 492 210C489.7 209.8 487 207.5 486 207" fill="none" stroke="#de2239" stroke-width="2.4" stroke-linecap="round" stroke-linejoin="round"/><path d="M372 271C373.3 272.8 377.3 278.8 380 282C382.7 285.2 386.7 288.7 388 290M476 270C475 272 472.3 278.7 470 282C467.7 285.3 463.3 288.7 462 290" fill="none" stroke="#de2239" stroke-width="2.8" stroke-linecap="round" stroke-linejoin="round"/><path d="M181.7 213.4L189.1 225.5L197.8 239.4L203.2 247.4L208 253.5L213.1 259L218.1 263.7L223.3 268.3L227.2 271.7A1.6 1.6 0 0 0 229.3 269.3L225.4 265.9L220.3 261.3L215.5 256.7L210.5 251.4L206 245.5L200.7 237.5L192.1 223.7L184.7 211.5A1.8 1.8 0 0 0 181.7 213.4ZM225.1 268.1L230.9 270L239.2 272.1L249 273.6L259.5 274.1L269.6 272.8L279.6 271.1L289.9 269.7L299.4 269.1L306.9 270.3L314.3 272L322.8 272.9L331.5 273L340.2 272L347.9 269.9L353.6 266.1L357.2 262.7A1.1 1.1 0 0 0 355.7 261.2L352.3 264.4L347 268L339.8 269.9L331.4 270.8L323 270.7L314.6 269.8L307.4 268.2L299.5 266.8L289.7 267.4L279.3 268.8L269.3 270.5L259.4 271.8L249.2 271.2L239.7 269.8L231.6 267.6L225.8 265.8A1.2 1.2 0 0 0 225.1 268.1ZM261.1 273.9L265.4 277.4L271.2 281.9L276.9 286L283.1 290.9L289.8 298.1L297.1 305.8L305.1 312.3L313.3 317.9L321.1 322.3L329.4 326L339.5 329.2L349.5 331.9L358.1 334.2L365.5 335.9L371.5 337.2L375.5 337.9A0.6 0.6 0 0 0 375.8 336.7L371.8 335.9L365.8 334.7L358.4 332.9L349.8 330.7L339.8 327.9L329.9 324.6L321.7 321L314 316.7L306 311.2L298.2 304.8L291 297.1L284.2 289.7L277.9 284.7L272.1 280.7L266.4 276.1L262.2 272.7A0.8 0.8 0 0 0 261.1 273.9ZM357.3 264L362.8 266.3L369.2 269.9L373.5 275.2L377 281.6L379.3 288.4L381 295.4L382.4 302.4L383 309.3L382.1 316.2L380.1 323.1L376.4 330.9L373.1 337A0.6 0.6 0 0 0 374.2 337.6L377.5 331.4L381.2 323.5L383.3 316.4L384.3 309.3L383.8 302.2L382.3 295.2L380.7 288L378.3 281L374.8 274.4L370.1 268.7L363.5 264.8L358 262.6A0.8 0.8 0 0 0 357.3 264ZM665.8 210.4L657.7 221.5L647.9 234.4L641 242.6L635 249.4L629.6 256.4L625 262.4L620.9 267.2L618 270.4A1.6 1.6 0 0 0 620.4 272.5L623.3 269.3L627.5 264.5L632.2 258.4L637.5 251.5L643.5 244.7L650.6 236.5L660.4 223.6L668.6 212.5A1.8 1.8 0 0 0 665.8 210.4ZM622.1 266.8L616.9 268.2L609.3 269.7L599.8 270.4L589.4 270.8L579.3 270.8L569.5 270.8L560.2 270.7L551.4 270.8L543.2 271.8L535.4 272.8L527.2 273.1L519.5 272.8L513.4 272.2L507.8 270.9L501.5 268.8L496.1 266.1L492.6 262L490.4 258.4A1.1 1.1 0 0 0 488.6 259.5L490.9 263.3L494.8 267.8L500.7 270.8L507.2 273L513 274.3L519.4 275L527.2 275.3L535.6 275L543.5 274.1L551.5 273.1L560.2 273L569.5 273.1L579.3 273.2L589.5 273.1L600 272.8L609.6 272.1L617.5 270.6L622.8 269.1A1.2 1.2 0 0 0 622.1 266.8ZM620.2 270.5L615.9 273.1L609.3 276.4L599.8 279.4L589.4 282.4L580.2 285.2L571.3 288.5L562.7 293.2L554.2 298.6L545.6 304.7L537.2 310.6L529.1 315.5L521.3 319.6L514.3 322.3L507.4 324.6L500.3 327.6L493.4 330.6L485.5 333.5L479.4 335.6A0.6 0.6 0 0 0 479.8 336.8L486 334.7L493.9 331.8L500.9 328.8L507.9 325.9L514.7 323.6L521.9 320.9L529.8 316.8L538 311.8L546.5 305.9L555 299.9L563.5 294.5L571.9 290L580.7 286.8L589.8 284L600.3 281L609.9 278L616.8 274.6L621.1 272A0.9 0.9 0 0 0 620.2 270.5ZM489.4 264.5L483.8 266.6L477.3 269.6L472.7 273.3L469 277.9L466.1 283.6L464 290.1L462.5 297.1L462 304.3L462.6 311.5L464 318.5L466.3 325.5L469.1 331.6L472.5 335.5L475.3 337.7A0.6 0.6 0 0 0 476 336.9L473.4 334.7L470.2 331L467.5 325.1L465.3 318.1L463.9 311.3L463.3 304.3L463.9 297.3L465.3 290.5L467.4 284.2L470.3 278.7L473.7 274.4L478 271L484.5 268L489.9 266.1A0.8 0.8 0 0 0 489.4 264.5Z" fill="#f5656f" opacity=".55"/><use href="#v18" fill="none" stroke="#f5656f" stroke-width="2.6" stroke-linecap="round" stroke-linejoin="round" opacity=".55" transform="translate(-0.6,-1.1)"/><defs><linearGradient id="f19" gradientUnits="userSpaceOnUse" x1="186" y1="218" x2="198" y2="237"><stop offset="0" stop-color="#fff"/><stop offset=".25" stop-color="#fff" stop-opacity=".8"/><stop offset="1" stop-color="#fff" stop-opacity="0"/></linearGradient></defs><path d="M162 202.4L187.9 243.4L208.1 230.6L182.3 189.6Z" fill="url(#f19)"/><defs><linearGradient id="f20" gradientUnits="userSpaceOnUse" x1="666" y1="216" x2="654" y2="234"><stop offset="0" stop-color="#fff"/><stop offset=".25" stop-color="#fff" stop-opacity=".8"/><stop offset="1" stop-color="#fff" stop-opacity="0"/></linearGradient></defs><path d="M670.4 187.7L644 227.3L664 240.7L690.4 201Z" fill="url(#f20)"/><circle cx="225" cy="311" r="7" fill="url(#fog)"/><circle cx="239" cy="313" r="7" fill="url(#fog)"/><circle cx="255" cy="305" r="7" fill="url(#fog)"/><circle cx="600" cy="306" r="7" fill="url(#fog)"/><circle cx="615" cy="310" r="7" fill="url(#fog)"/><circle cx="625" cy="306" r="7" fill="url(#fog)"/><path d="M364 225l10 -3M385 275l10 -3M486 225l-10 -3M465 275l-10 -3" stroke="#3a9fcc" stroke-width="3.4" fill="none"/>
<path d="M332 117C333.5 114.8 343.6 112.5 350 110C356.4 107.5 367.5 102.2 375 100C382.5 97.8 392.5 96 400 95C407.5 94 417.5 92.8 425 93C432.5 93.2 442.5 94.3 450 96C457.5 97.7 467.5 101.6 475 104C482.5 106.4 493.6 110.2 500 112C506.4 113.8 516.5 114 518 116C519.5 118 511.9 121.8 510 125C508.1 128.2 506.1 132.9 505 137C503.9 141.1 503.8 147.7 503 152C502.2 156.3 501.2 162.1 500 166C498.8 169.9 496.6 173.2 495 178C493.4 182.8 491.1 192 489 198C486.9 204 483.2 212 481 218C478.8 224 476.6 232.3 474 238C471.4 243.7 467.1 251.5 464 256C460.9 260.5 455.4 264.4 453 268C450.6 271.6 449.2 277 448 280C446.8 283 448.4 286.4 445 288C441.6 289.6 431 291 425 291C419 291 408.4 289.9 405 288C401.6 286.1 403.2 281.6 402 278C400.8 274.4 399.1 268.1 397 264C394.9 259.9 390.7 255.2 388 251C385.3 246.8 381.6 241.4 379 236C376.4 230.6 373.1 221 371 215C368.9 209 367.2 202 365 196C362.8 190 358.1 179.7 356 175C353.9 170.3 352.4 168.4 351 165C349.6 161.6 347.9 156.1 347 152C346.1 147.9 346.1 142.1 345 138C343.9 133.9 341.9 128.2 340 125C338.1 121.8 330.5 119.2 332 117Z" fill="url(#utg)" stroke="#bfb2b2" stroke-width=".8"/><g clip-path="url(#cutU)"><ellipse cx="372" cy="190" rx="20" ry="50" fill="#d3c7c8" filter="url(#b6)" opacity=".55"/><ellipse cx="455" cy="250" rx="30" ry="30" fill="#d6cacb" filter="url(#b6)" opacity=".5"/><ellipse cx="450" cy="135" rx="45" ry="24" fill="#f3eeed" filter="url(#b6)" opacity=".9"/><path d="M432 170C418 180 410 188 412 200C414 212 404 222 392 232" fill="none" stroke="#f7f3f3" stroke-width="7" filter="url(#b3)" opacity=".9"/><path d="M436 176C424 186 416 192 418 204C420 216 410 228 398 238" fill="none" stroke="#d2c6c7" stroke-width="4" filter="url(#b3)" opacity=".55"/><path d="M332 117C333.5 114.8 343.6 112.5 350 110C356.4 107.5 367.5 102.2 375 100C382.5 97.8 392.5 96 400 95C407.5 94 417.5 92.8 425 93C432.5 93.2 442.5 94.3 450 96C457.5 97.7 467.5 101.6 475 104C482.5 106.4 493.6 110.2 500 112C506.4 113.8 516.5 114 518 116C519.5 118 511.9 121.8 510 125C508.1 128.2 506.1 132.9 505 137C503.9 141.1 503.8 147.7 503 152C502.2 156.3 501.2 162.1 500 166C498.8 169.9 496.6 173.2 495 178C493.4 182.8 491.1 192 489 198C486.9 204 483.2 212 481 218C478.8 224 476.6 232.3 474 238C471.4 243.7 467.1 251.5 464 256C460.9 260.5 455.4 264.4 453 268C450.6 271.6 449.2 277 448 280C446.8 283 448.4 286.4 445 288C441.6 289.6 431 291 425 291C419 291 408.4 289.9 405 288C401.6 286.1 403.2 281.6 402 278C400.8 274.4 399.1 268.1 397 264C394.9 259.9 390.7 255.2 388 251C385.3 246.8 381.6 241.4 379 236C376.4 230.6 373.1 221 371 215C368.9 209 367.2 202 365 196C362.8 190 358.1 179.7 356 175C353.9 170.3 352.4 168.4 351 165C349.6 161.6 347.9 156.1 347 152C346.1 147.9 346.1 142.1 345 138C343.9 133.9 341.9 128.2 340 125C338.1 121.8 330.5 119.2 332 117Z" fill="none" stroke="#f8f5f4" stroke-width="5.5" filter="url(#b2)" opacity="1"/></g>
<defs><path id="v21" d="M288.3 352L292.4 354.3L298.2 357.5L304.5 361.1L310.2 364.6L314.9 368.1L319.4 371.8L323.8 375.6L328.1 379.2L332.3 382.7L336.5 386.1L340.5 389.3L344.5 392.2L348.6 394.8L352.8 397.1L356.3 398.9L358.8 400.2A2.5 2.5 0 0 0 361.2 395.8L358.7 394.4L355.2 392.6L351.3 390.3L347.5 387.8L343.9 385L340 381.8L336 378.3L331.9 374.8L327.7 371.1L323.4 367.2L318.8 363.2L313.8 359.4L308 355.5L301.6 351.6L295.7 348.3L291.7 346A3.5 3.5 0 0 0 288.3 352ZM558.3 346L554.3 348.3L548.4 351.6L542 355.5L536.2 359.4L531.2 363.2L526.6 367.2L522.3 371.1L518.1 374.8L514 378.3L510 381.8L506.1 385L502.5 387.8L498.7 390.3L494.8 392.6L491.3 394.4L488.8 395.8A2.5 2.5 0 0 0 491.2 400.2L493.7 398.9L497.2 397.1L501.4 394.8L505.5 392.2L509.5 389.3L513.5 386.1L517.7 382.7L521.9 379.2L526.2 375.6L530.6 371.8L535.1 368.1L539.8 364.6L545.5 361.1L551.8 357.5L557.6 354.3L561.7 352A3.5 3.5 0 0 0 558.3 346Z"/></defs><use href="#v21" fill="#1c75a3" stroke="#1c75a3" stroke-width="0.9" stroke-linejoin="round"/><use href="#v21" fill="#2f9acb"/><path d="M289 349L298.8 354.5L310.9 361.9L320.3 369.3L328.9 376.7L337.2 383.7L345 389.7L353.1 394.5L359.1 397.7A0.8 0.8 0 0 0 359.9 396.3L353.9 393.1L346 388.3L338.3 382.3L330.1 375.3L321.5 367.8L312.1 360.2L299.9 352.7L290.1 347A1.1 1.1 0 0 0 289 349ZM559 347L549.1 352.7L536.9 360.2L527.5 367.8L518.9 375.3L510.7 382.3L503 388.3L495.1 393.1L489.1 396.3A0.8 0.8 0 0 0 489.9 397.7L495.9 394.5L504 389.7L511.8 383.7L520.1 376.7L528.8 369.3L538.1 361.9L550.2 354.5L560.1 349A1.1 1.1 0 0 0 559 347Z" fill="#7fcbe6" opacity=".55"/><defs><path id="v22" d="M284.2 361.3L287.5 363L292.2 365.4L297.3 368.1L302.2 370.9L306.6 373.8L311.1 376.9L315.6 380.2L320.2 383.5L324.7 386.8L329.4 390.1L334 393.4L338.5 396.3L343.2 399.1L347.9 401.6L352 403.7L354.8 405.2A2.5 2.5 0 0 0 357.2 400.8L354.4 399.2L350.4 397L345.9 394.4L341.5 391.7L337.3 388.7L332.9 385.4L328.3 381.9L323.8 378.5L319.4 375.1L314.9 371.7L310.4 368.3L305.8 365.1L300.8 362L295.6 359L291 356.5L287.8 354.7A3.8 3.8 0 0 0 284.2 361.3ZM562.2 354.7L559 356.5L554.4 359L549.2 362L544.2 365.1L539.6 368.3L535.1 371.7L530.6 375.1L526.2 378.5L521.7 381.9L517.1 385.4L512.7 388.7L508.5 391.7L504.1 394.4L499.6 397L495.6 399.2L492.8 400.8A2.5 2.5 0 0 0 495.2 405.2L498 403.7L502.1 401.6L506.8 399.1L511.5 396.3L516 393.4L520.6 390.1L525.3 386.8L529.8 383.5L534.4 380.2L538.9 376.9L543.4 373.8L547.8 370.9L552.7 368.1L557.8 365.4L562.5 363L565.8 361.3A3.8 3.8 0 0 0 562.2 354.7Z"/></defs><use href="#v22" fill="#aa192d" stroke="#aa192d" stroke-width="0.9" stroke-linejoin="round"/><use href="#v22" fill="#de2239"/><path d="M284.9 358L292.8 362.1L302.9 367.9L311.9 374.1L320.9 380.7L330 387.5L339 393.7L348.2 399L355.1 402.7A0.8 0.8 0 0 0 355.9 401.2L349 397.5L340 392.2L331.2 385.9L322.1 379.2L313.1 372.4L304.1 366L293.9 360.1L286 355.9A1.2 1.2 0 0 0 284.9 358ZM562.9 355.9L555 360.1L544.9 366L535.9 372.4L526.9 379.2L517.8 385.9L509 392.2L499.9 397.5L493.1 401.2A0.8 0.8 0 0 0 493.9 402.7L500.8 399L510 393.7L518.9 387.5L528.1 380.7L537.1 374.1L546.1 367.9L556.2 362.1L564 358A1.2 1.2 0 0 0 562.9 355.9Z" fill="#f5656f" opacity=".55"/><defs><linearGradient id="f23" gradientUnits="userSpaceOnUse" x1="294" y1="353" x2="314" y2="367"><stop offset="0" stop-color="#fff"/><stop offset=".25" stop-color="#fff" stop-opacity=".8"/><stop offset="1" stop-color="#fff" stop-opacity="0"/></linearGradient></defs><path d="M264.1 350.4L305.4 379.3L322.6 354.7L281.3 325.8Z" fill="url(#f23)"/><defs><linearGradient id="f24" gradientUnits="userSpaceOnUse" x1="556" y1="353" x2="536" y2="367"><stop offset="0" stop-color="#fff"/><stop offset=".25" stop-color="#fff" stop-opacity=".8"/><stop offset="1" stop-color="#fff" stop-opacity="0"/></linearGradient></defs><path d="M568.7 325.8L527.4 354.7L544.6 379.3L585.9 350.4Z" fill="url(#f24)"/><path d="M410.5 328.1C411.1 328.3 412.7 328.9 413.8 329.2C414.9 329.5 416.2 329.4 417.3 329.8C418.4 330.2 419.3 330.9 420.3 331.5C421.3 332.1 422.6 333.3 423.1 333.7M423.1 333.7C423.7 333.7 425.5 333.7 426.6 333.5C427.8 333.3 429.4 332.8 430 332.7M423.1 333.7C422.9 334.2 422.2 335.9 422 337C421.8 338.1 422.1 339.3 422.1 340.5C422.1 341.7 422.1 343.4 422.1 344M420.3 331.5C420.9 331.6 422.7 331.8 423.8 332.2C424.9 332.6 426.4 333.5 426.9 333.8M438.7 324.7C438.1 324.6 436.3 324.1 435.2 324.2C434.1 324.3 433 325.1 431.9 325.3C430.8 325.5 429.5 325 428.4 325.2C427.3 325.4 425.7 326.1 425.1 326.3M425.1 326.3C424.7 326.7 423.2 327.8 422.5 328.7C421.8 329.6 421.2 330.6 420.6 331.6C420.1 332.6 419.4 334.3 419.2 334.8M425.1 326.3C424.6 326 423.1 325.1 422 324.6C420.9 324.1 419.8 324 418.7 323.5C417.6 323 416.1 322.1 415.6 321.8M428.4 325.2C428.2 324.7 427.4 323.1 427.1 322C426.8 320.9 426.6 319.1 426.5 318.5M438.7 324.7C438.7 324.1 438.7 322.4 438.6 321.2C438.5 320 438.4 318.8 438.2 317.7C437.9 316.6 437.7 315.4 437.1 314.4C436.6 313.4 435.4 312.7 434.9 311.7C434.3 310.7 434 308.9 433.8 308.4M433.8 308.4C433.4 308 432.2 306.7 431.2 306.1C430.2 305.5 428.9 305.4 427.8 305C426.7 304.6 425.6 304.3 424.7 303.6C423.8 302.9 422.7 301.4 422.3 301M433.8 308.4C434.2 307.9 435.6 306.7 436.1 305.7C436.7 304.7 436.9 303.5 437.1 302.4C437.3 301.3 437.2 300.1 437.3 298.9C437.4 297.7 437.6 296 437.6 295.4M437.1 314.4C437.5 314 438.8 312.7 439.7 312C440.6 311.3 441.7 310.9 442.6 310.2C443.5 309.5 444.8 308.1 445.2 307.7M409 357.9C409.4 357.4 410.5 356.1 411.2 355.2C411.9 354.3 412.8 353.4 413.3 352.4C413.8 351.4 413.8 349.9 414.4 349C415 348.1 416.6 347.2 417 346.8M417 346.8C417.2 346.2 417.8 344.5 418.4 343.5C419 342.5 419.9 341.7 420.5 340.7C421.1 339.7 421.7 338.1 421.9 337.6M417 346.8C417.6 346.7 419.3 346.3 420.5 346.3C421.7 346.3 423.4 346.6 424 346.6M409 357.9C409.5 358.1 411.1 358.8 412.2 359.2C413.3 359.6 414.5 360 415.6 360.3C416.7 360.6 417.8 360.8 418.9 361.2C420 361.6 420.9 362.6 422 363C423.1 363.4 424.8 363.7 425.4 363.8M425.4 363.8C426 363.7 427.6 363.3 428.8 363.1C430 362.9 431.2 362.9 432.3 362.5C433.4 362.1 434.1 361.2 435.2 360.7C436.2 360.2 438 359.8 438.6 359.6M418.9 361.2C419.1 361.8 419.8 363.4 420.2 364.5C420.6 365.6 421.1 367.2 421.3 367.8M402 357.8C401.9 357.2 401.6 355.5 401.6 354.3C401.6 353.1 401.7 352 402 350.9C402.3 349.8 403.2 348.2 403.4 347.7M403.4 347.7C403.1 347.2 402.6 345.4 401.9 344.5C401.2 343.6 399.8 342.5 399.4 342.1M403.4 347.7C403.9 347.4 405.3 346.2 406.3 345.7C407.3 345.2 408.6 345.1 409.6 344.5C410.6 343.9 411.9 342.7 412.4 342.3M402 350.9C401.5 350.6 399.8 349.7 399 348.9C398.2 348.1 397.5 346.5 397.2 346M441.3 364.6C440.9 365.1 439.7 366.4 439.2 367.4C438.7 368.4 438.4 369.7 438.2 370.8C438 371.9 438.3 373.2 437.8 374.2C437.3 375.2 436.3 376.1 435.3 376.7C434.3 377.3 432.5 377.6 431.9 377.8M431.9 377.8C431.5 378.2 430.1 379.2 429.3 380C428.5 380.8 427.8 381.8 427 382.7C426.2 383.6 424.9 384.7 424.5 385.1M431.9 377.8C431.3 377.7 429.6 377.2 428.5 377.3C427.4 377.4 426.2 377.8 425.1 378.1C424 378.4 422.3 378.9 421.7 379M437.8 374.2C438.3 374.5 439.7 375.6 440.7 376.2C441.7 376.8 443.4 377.3 443.9 377.5M448.3 364.6C447.8 364.9 446.2 365.5 445.2 366.1C444.2 366.7 443.2 367.4 442.2 368C441.2 368.6 439.8 369.7 439.3 370M439.3 370C438.9 370.4 437.8 371.7 437 372.6C436.2 373.5 435.5 374.4 434.8 375.3C434.1 376.2 433.3 377.8 433 378.3M439.3 370C438.9 369.6 437.5 368.5 436.7 367.7C435.9 366.9 434.7 365.5 434.3 365.1M400 394.1C400.3 393.6 401.2 392 401.9 391.1C402.6 390.2 404 389.1 404.4 388.7M400 394.1C400.3 394.6 401.3 395.9 402 396.9C402.7 397.8 403.7 399.3 404 399.8M400 394.1C400.4 393.7 401.8 392.6 402.7 391.9C403.6 391.2 405 390.1 405.5 389.8M394.2 398.8C393.9 398.3 392.6 396.9 392.1 395.9C391.6 394.9 391.2 393.2 391 392.6M394.2 398.8C394.8 398.6 396.4 397.8 397.5 397.6C398.6 397.4 400.4 397.4 401 397.4M394.2 398.8C393.9 398.3 393.1 396.7 392.7 395.6C392.3 394.5 392 392.8 391.9 392.2M416 413.8C416.6 414 418.2 414.7 419.3 415C420.4 415.3 422.1 415.7 422.7 415.8M416 413.8C415.8 414.4 415.3 416.1 415 417.2C414.7 418.3 414.3 420 414.2 420.6M416 413.8C416 414.4 416.2 416.2 415.9 417.3C415.6 418.4 414.6 419.9 414.3 420.4M393.7 418.6C394.2 418.3 395.7 417.5 396.7 416.9C397.7 416.2 399 415.1 399.5 414.7M393.7 418.6C394 419.1 395 420.5 395.7 421.4C396.4 422.3 397.5 423.7 397.9 424.2M393.7 418.6C394.3 418.5 396 418.1 397.1 418.1C398.2 418.1 399.9 418.7 400.5 418.8M416.8 420.8C417 420.2 417.7 418.6 418.1 417.5C418.5 416.4 418.9 414.8 419.1 414.2M392.3 423.1C392.8 422.8 394.2 421.6 395.2 421.1C396.2 420.6 397.9 420.2 398.5 420M392.3 423.1C392.8 423.4 394.3 424.2 395.4 424.7C396.4 425.2 398.1 425.9 398.6 426.2M392.3 423.1C392.9 423.3 394.5 423.7 395.6 424.1C396.7 424.5 398.3 425.3 398.9 425.5M409.6 431C409.8 430.4 410.2 428.7 410.5 427.6C410.8 426.5 411.4 424.9 411.6 424.3M409.6 431C409.9 430.5 410.8 429.1 411.6 428.2C412.4 427.3 413.9 426.3 414.3 425.9M409.6 431C410.2 430.9 411.9 430.4 413 430.3C414.1 430.2 415.9 430.3 416.5 430.3M452 396.1C451.6 396.6 450.3 397.8 449.8 398.8C449.3 399.8 449.3 401.7 449.2 402.3M452 396.1C451.4 396.3 449.8 396.9 448.7 397.2C447.6 397.4 445.8 397.5 445.2 397.6M454.3 407.6C454 408.1 453.2 409.7 452.5 410.6C451.8 411.5 450.4 412.7 450 413.1M454.3 407.6C453.7 407.5 451.9 407.2 450.9 406.7C449.9 406.2 448.6 405 448.1 404.6M454.3 407.6C454.1 408.2 453.4 409.8 453.2 410.9C453 412 453.3 413.8 453.3 414.4M433.8 411.5C433.7 412.1 433.2 413.8 433.3 414.9C433.4 416 434 417.7 434.1 418.3M433.8 411.5C433.2 411.6 431.5 411.8 430.4 412.2C429.3 412.6 427.7 413.4 427.2 413.6M433.8 411.5C433.3 411.3 431.7 410.4 430.6 410.2C429.5 409.9 427.7 410 427.1 410M457.5 413.3C456.9 413.2 455.2 412.9 454.1 412.9C453 412.9 451.2 413.1 450.6 413.1M457.5 413.3C457.1 412.8 456.2 411.3 455.4 410.5C454.6 409.7 453.1 408.8 452.6 408.4M434.6 419.5C434.1 419.7 432.4 420.5 431.3 420.6C430.2 420.8 428.4 420.4 427.8 420.4M434.6 419.5C434.4 419 433.6 417.4 433.2 416.3C432.8 415.2 432.4 413.5 432.3 412.9M434.6 419.5C434.2 420 433.2 421.4 432.5 422.3C431.8 423.2 430.7 424.6 430.3 425.1M459.6 429.8C459.5 430.4 459 432.2 458.9 433.3C458.8 434.4 458.7 436.1 458.7 436.7M459.6 429.8C459.1 429.4 457.8 428.2 456.8 427.7C455.8 427.2 454 427.1 453.4 427M438.8 439C438.2 438.8 436.6 438.1 435.5 437.7C434.4 437.3 432.8 436.8 432.2 436.6" fill="none" stroke="#2f9acb" stroke-width="0.8" stroke-linecap="round" stroke-linejoin="round"/><path d="M389.9 326.3C390.5 326.4 392.3 326.6 393.4 326.9C394.5 327.2 395.5 327.9 396.6 328.2C397.7 328.5 398.9 328.5 400.1 328.6C401.3 328.7 402.4 328.8 403.6 328.9C404.8 329 406 329.1 407.1 329C408.2 328.9 409.9 328.2 410.5 328.1M458.3 326.6C457.8 326.8 456.1 327.3 455 327.6C453.9 327.9 452.8 328.1 451.6 328.4C450.5 328.6 449.2 329.2 448.1 329.1C447 329 445.9 328.4 444.8 328C443.7 327.6 442.5 327.4 441.5 326.8C440.5 326.2 439.2 325.1 438.7 324.7M388.4 359.8C389 359.8 390.8 359.6 391.9 359.6C393 359.6 394.2 360.1 395.3 360C396.4 359.9 397.6 359.4 398.7 359C399.8 358.6 400.9 358 402 357.8C403.1 357.6 404.3 357.8 405.5 357.8C406.7 357.8 408.4 357.9 409 357.9M462 363.9C461.4 364.1 459.8 364.9 458.7 365.1C457.6 365.3 456.4 364.8 455.2 364.9C454 365 452.8 365.6 451.7 365.5C450.6 365.4 449.4 364.7 448.3 364.6C447.2 364.5 446 364.8 444.8 364.8C443.6 364.8 441.9 364.6 441.3 364.6M393.3 392.5C393.8 392.7 395.4 393.6 396.5 393.9C397.6 394.2 399.4 394.1 400 394.1M391.2 405C391.6 404.5 392.8 403.1 393.3 402.1C393.8 401.1 394.1 399.4 394.2 398.8M412 408.2C412.4 408.6 413.6 409.9 414.3 410.8C415 411.7 415.7 413.3 416 413.8M387.3 415.9C387.9 416 389.7 416.2 390.8 416.7C391.9 417.1 393.2 418.3 393.7 418.6M409.9 421.5C410.5 421.5 412.2 421.7 413.4 421.6C414.5 421.5 416.2 420.9 416.8 420.8M386 425.7C386.5 425.4 387.8 424.1 388.9 423.7C389.9 423.3 391.7 423.2 392.3 423.1M406 437C406.4 436.5 407.5 435.2 408.1 434.2C408.7 433.2 409.4 431.5 409.6 431M457.6 392C457.1 392.3 455.6 393.2 454.7 393.9C453.8 394.6 452.4 395.7 452 396.1M459.7 403.1C459.3 403.5 458 404.8 457.1 405.5C456.2 406.2 454.8 407.2 454.3 407.6M438.7 406.7C438.4 407.2 437.6 408.9 436.8 409.7C436 410.5 434.3 411.2 433.8 411.5M463.7 416.2C463.2 415.8 462 414.5 461 414C460 413.5 458.1 413.4 457.5 413.3M441.2 421.7C440.7 421.4 439.1 420.6 438 420.2C436.9 419.8 435.2 419.6 434.6 419.5M465.8 427C465.2 427.1 463.3 427.1 462.3 427.6C461.3 428.1 460.1 429.4 459.6 429.8M445.6 438C445 438 443.2 437.9 442.1 438.1C441 438.3 439.4 438.9 438.8 439" fill="none" stroke="#2f9acb" stroke-width="1.2" stroke-linecap="round" stroke-linejoin="round"/><path d="M380 372C381.7 371 386.7 367.7 390 366C393.3 364.3 396.7 362 400 362C403.3 362 407 365.7 410 366C413 366.3 416.7 364.3 418 364M468 372C466.7 371 463 367.7 460 366C457 364.3 453.3 362 450 362C446.7 362 443 365.7 440 366C437 366.3 433.3 364.3 432 364M388 306C388.9 306.2 391.2 306.7 393.3 307.2C395.4 307.7 398.2 308.6 400.5 308.9C402.8 309.2 405.1 309.3 407.2 308.8C409.3 308.3 411.2 306.2 413.4 305.7C415.5 305.2 417.9 306.1 420.1 306C422.3 305.9 424.4 304.5 426.4 305.1C428.4 305.7 429.5 309.3 431.9 309.7C434.3 310.1 437.3 307.9 440.6 307.5C443.9 307.1 448.4 307.4 451.7 307.2C454.9 307 458.7 306.6 460.1 306.5M380 346C381 346.1 383.8 345.8 386.1 346.5C388.4 347.2 391.2 350 393.8 350.5C396.4 351 399.3 348.9 401.8 349.3C404.3 349.7 406.3 352.5 408.7 352.7C411.1 352.9 413.7 350.6 416.1 350.7C418.5 350.8 420.8 353.5 423.2 353.5C425.6 353.5 428 351 430.4 350.9C432.8 350.8 435.3 353.2 437.7 353C440.1 352.8 442.3 350.2 444.7 349.9C447.1 349.6 449.7 351.6 452.2 351.1C454.7 350.6 457.2 347.7 459.8 347.1C462.4 346.6 466.2 347.9 467.9 347.8C469.6 347.8 469.8 347 470.2 346.8M384 378C384.9 377.6 387.3 376.2 389.7 375.6C392.1 375.1 395.5 374.9 398.2 374.7C400.9 374.4 403.3 373.7 405.7 374.1C408.1 374.5 410.3 376.5 412.7 377.3C415.1 378.1 417.7 378.3 420.1 378.7C422.5 379.1 424.8 379.7 427.2 379.6C429.6 379.5 431.9 378.2 434.3 377.9C436.8 377.6 439.4 378.4 441.9 377.9C444.4 377.4 446.9 375.3 449.3 374.8C451.7 374.3 454.1 374.9 456.1 374.8C458.1 374.7 460.1 373.6 461.5 374C462.9 374.4 463.9 376.7 464.6 377.5C465.3 378.3 465.4 378.6 465.6 378.8" fill="none" stroke="#2f9acb" stroke-width="1.6" stroke-linecap="round" stroke-linejoin="round"/><path d="M367 355C368.5 354.7 372.8 353.5 376 353C379.2 352.5 382 351.7 386 352C390 352.3 395.7 355.3 400 355C404.3 354.7 408.7 351.7 412 350C415.3 348.3 418.7 345.8 420 345M478 350C476.7 350.3 472.7 351.7 470 352C467.3 352.3 465.3 351.3 462 352C458.7 352.7 453.7 356 450 356C446.3 356 443 353.3 440 352C437 350.7 433.3 348.7 432 348M360 398C360.7 397.6 362.5 396.2 364.4 395.9C366.3 395.5 369.2 396.4 371.3 395.9C373.4 395.4 375 393.8 376.8 393.1C378.6 392.4 380.4 391.5 382.3 391.5C384.2 391.5 386.3 393 388.1 393.2C389.9 393.4 391.5 392.6 393.3 392.5C395.1 392.4 397 391.9 398.7 392.4C400.4 392.9 401.9 394.9 403.7 395.3C405.5 395.7 408 395.1 409.7 394.8C411.4 394.5 413.4 393.9 414.1 393.7M360 399C360.6 399.2 362.3 399.6 363.8 400.2C365.3 400.8 367.2 402.3 369 402.6C370.8 402.9 372.9 401.8 374.8 401.8C376.7 401.8 378.6 401.8 380.5 402.4C382.4 402.9 384.1 404.7 385.9 405.1C387.7 405.5 389.4 405.3 391.2 405C393 404.7 394.8 403.5 396.5 403.5C398.2 403.5 400 404.4 401.7 405.1C403.4 405.9 405 407.5 406.7 408C408.4 408.5 410.3 408.2 412 408.2C413.7 408.1 415.4 407.5 416.9 407.7C418.4 407.9 419.9 408.7 420.8 409.1C421.7 409.5 421.8 409.8 422 409.9M360 400C360.4 400.5 361.4 402.1 362.7 403.2C364 404.3 365.9 405.8 367.6 406.6C369.3 407.5 371.3 407.5 372.9 408.3C374.5 409.1 375.8 410.4 377.2 411.5C378.6 412.6 379.9 414.4 381.6 415.1C383.3 415.8 385.3 415.9 387.3 415.9C389.3 415.9 391.4 415 393.4 415.2C395.3 415.4 397.2 416.4 399 417.3C400.8 418.2 402.5 420 404.3 420.7C406.1 421.4 408.1 421.5 409.9 421.5C411.7 421.5 413.4 420.7 414.9 420.6C416.4 420.5 417.9 420.6 418.8 420.7C419.7 420.8 419.9 421 420.1 421.1M360 401C360.3 401.7 360.9 403.8 362 405.3C363.1 406.8 365.4 408.5 366.9 410C368.3 411.5 369.5 412.9 370.7 414.5C371.9 416.1 372.9 418.3 374.3 419.9C375.8 421.4 377.4 422.8 379.4 423.8C381.3 424.8 383.9 424.9 386 425.7C388.1 426.5 390 427.5 391.7 428.7C393.4 429.9 394.7 431.8 396.3 433C397.9 434.2 399.6 435 401.2 435.7C402.8 436.4 404.5 436.4 406 437C407.5 437.6 409.1 438.3 410.3 439.2C411.5 440.1 412.4 441.6 413 442.3C413.6 443 413.5 443.2 413.6 443.4M491 398C490.2 397.9 488 398 486.2 397.3C484.4 396.6 482.2 394.7 480.2 394C478.2 393.3 476.3 393.1 474.3 393C472.3 392.9 470.2 394 468.3 393.7C466.4 393.4 464.8 391.4 463 391.1C461.2 390.8 459.3 391.4 457.6 392C455.9 392.6 454.6 394.6 452.8 394.9C451.1 395.2 449 393.9 447.1 393.8C445.2 393.7 442.9 393.6 441.2 394C439.5 394.4 437.8 395.8 437.1 396.1M491 399C490.4 399.3 488.9 400.3 487.3 400.6C485.7 400.9 483.4 400.6 481.5 400.7C479.6 400.8 477.9 400.9 476.1 401.5C474.3 402.1 472.6 403.9 470.8 404.4C469 404.9 467 404.7 465.1 404.5C463.2 404.3 461.4 403.1 459.7 403.1C457.9 403.1 456.3 403.8 454.6 404.4C452.9 405 451.4 406.4 449.6 406.8C447.8 407.2 445.8 406.7 444 406.7C442.2 406.7 440.3 406.3 438.7 406.7C437.1 407.1 435.7 408.3 434.3 409C432.9 409.7 431.4 410.6 430.5 411C429.6 411.4 429.4 411.2 429.2 411.3M491 400C490.5 400.5 489.4 402.1 488.2 403.2C487 404.3 485.3 405.9 483.6 406.8C481.9 407.7 479.8 407.6 478.1 408.4C476.5 409.1 475.1 410.2 473.7 411.3C472.2 412.4 471.1 414.2 469.4 415C467.7 415.8 465.6 416.1 463.7 416.2C461.8 416.3 459.7 415.2 457.7 415.4C455.7 415.5 453.8 416.2 451.9 417.1C450 418 448.4 419.8 446.6 420.6C444.8 421.4 442.9 421.7 441.2 421.7C439.4 421.7 437.6 421 436.1 420.8C434.6 420.6 433.1 420.6 432.2 420.6C431.3 420.6 431.1 420.8 430.9 420.9M491 401C490.7 401.7 490.1 403.8 489.2 405.4C488.3 407 486.9 409.3 485.4 410.8C483.9 412.3 481.6 413 480 414.3C478.4 415.6 477.2 417.2 475.8 418.8C474.4 420.4 473.4 422.5 471.7 423.9C470 425.3 467.9 426.2 465.8 427C463.7 427.8 461.2 427.8 459.2 428.6C457.2 429.4 455.6 430.5 454 431.6C452.4 432.7 451.1 434.3 449.7 435.4C448.3 436.5 447 437.2 445.6 438C444.2 438.8 442.9 439.5 441.6 440.2C440.4 440.9 438.9 441.9 438.1 442.4C437.4 442.9 437.3 443.1 437.1 443.2M396 386C396.4 386.4 397.6 387.5 398.6 388.6C399.6 389.7 400.7 391.5 401.9 392.6C403.1 393.7 404.7 394.3 406 395.2C407.3 396.1 408.6 396.9 409.9 397.8C411.2 398.7 412.4 399.7 413.9 400.3C415.3 400.9 417.2 401 418.6 401.6C420 402.2 421.5 403.9 422.4 404.2C423.3 404.5 423.8 403.8 424.1 403.7M454 386C453.6 386.5 452.9 388 451.8 389C450.7 390 448.4 390.6 447.2 391.8C446 393 446 395.4 444.7 396.2C443.4 397 440.9 396.1 439.5 396.9C438.1 397.7 438 400.4 436.6 401C435.2 401.6 432.8 400.2 431.4 400.8C430 401.4 429.1 403.6 428.5 404.3C427.9 405 427.7 405 427.5 405.1" fill="none" stroke="#2f9acb" stroke-width="2" stroke-linecap="round" stroke-linejoin="round"/><path d="M392 427C392.3 427.3 393.2 428 393.8 428.9C394.4 429.8 394.7 431.4 395.5 432.2C396.3 433 397.8 432.9 398.5 433.5C399.2 434.1 399.5 435 399.8 435.8C400.1 436.6 399.8 437.7 400.2 438.5C400.6 439.3 401.6 439.8 402.2 440.5C402.8 441.2 403.4 442.3 403.6 442.9C403.8 443.5 403.4 443.7 403.4 443.9M402 431C402.3 431.3 402.9 432.1 403.6 432.7C404.3 433.3 405.7 433.7 406.3 434.5C406.9 435.3 406.7 436.9 407.4 437.6C408.1 438.3 409.4 438.4 410.3 438.9C411.2 439.4 412.5 439.7 412.8 440.5C413.1 441.3 412.2 442.8 412.1 443.7C412 444.6 412.2 445.6 412.3 446.2C412.4 446.8 412.8 446.9 412.9 447M411 434C411.3 434.2 412.1 434.6 412.8 435.1C413.5 435.6 414.5 436.1 415.1 436.9C415.7 437.7 415.5 439 416.2 439.7C416.9 440.4 418.4 440.6 419.1 441C419.9 441.4 420.4 442.2 420.7 442.4M459 427C458.7 427.3 457.8 428 457.2 428.9C456.6 429.8 456.4 431.4 455.6 432.2C454.8 433 453.2 432.9 452.5 433.5C451.8 434.1 451.4 434.9 451.1 435.7C450.8 436.5 451.2 437.7 450.8 438.5C450.4 439.3 449.4 439.9 448.8 440.6C448.2 441.3 447.6 442.3 447.4 442.9C447.2 443.4 447.5 443.7 447.5 443.9M449 431C448.7 431.2 447.9 431.9 447.2 432.5C446.5 433.1 445.6 433.9 445 434.8C444.4 435.7 444.4 437.1 443.6 437.7C442.8 438.3 441 437.9 440.2 438.4C439.4 438.9 438.8 439.9 438.6 440.8C438.4 441.7 439.3 442.9 439.2 443.8C439.1 444.7 438.3 445.7 438 446.2C437.7 446.7 437.5 446.8 437.4 446.9M440 434C439.7 434.2 438.9 434.6 438.3 435.2C437.7 435.8 437.2 436.9 436.4 437.5C435.6 438.1 434.4 438 433.6 438.6C432.9 439.2 432.2 440.3 431.9 441.1C431.6 441.9 431.7 443.1 431.7 443.5" fill="none" stroke="#2f9acb" stroke-width="2.4" stroke-linecap="round" stroke-linejoin="round"/><defs><path id="v25" d="M371 337.9L371 340.1L370.9 343.3L370.9 346.8L371.1 350.2L371.6 353.2L372.4 356L373.3 358.9L374.4 361.7L375.7 364.5L377.3 367.4L378.9 370.2L380.6 372.9L382.3 375.5L384.1 377.9L385.9 380.4L387.8 382.9L389.9 385.8L392.3 389L394.4 391.8L395.9 393.8A1.4 1.4 0 0 0 398.1 392.2L396.7 390.2L394.6 387.3L392.3 384.1L390.2 381.1L388.4 378.5L386.7 376.1L385 373.6L383.4 371.1L381.8 368.5L380.2 365.7L378.8 363L377.6 360.3L376.7 357.7L375.9 355.1L375.3 352.5L374.9 349.8L374.7 346.7L374.8 343.4L374.9 340.2L375 338.1A2 2 0 0 0 371 337.9ZM475 338.1L475.1 340.2L475.2 343.4L475.3 346.7L475.1 349.8L474.7 352.5L474.1 355.1L473.3 357.7L472.4 360.3L471.2 363L469.8 365.7L468.2 368.5L466.6 371.1L465 373.6L463.3 376.1L461.6 378.5L459.8 381.1L457.7 384.1L455.4 387.3L453.3 390.2L451.9 392.2A1.4 1.4 0 0 0 454.1 393.8L455.6 391.8L457.7 389L460.1 385.8L462.2 382.9L464.1 380.4L465.9 377.9L467.7 375.5L469.4 372.9L471.1 370.2L472.7 367.4L474.3 364.5L475.6 361.7L476.7 358.9L477.6 356L478.4 353.2L478.9 350.2L479.1 346.8L479.1 343.3L479 340.1L479 337.9A2 2 0 0 0 475 338.1Z"/></defs><use href="#v25" fill="#aa192d" stroke="#aa192d" stroke-width="0.9" stroke-linejoin="round"/><use href="#v25" fill="#de2239"/><path d="M407.5 307C408 306.7 409.4 305.6 410.5 305.2C411.6 304.8 412.8 304.8 414 304.7C415.2 304.6 416.4 305.1 417.5 304.9C418.6 304.7 420.2 303.6 420.7 303.4M407.5 307C407.9 307.5 408.8 309.1 409.6 309.8C410.5 310.6 411.5 311.1 412.6 311.5C413.7 311.9 414.9 312.2 416 312.5C417.1 312.8 418.8 313 419.4 313.1M419.4 313.1C420 313 421.8 312.7 422.9 312.4C424 312.1 425.7 311.6 426.3 311.5M419.4 313.1C419.8 313.5 420.9 314.9 421.8 315.7C422.7 316.5 423.9 316.9 424.6 317.8C425.3 318.7 425.7 320.6 425.9 321.1M445 308.3C444.5 308 443 307.1 442 306.5C441 305.9 439.8 305.7 438.9 305C438 304.3 437.4 303.2 436.5 302.4C435.6 301.6 434.2 300.7 433.7 300.4M433.7 300.4C433.1 300.6 431.4 301.2 430.4 301.8C429.4 302.4 428.7 303.4 427.9 304.2C427.1 305 425.9 306.3 425.5 306.7M451.8 306.7C452 307.2 452.8 308.8 453.2 309.9C453.6 311 453.9 312.1 454.3 313.2C454.7 314.3 455.1 316 455.3 316.6M455.3 316.6C455.5 317.2 456.2 318.8 456.5 319.9C456.8 321 457.1 322.7 457.2 323.3M455.3 316.6C454.9 317 453.2 318 452.6 318.9C452 319.8 451.8 321.6 451.6 322.2M410.5 317C411 316.7 412.5 315.7 413.6 315.3C414.7 314.9 415.9 315 417 314.7C418.1 314.4 419.4 314 420.3 313.4C421.2 312.8 422.3 311.2 422.7 310.8M422.7 310.8C422.6 310.2 422.1 308.5 422 307.3C421.9 306.1 421.9 304.4 421.9 303.8M422.7 310.8C423.2 310.6 424.8 309.9 425.9 309.4C426.9 308.9 427.9 308.3 429 307.9C430.1 307.5 431.8 307.1 432.4 307M420.3 313.4C420.3 312.8 420.3 311 420.1 309.9C419.9 308.8 419.2 307.1 419 306.5M410.5 317C410.6 317.6 410.9 319.4 410.8 320.5C410.7 321.6 410.2 322.8 410 323.9C409.8 325 409.6 326.1 409.5 327.3C409.4 328.5 409.6 330.2 409.6 330.8M409.6 330.8C410 331.2 411.3 332.5 412 333.4C412.7 334.3 413.1 335.5 413.8 336.4C414.5 337.3 415.8 338.6 416.2 339M409.6 330.8C409.4 331.3 408.8 333 408.2 334C407.6 335 406.3 336.2 405.9 336.7M409.5 327.3C409.8 327.8 410.7 329.4 411.2 330.4C411.7 331.4 412.4 333 412.7 333.5M404.1 314.7C404.5 314.3 405.8 313.1 406.4 312.1C407 311.1 407.2 309.9 407.5 308.8C407.8 307.7 408.2 306 408.3 305.4M408.3 305.4C408.1 304.8 407.4 303.2 407 302.1C406.6 301 406.2 299.4 406.1 298.8M408.3 305.4C408.9 305.3 410.6 304.8 411.7 304.6C412.8 304.4 414 304.2 415.2 304.1C416.4 304 418.1 303.9 418.7 303.8M407.5 308.8C407.4 308.2 407.1 306.5 406.9 305.4C406.6 304.3 406.1 302.6 406 302M451.6 327.7C451.8 328.3 452.3 330 452.5 331.1C452.7 332.2 452.4 333.5 452.8 334.6C453.2 335.7 454.3 336.4 454.7 337.5C455.1 338.6 455.1 340.4 455.2 341M455.2 341C455.7 341.3 457.4 341.9 458.2 342.7C459 343.5 459.8 344.6 460.2 345.6C460.6 346.7 460.8 348.4 460.9 349M455.2 341C454.8 341.4 453.5 342.7 452.8 343.6C452.1 344.5 451.2 346 450.9 346.5M454.7 337.5C455.2 337.8 456.9 338.4 457.8 339.2C458.7 339.9 459.5 341.5 459.8 342M451.6 327.7C451.1 328 449.5 328.8 448.5 329.4C447.5 329.9 446.4 330.4 445.4 331C444.4 331.6 443.6 332.4 442.5 332.9C441.4 333.4 439.7 333.7 439.1 333.9M439.1 333.9C438.8 334.4 437.9 335.9 437.4 336.9C436.8 337.9 436.1 339.5 435.8 340M439.1 333.9C438.7 333.5 437.1 332.6 436.4 331.7C435.6 330.8 435.4 329.6 434.6 328.7C433.9 327.8 432.3 326.8 431.9 326.4M442.5 332.9C441.9 332.8 440.2 332.4 439.1 332.2C438 332 436.2 331.6 435.6 331.5M407.3 326.7C407.9 326.9 409.6 327.5 410.7 327.6C411.8 327.7 413.1 327.5 414.2 327.2C415.3 326.9 416.3 326.2 417.3 325.6C418.3 325 419.8 324.1 420.3 323.8M420.3 323.8C420.8 323.5 422.2 322.5 423.3 322C424.4 321.5 426.1 321 426.6 320.8M420.3 323.8C420.8 324.1 422.3 324.9 423.4 325.4C424.5 325.8 425.6 326.1 426.7 326.5C427.8 326.9 429.5 327.3 430.1 327.5M407.3 326.7C407.5 327.2 408.4 328.8 408.7 329.9C409 331 408.7 332.3 408.9 333.4C409.1 334.5 409.7 335.6 410 336.7C410.3 337.8 410.6 339 410.7 340.2C410.8 341.4 410.8 343.1 410.8 343.7M410.8 343.7C411.1 344.2 412.2 345.5 412.8 346.5C413.4 347.5 413.9 348.6 414.5 349.6C415.1 350.6 416.2 351.9 416.5 352.4M410.8 343.7C410.3 343.9 408.8 344.8 407.7 345.2C406.6 345.6 405.3 345.9 404.2 346C403.1 346.1 401.4 345.6 400.8 345.5M410 336.7C410.5 337 412.2 337.7 413.1 338.4C414 339.1 415.2 340.4 415.6 340.8M446.4 335.4C446.3 336 446.2 337.8 446 338.9C445.8 340 445.2 341.1 445 342.2C444.8 343.3 444.8 344.6 444.5 345.7C444.2 346.8 443.7 347.9 443.1 348.9C442.5 349.9 441.3 351.2 440.9 351.6M440.9 351.6C441.2 352.1 442.2 353.4 442.9 354.4C443.6 355.3 444.3 356.3 444.9 357.3C445.4 358.3 446 360 446.2 360.5M444.5 345.7C444 345.9 442.2 346.5 441.3 347.2C440.4 347.9 439.2 349.2 438.8 349.6M446.4 335.4C445.8 335.2 444.2 334.4 443.1 334.2C442 334 440.7 334.4 439.6 334.1C438.5 333.8 437.3 333.3 436.4 332.6C435.5 331.9 434.7 331 434.1 330C433.5 329 432.9 327.2 432.7 326.7M432.7 326.7C432.2 326.4 430.7 325.4 429.9 324.6C429.1 323.8 428.6 322.6 427.8 321.8C427 321 425.6 320 425.1 319.6M432.7 326.7C433 326.2 433.9 324.7 434.5 323.7C435.1 322.7 435.9 321.7 436.1 320.6C436.4 319.5 436 317.7 436 317.1M451.7 330.9C451.5 331.4 451.1 333.2 450.5 334.2C449.9 335.2 448.9 336 448.4 337C447.9 338 447.6 339.8 447.5 340.4M447.5 340.4C447.6 341 447.9 342.6 448 343.8C448.1 345 448.1 346.7 448.1 347.3M448.4 337C448.6 337.5 449.4 339.1 449.8 340.2C450.2 341.3 450.7 342.9 450.9 343.5M409.5 343C410.1 343.1 411.8 343.5 413 343.5C414.2 343.5 415.3 343.3 416.5 343.2C417.7 343.1 418.8 343.2 420 343.1C421.2 343 422.9 342.8 423.5 342.7M423.5 342.7C424 342.4 425.7 341.8 426.5 341C427.3 340.2 427.6 338.9 428.5 338.1C429.4 337.4 431.1 336.8 431.6 336.5M423.5 342.7C424 343 425.4 344 426.5 344.4C427.6 344.8 429.3 345.1 429.9 345.3M409.5 343C409.5 343.6 409.4 345.4 409.5 346.5C409.6 347.6 410 348.8 410.2 349.9C410.4 351 410.6 352.2 410.8 353.4C411.1 354.5 411.7 355.7 411.7 356.8C411.7 357.9 411.1 359.6 411 360.2M410.8 353.4C411.2 353.8 412.5 355 413.1 356C413.7 357 413.7 358.4 414.3 359.3C414.9 360.2 416.5 361.3 416.9 361.7M439.9 343.7C439.8 344.3 439.6 346 439.3 347.2C439.1 348.4 438.7 349.5 438.4 350.6C438.1 351.7 437.8 352.9 437.6 354C437.4 355.1 437.1 356.8 437 357.4M437 357.4C437.4 357.8 438.9 358.9 439.7 359.7C440.5 360.5 441.5 361.9 441.9 362.4M437 357.4C436.5 357.7 435.2 358.9 434.1 359.3C433.1 359.8 431.8 359.7 430.7 360.1C429.6 360.6 428.2 361.7 427.7 362M439.9 343.7C439.3 343.5 437.5 343 436.6 342.4C435.7 341.8 435.2 340.5 434.3 339.8C433.4 339.1 432 338.9 431.2 338.1C430.4 337.3 429.6 335.7 429.3 335.2M429.3 335.2C428.9 334.8 427.6 333.6 426.6 333C425.6 332.4 424.5 331.9 423.4 331.6C422.3 331.3 420.5 331.4 419.9 331.4M429.3 335.2C429.1 334.6 428.7 332.9 428.4 331.8C428.1 330.7 427.7 329.5 427.5 328.4C427.3 327.2 427.4 325.5 427.4 324.9M431.2 338.1C430.7 338.4 429.3 339.5 428.2 339.9C427.1 340.3 425.3 340.4 424.7 340.5M445.8 340.2C445.4 339.8 444.2 338.5 443.2 337.9C442.2 337.3 441.1 336.8 440 336.6C438.9 336.4 437.1 336.5 436.5 336.5M436.5 336.5C436 336.8 434.4 337.5 433.3 338C432.2 338.5 430.6 339.2 430.1 339.4M436.5 336.5C436.1 336.1 434.8 334.8 434.3 333.8C433.8 332.8 433.5 331.1 433.3 330.5M404.5 358.2C405.1 358.3 406.8 358.9 407.9 358.9C409 358.9 410.2 358.6 411.4 358.4C412.5 358.2 413.6 357.9 414.8 357.8C416 357.7 417.1 358 418.3 358C419.5 358 421.2 357.8 421.8 357.7M421.8 357.7C422.1 357.2 422.7 355.4 423.5 354.6C424.3 353.8 425.4 353.2 426.4 352.7C427.4 352.2 429.1 351.8 429.7 351.6M421.8 357.7C422.2 358.1 423.6 359.2 424.4 360.1C425.2 361 425.9 361.9 426.6 362.8C427.3 363.7 428.3 364.5 428.8 365.5C429.3 366.5 429.5 368.3 429.6 368.9M404.5 358.2C404.5 358.8 404.7 360.5 404.6 361.7C404.5 362.9 403.9 364 403.7 365.1C403.5 366.2 403.7 367.5 403.5 368.6C403.3 369.7 402.8 370.8 402.3 371.8C401.8 372.8 400.6 374.2 400.3 374.7M400.3 374.7C400.5 375.2 401.2 376.9 401.5 378C401.8 379.1 401.6 380.4 402 381.5C402.4 382.6 403.2 383.4 403.9 384.4C404.6 385.3 405.6 386.7 406 387.2M400.3 374.7C399.8 374.9 398.1 375.6 397 376C395.9 376.4 394.7 376.5 393.7 377C392.7 377.5 391.3 378.6 390.8 378.9M441.8 347C441.6 346.4 440.9 344.8 440.5 343.7C440.1 342.6 439.7 341.4 439.1 340.5C438.5 339.6 437.6 338.8 436.7 338C435.8 337.2 434.7 336.6 433.8 335.9C432.9 335.2 431.6 334.1 431.1 333.8M431.1 333.8C430.5 333.7 428.8 333.5 427.6 333.3C426.4 333.1 425.2 333.3 424.1 332.9C423 332.5 422.2 331.6 421.2 331C420.2 330.4 418.7 329.5 418.2 329.2M406.1 366.1C406.6 365.7 407.9 364.5 408.8 363.8C409.7 363.1 410.7 362.4 411.6 361.7C412.6 361 413.6 360.6 414.5 359.9C415.4 359.2 416.4 358.4 417.2 357.6C418 356.8 419 355.3 419.4 354.9M419.4 354.9C419.5 354.3 419.9 352.6 419.9 351.5C419.9 350.4 420 349.1 419.6 348C419.2 346.9 418 345.5 417.7 345M419.4 354.9C420 354.8 421.8 354.7 422.9 354.4C424 354.1 425.1 353.5 426.2 353.3C427.3 353.1 429.1 353.4 429.7 353.4M406.1 366.1C406.6 366.4 408.3 366.9 409.2 367.6C410.1 368.3 410.6 369.5 411.4 370.4C412.1 371.3 412.9 372.1 413.7 373C414.5 373.9 415.5 374.6 416.1 375.6C416.7 376.6 416.9 378.3 417.1 378.9M417.1 378.9C417.5 379.3 418.7 380.5 419.6 381.3C420.5 382.1 421.6 382.6 422.3 383.5C423 384.4 423.4 385.6 423.8 386.7C424.2 387.8 424.6 389.5 424.7 390.1M417.1 378.9C417 379.5 416.5 381.2 416.4 382.4C416.3 383.5 416.4 384.7 416.7 385.8C417 386.9 417.9 387.9 418.3 389C418.7 390.1 419.1 391.8 419.3 392.3M413.7 373C413.8 373.6 414.1 375.3 414.2 376.5C414.3 377.7 414.4 378.9 414.3 380C414.2 381.1 414 382.8 413.9 383.4M442.1 375.9C441.9 376.5 441.6 378.2 441.1 379.3C440.7 380.4 440 381.3 439.4 382.3C438.8 383.3 437.8 384.1 437.3 385.2C436.8 386.2 436.5 388 436.4 388.6M436.4 388.6C436.6 389.2 437.3 390.8 437.6 391.9C437.9 393 437.8 394.2 438.2 395.3C438.6 396.4 439.6 397.9 439.9 398.4M436.4 388.6C436 389 434.5 390 433.9 390.9C433.2 391.8 432.7 393.6 432.5 394.2M437.3 385.2C437.6 385.7 438.6 387.2 439.4 388C440.2 388.8 441.8 389.7 442.3 390M442.1 375.9C441.5 375.8 439.8 375.5 438.7 375.3C437.6 375.1 436.4 374.8 435.3 374.7C434.2 374.6 433 374.8 431.8 374.9C430.6 375 429.5 375.4 428.3 375.4C427.1 375.4 425.5 374.9 424.9 374.8M424.9 374.8C424.3 374.8 422.6 374.9 421.4 374.9C420.2 374.9 419 374.9 417.9 374.7C416.8 374.5 415.1 374 414.5 373.9M424.9 374.8C424.7 374.3 424.1 372.6 423.5 371.6C422.9 370.6 422.1 369.7 421.5 368.7C420.9 367.7 420.2 366.1 419.9 365.6M448.6 373.2C448.5 373.8 448.1 375.5 448.1 376.6C448.1 377.7 448.8 378.9 448.8 380C448.8 381.1 448.1 382.8 448 383.4M448 383.4C448.2 384 448.8 385.6 449 386.8C449.2 388 449.2 389.7 449.3 390.3M448 383.4C447.6 383.8 446.3 385.1 445.4 385.8C444.5 386.5 442.9 387.2 442.4 387.5M448.8 380C448.4 380.4 446.9 381.5 446.1 382.3C445.3 383.1 444.4 384.6 444 385M409.9 384.6C410.4 384.9 411.8 385.8 412.9 386.3C413.9 386.8 415.1 387.4 416.2 387.7C417.3 387.9 418.6 387.5 419.7 387.8C420.8 388.1 421.7 388.9 422.7 389.5C423.7 390.1 425.1 391.2 425.6 391.6M425.6 391.6C426.2 391.4 427.8 390.7 428.9 390.5C430 390.3 431.2 390.2 432.4 390.2C433.6 390.2 434.8 390.1 435.9 390.4C437 390.6 438.6 391.5 439.2 391.7M425.6 391.6C425.9 392.1 427 393.4 427.6 394.4C428.2 395.4 428.5 396.6 429.2 397.5C429.9 398.4 431.2 399.7 431.6 400.1M419.7 387.8C420.1 388.2 421 389.8 421.9 390.5C422.8 391.2 424.5 391.8 425 392.1M409.9 384.6C409.7 385.2 409.2 386.9 408.9 388C408.5 389.1 408.3 390.2 407.8 391.3C407.3 392.4 406.3 393.2 406 394.3C405.7 395.4 406.2 396.6 406.2 397.8C406.2 399 406.2 400.7 406.2 401.3M406.2 401.3C406.4 401.9 407.1 403.6 407.2 404.7C407.3 405.8 406.8 407.1 407 408.2C407.2 409.3 408.3 410.8 408.6 411.3M406.2 401.3C405.9 401.8 404.7 403.1 404.1 404.1C403.5 405.1 403.1 406.2 402.8 407.3C402.5 408.4 402.7 409.7 402.3 410.8C401.9 411.9 401 413.4 400.7 413.9M406 394.3C405.5 394.5 403.9 395.5 402.8 395.7C401.7 395.9 399.9 395.4 399.3 395.4M444.9 368.8C444.4 368.6 442.8 367.8 441.7 367.3C440.6 366.8 439.7 366.2 438.6 365.7C437.6 365.2 436.4 364.8 435.4 364.3C434.4 363.8 433.3 363.2 432.4 362.5C431.5 361.8 430.2 360.6 429.8 360.2M429.8 360.2C429.2 360.1 427.4 359.8 426.4 359.3C425.4 358.8 424.7 357.7 423.7 357.1C422.7 356.5 421 355.9 420.5 355.6M429.8 360.2C429.5 359.7 428.4 358.2 428.1 357.1C427.8 356 428.4 354.7 428.1 353.6C427.8 352.5 426.8 351 426.5 350.5M435.4 364.3C434.9 364.6 433.7 365.9 432.7 366.4C431.7 366.9 430.4 367.2 429.3 367.2C428.2 367.2 426.4 366.7 425.8 366.6M444.9 368.8C444.9 368.2 445.2 366.5 445.2 365.3C445.2 364.1 445 362.9 444.7 361.8C444.4 360.7 443.7 359.7 443.1 358.7C442.5 357.7 441.6 356.2 441.3 355.7M441.3 355.7C440.7 355.6 439 355.1 437.9 354.8C436.8 354.5 435.6 354.6 434.5 354.1C433.4 353.7 432.1 352.4 431.6 352.1M441.3 355.7C441.6 355.2 442.3 353.5 443.1 352.7C443.9 351.9 445 351.3 445.9 350.6C446.8 349.9 447.6 349 448.6 348.4C449.6 347.8 451.3 347.1 451.8 346.8M443.1 358.7C443.4 358.2 444.1 356.5 444.6 355.5C445.2 354.5 446.1 353 446.4 352.5M414.5 309C415.1 309.2 416.7 309.9 417.8 310.2C418.9 310.5 420.1 310.8 421.2 311C422.3 311.2 424.1 311.4 424.7 311.5M424.7 311.5C425.2 311.3 426.9 310.7 427.9 310.1C428.9 309.5 430.1 308.2 430.5 307.8M424.7 311.5C424.9 312 425.6 313.6 426.2 314.6C426.8 315.6 427.7 317.1 428 317.6M421.2 311C421.7 310.7 423.2 309.8 424.3 309.4C425.4 309 427.2 309 427.8 308.9M414.5 309C414 309.4 412.6 310.3 411.7 311.1C410.8 311.9 410.1 312.9 409.3 313.7C408.5 314.5 407.7 315.4 406.9 316.2C406.1 317 404.9 318.3 404.5 318.7M404.5 318.7C404.7 319.2 405.1 321 405.7 322C406.2 323 407.4 324.3 407.8 324.8M404.5 318.7C403.9 318.8 402.1 319.1 401 319.4C399.9 319.7 398.7 319.9 397.6 320.3C396.5 320.7 395 321.6 394.5 321.8M412 302.5C412.4 303 413.5 304.3 414.1 305.3C414.7 306.3 415.4 308 415.6 308.5M415.6 308.5C416.2 308.6 418 308.9 419.1 308.8C420.2 308.7 421.9 308 422.5 307.9M415.6 308.5C415.3 309 414.5 310.5 413.7 311.4C412.9 312.2 411.4 313.2 411 313.6M415.6 308.5C416 308.9 417.4 310 418.2 310.8C419 311.6 420.1 313.1 420.5 313.5M429 309.6C429.6 309.8 431.3 310.1 432.3 310.7C433.3 311.3 434.2 312.3 434.8 313.2C435.4 314.1 436 315.8 436.2 316.3M436.2 316.3C436.6 316.8 437.5 318.4 438.3 319.2C439.1 320 440.1 320.6 441.1 321.3C442.1 322 443.6 322.8 444.1 323.1M436.2 316.3C435.9 316.8 435.1 318.4 434.7 319.5C434.3 320.6 433.8 321.7 433.6 322.8C433.4 323.9 433.5 325.7 433.5 326.3M429 309.6C428.6 310 427.3 311.2 426.5 312.1C425.7 313 424.9 313.8 424.2 314.7C423.5 315.6 422.7 317.3 422.4 317.8M422.4 317.8C422.8 318.2 424 319.5 424.7 320.4C425.4 321.3 426.4 322.7 426.8 323.2M426.8 303C427.1 303.5 427.7 305.2 428.4 306.1C429.1 307 430.6 308 431 308.4M431 308.4C431.3 308.9 432.2 310.3 432.7 311.4C433.2 312.4 433.7 314.1 433.9 314.7M431 308.4C431 309 430.8 310.8 430.9 311.9C431 313 431.7 314.6 431.9 315.2M441.3 310.3C441.5 310.8 442.2 312.4 442.6 313.5C443 314.6 443.2 315.9 443.9 316.8C444.6 317.7 446.2 318.5 446.6 318.9M446.6 318.9C447.1 319.1 448.8 319.8 449.8 320.4C450.8 321 452 322.4 452.4 322.8M446.6 318.9C446.8 319.4 447.7 321.1 447.9 322.2C448.1 323.3 448 325.1 448 325.7M388.3 384.8C388.9 384.9 390.6 385.4 391.7 385.3C392.8 385.2 394.4 384.4 395 384.2M388.3 384.8C388.9 384.8 390.6 385 391.7 385C392.8 385 394.6 384.8 395.2 384.7M411.3 393.5C411.9 393.3 413.5 392.7 414.6 392.4C415.7 392.1 417.5 392 418.1 391.9M411.3 393.5C411.5 394.1 411.8 395.8 412.4 396.8C412.9 397.8 414.2 399.1 414.6 399.6M394.1 401.2C394.6 400.9 396 399.8 397.1 399.4C398.2 399 400 398.7 400.6 398.6M394.1 401.2C394.5 401.6 395.7 403 396.7 403.6C397.7 404.2 399.4 404.7 399.9 404.9M394.1 401.2C394.1 401.8 394.4 403.6 394.2 404.7C394 405.8 393.3 407.4 393.1 408M414.5 406.2C415 406.5 416.4 407.4 417.5 407.9C418.6 408.4 420.2 408.8 420.8 409M414.5 406.2C414.7 406.7 415.5 408.3 415.9 409.4C416.3 410.5 416.9 412.1 417.1 412.7M414.5 406.2C414.4 406.8 413.7 408.5 413.6 409.6C413.5 410.8 413.7 412.5 413.7 413.1M387.6 405.6C387.7 405 388.1 403.2 388.1 402.1C388.1 401 387.6 399.3 387.5 398.7M387.6 405.6C388.2 405.7 390 406.2 391.1 406.1C392.2 406 393.8 405.2 394.4 405M387.6 405.6C388.1 405.9 389.5 406.9 390.6 407.4C391.7 407.8 393.4 408.1 394 408.3M410.7 419.3C411.3 419.4 413.1 419.4 414.2 419.7C415.3 420 416.8 421 417.3 421.3M410.7 419.3C410.9 419.8 411.6 421.4 412.1 422.5C412.6 423.6 413.3 425.2 413.5 425.8M385.8 421C386.4 421 388.1 421.3 389.2 421.1C390.3 420.9 391.9 420.1 392.5 419.9M385.8 421C385.8 421.6 385.8 423.4 385.9 424.5C386 425.6 386.6 427.3 386.7 427.9M407.5 428.6C408 428.9 409.3 430.1 410.3 430.6C411.3 431.1 413.1 431.5 413.6 431.7M407.5 428.6C407.5 429.2 407.6 430.9 407.6 432.1C407.6 433.3 407.6 435 407.6 435.6M425.8 421.9C426.4 421.9 428.2 421.6 429.3 421.7C430.4 421.8 432.1 422.1 432.7 422.2M381.2 414.4C380.9 413.9 379.9 412.4 379.5 411.3C379.1 410.2 378.8 408.5 378.6 407.9M381.2 414.4C381.6 414 383 413 383.8 412.1C384.6 411.2 385.5 409.8 385.9 409.3M381.2 414.4C381.1 413.8 380.7 412.1 380.6 410.9C380.5 409.7 380.7 408 380.7 407.4M406.3 435.5C406.8 435.8 408.2 436.9 409.3 437.3C410.4 437.7 412.2 437.6 412.8 437.7M406.3 435.5C406.4 436.1 406.8 437.8 406.9 438.9C407 440 406.8 441.8 406.8 442.4M406.3 435.5C406.2 436.1 405.7 437.8 405.6 438.9C405.6 440 405.9 441.8 406 442.4M424.2 435.8C424 435.2 423.4 433.6 422.9 432.5C422.4 431.4 421.6 429.8 421.4 429.3M424.2 435.8C424.7 435.5 426.1 434.4 427.1 433.9C428.1 433.3 429.8 432.7 430.4 432.5M462.3 383.9C461.8 384.1 460.1 384.5 459 385C457.9 385.5 456.5 386.6 456 386.9M462.3 383.9C462 383.4 461.1 381.9 460.3 381C459.6 380.1 458.2 379 457.8 378.6M462.3 383.9C461.7 384 460 384.1 458.8 384.3C457.6 384.5 456 384.8 455.4 384.9M442.8 396.9C442.4 397.3 441 398.5 440.4 399.5C439.8 400.5 439.2 402.2 439 402.7M442.8 396.9C442.2 397 440.4 397.1 439.3 397.5C438.2 397.9 436.8 399 436.3 399.3M461.7 405.9C461.4 406.4 460.4 407.9 459.6 408.7C458.8 409.5 457.3 410.4 456.8 410.8M435.3 404.1C434.9 404.6 433.7 406 433.2 407C432.7 408 432.4 409.8 432.3 410.3M435.3 404.1C434.9 403.7 433.7 402.5 432.8 401.7C431.9 400.9 430.6 399.9 430.1 399.5M435.3 404.1C435 404.6 433.8 405.9 433.3 407C432.9 408.1 432.7 409.8 432.6 410.4M462.9 405.9C463 405.3 463.6 403.7 463.8 402.6C464 401.5 464 399.7 464 399.1M441.2 408.2C440.9 407.7 439.8 406.3 439.2 405.3C438.6 404.3 437.9 402.7 437.7 402.2M441.2 408.2C441.1 407.6 440.8 405.8 440.5 404.7C440.2 403.6 439.5 401.9 439.3 401.4M441.2 408.2C440.6 408.2 438.8 408.6 437.7 408.5C436.6 408.4 434.9 407.8 434.3 407.7M469.3 423.3C469.4 423.9 469.6 425.6 469.7 426.8C469.8 428 470.1 429.7 470.2 430.3M469.3 423.3C468.8 423.5 467.1 424 466 424.4C464.9 424.8 463.2 425.2 462.6 425.4M446.4 429.9C446.1 430.4 445.1 431.8 444.5 432.8C443.9 433.8 443 435.3 442.7 435.8M427.2 423.5C426.7 423.2 425.4 422.1 424.3 421.6C423.2 421.1 421.5 420.9 420.9 420.7M427.2 423.5C427.3 422.9 427.7 421.2 427.8 420.1C427.9 419 427.8 417.2 427.8 416.6M472.1 429.9C472.6 430.2 474.1 431 474.9 431.9C475.6 432.8 476.3 434.5 476.6 435M472.1 429.9C471.6 430.1 469.9 430.8 468.8 431.2C467.7 431.6 466.1 432 465.5 432.2M447.8 427.2C447.3 426.9 445.7 426.1 444.6 425.7C443.5 425.3 441.8 425 441.2 424.9M447.8 427.2C447.8 426.6 447.6 424.8 447.5 423.7C447.4 422.6 447 420.9 446.9 420.3M447.8 427.2C447.3 426.9 445.9 425.8 444.8 425.4C443.7 424.9 442 424.6 441.4 424.5M426.1 444.5C426 445.1 425.6 446.9 425.7 448C425.8 449.1 426.5 450.8 426.6 451.4M426.1 444.5C425.6 444.2 424 443.4 422.9 443C421.8 442.6 420.1 442.4 419.5 442.3" fill="none" stroke="#de2239" stroke-width="0.8" stroke-linecap="round" stroke-linejoin="round"/><path d="M387.7 300.4C388.2 300.6 389.9 301.2 391 301.6C392.1 302 393.1 302.4 394.2 302.9C395.3 303.4 396.3 304.1 397.4 304.5C398.5 304.9 399.7 304.8 400.8 305C401.9 305.2 403.1 305.4 404.2 305.7C405.3 306 406.9 306.8 407.5 307M463.2 298.9C462.7 299.2 461.1 299.8 460.2 300.5C459.3 301.2 458.8 302.5 457.9 303.2C457 303.9 455.8 304.3 454.8 304.9C453.8 305.5 452.9 306.3 451.8 306.7C450.7 307.1 449.5 307 448.4 307.3C447.3 307.6 445.6 308.1 445 308.3M390.8 312.6C391.4 312.6 393.1 312.6 394.3 312.5C395.5 312.4 396.7 311.6 397.8 311.7C398.9 311.8 399.9 312.6 401 313.1C402.1 313.6 403.1 314.1 404.1 314.7C405.1 315.3 405.9 316.2 407 316.6C408.1 317 409.9 316.9 410.5 317M461.1 310.9C460.6 311.1 458.8 311.4 457.8 312C456.8 312.6 456 313.5 455.3 314.4C454.6 315.3 454.2 316.5 453.7 317.6C453.2 318.7 452.6 319.7 452.3 320.8C452 321.9 451.7 323.1 451.6 324.2C451.5 325.3 451.6 327.1 451.6 327.7M387.1 327.6C387.7 327.5 389.4 327.3 390.5 327.1C391.6 326.9 392.9 326.7 394 326.4C395.1 326.1 396.1 325.4 397.2 325.1C398.3 324.8 399.5 324.6 400.7 324.6C401.9 324.6 403 325 404.1 325.3C405.2 325.6 406.8 326.5 407.3 326.7M463.1 323.2C462.6 323.4 460.8 323.9 459.9 324.6C459 325.3 458.4 326.4 457.6 327.2C456.8 328 455.9 328.9 454.9 329.5C453.9 330.1 452.7 330.3 451.7 330.9C450.7 331.5 449.8 332.2 448.9 333C448 333.8 446.8 335 446.4 335.4M390 338.4C390.6 338.3 392.4 337.8 393.5 337.9C394.6 338 395.7 338.8 396.8 338.9C397.9 339 399.1 338.7 400.3 338.7C401.5 338.7 402.7 338.8 403.8 339.1C404.9 339.4 405.9 340.1 406.9 340.7C407.8 341.3 409.1 342.6 409.5 343M459.1 336.2C458.5 336.3 456.8 336.4 455.7 336.6C454.6 336.8 453.4 337.2 452.3 337.6C451.2 338 450.3 338.8 449.2 339.2C448.1 339.6 446.8 339.7 445.8 340.2C444.8 340.7 444.1 341.8 443.1 342.4C442.1 343 440.4 343.5 439.9 343.7M385.6 349.4C386.1 349.6 387.8 350.1 388.8 350.7C389.8 351.3 390.6 352.2 391.6 352.8C392.6 353.4 393.7 353.7 394.8 354.2C395.9 354.7 396.9 355.1 398 355.6C399.1 356.1 400.1 356.6 401.2 357C402.3 357.4 403.9 358 404.5 358.2M461 353C460.4 353 458.6 352.9 457.5 353C456.4 353.1 455.2 353.6 454.1 353.5C453 353.4 451.9 352.6 450.8 352.2C449.7 351.8 448.7 351.3 447.6 350.8C446.6 350.3 445.5 349.7 444.5 349.1C443.5 348.5 442.2 347.4 441.8 347M385.5 366.6C386.1 366.5 387.8 365.9 388.9 366C390 366.1 391.1 367 392.2 367.2C393.3 367.4 394.5 367.2 395.7 367.2C396.9 367.2 398 367.5 399.2 367.4C400.4 367.3 401.5 366.8 402.6 366.6C403.8 366.4 405.5 366.2 406.1 366.1M461.2 367.5C460.6 367.6 458.9 368 457.8 368.3C456.7 368.6 455.5 369 454.5 369.5C453.5 370 452.6 370.9 451.6 371.5C450.6 372.1 449.7 372.7 448.6 373.2C447.6 373.7 446.4 373.9 445.3 374.4C444.2 374.8 442.6 375.6 442.1 375.9M390.3 378.3C390.9 378.3 392.7 378.2 393.8 378.5C394.9 378.8 395.8 379.6 396.9 380C398 380.4 399.2 380.6 400.3 380.9C401.4 381.1 402.6 381.2 403.7 381.5C404.8 381.8 406.1 382 407.1 382.5C408.1 383 409.4 384.2 409.9 384.6M462 380.2C461.4 380.1 459.7 379.8 458.6 379.3C457.6 378.8 456.7 377.9 455.7 377.3C454.7 376.7 453.5 376.5 452.5 375.9C451.5 375.3 450.6 374.5 449.7 373.8C448.8 373.1 447.9 372.3 447.1 371.5C446.3 370.7 445.3 369.2 444.9 368.8M408 293C408.4 293.5 409.6 294.8 410.1 295.8C410.6 296.8 410.5 298.1 410.8 299.2C411.1 300.3 411.6 301.4 412 302.5C412.4 303.6 412.8 304.7 413.2 305.8C413.6 306.9 414.3 308.5 414.5 309M425 293C425.3 293.5 426.3 294.9 426.7 296C427.1 297.1 427.3 298.3 427.3 299.5C427.3 300.7 426.7 301.9 426.8 303C426.9 304.1 427.7 305.1 428.1 306.2C428.5 307.3 428.9 309 429 309.6M442 293C441.9 293.6 441.6 295.3 441.6 296.5C441.6 297.7 442.1 298.9 442 300C441.9 301.1 441.3 302.3 441.3 303.4C441.3 304.5 441.9 305.6 441.9 306.8C441.9 308 441.4 309.7 441.3 310.3M384.1 390.3C384.5 389.9 385.9 388.7 386.6 387.8C387.3 386.9 388 385.3 388.3 384.8M406.4 388.6C406.7 389.1 407.6 390.8 408.4 391.6C409.2 392.4 410.8 393.2 411.3 393.5M388 397.9C388.5 398.2 389.9 399.3 390.9 399.9C391.9 400.4 393.6 401 394.1 401.2M409.2 401.7C409.7 402 411.4 402.6 412.3 403.4C413.2 404.1 414.1 405.7 414.5 406.2M383.7 411.4C384 410.9 384.8 409.3 385.4 408.3C386 407.3 387.2 406.1 387.6 405.6M406.1 414.1C406.5 414.5 407.5 415.8 408.3 416.7C409.1 417.6 410.3 418.9 410.7 419.3M379.9 417.3C380.3 417.7 381.5 419 382.5 419.6C383.5 420.2 385.2 420.8 385.8 421M402.6 423.7C403.1 424 404.8 424.8 405.6 425.6C406.4 426.4 407.2 428.1 407.5 428.6M420.4 426.2C420.8 425.8 421.9 424.4 422.8 423.7C423.7 423 425.3 422.2 425.8 421.9M378.7 420.9C378.9 420.3 379.3 418.6 379.7 417.5C380.1 416.4 380.9 414.9 381.2 414.4M400.8 431.3C401.3 431.6 402.9 432.3 403.8 433C404.7 433.7 405.9 435.1 406.3 435.5M419.4 440.8C419.8 440.3 420.7 438.8 421.5 438C422.3 437.2 423.8 436.2 424.2 435.8M467.4 388.7C467 388.3 465.9 386.9 465 386.1C464.1 385.3 462.8 384.3 462.3 383.9M444.8 390.2C444.6 390.7 443.6 392.3 443.3 393.4C443 394.5 442.9 396.3 442.8 396.9M463 399C462.9 399.6 462.5 401.4 462.3 402.5C462.1 403.6 461.8 405.3 461.7 405.9M441.8 401.7C441.3 402 439.8 403 438.7 403.4C437.6 403.8 435.9 404 435.3 404.1M467.3 411.3C466.9 410.9 465.7 409.6 465 408.7C464.3 407.8 463.2 406.4 462.9 405.9M444.9 414.1C444.6 413.6 443.5 412.2 442.9 411.2C442.3 410.2 441.5 408.7 441.2 408.2M470.8 416.5C470.6 417.1 470.1 418.8 469.8 419.9C469.6 421 469.4 422.7 469.3 423.3M448.2 423.2C448 423.8 447.5 425.4 447.2 426.5C446.9 427.6 446.5 429.3 446.4 429.9M431.4 428.9C430.9 428.5 429.3 427.6 428.6 426.7C427.9 425.8 427.4 424 427.2 423.5M473.7 423.1C473.5 423.7 472.7 425.3 472.4 426.4C472.1 427.5 472.2 429.3 472.1 429.9M450.9 433.4C450.7 432.8 450.3 431.1 449.8 430.1C449.3 429.1 448.1 427.7 447.8 427.2M431.1 439.8C430.8 440.3 429.9 441.9 429.1 442.7C428.3 443.5 426.6 444.2 426.1 444.5" fill="none" stroke="#de2239" stroke-width="1.2" stroke-linecap="round" stroke-linejoin="round"/><path d="M386 299C386.8 299.3 388.6 300.3 390.5 300.7C392.4 301.1 395 300.8 397.1 301.1C399.2 301.4 401.3 303.1 403.1 302.5C404.9 301.9 406 298.3 407.8 297.6C409.6 296.9 412.2 298.1 414.2 298.1C416.2 298.1 417.9 297.3 419.7 297.7C421.5 298.1 423.1 300 425 300.6C426.9 301.2 429.1 301.6 431.1 301.1C433.1 300.7 434.9 298.5 437.1 297.9C439.3 297.3 441.6 297.8 444.1 297.7C446.6 297.6 449.4 297.4 452 297.6C454.6 297.9 457.9 299 459.6 299.2C461.3 299.4 461.9 298.9 462.3 298.8M383 313C383.9 313.3 386.4 313.7 388.3 314.8C390.2 315.9 392.3 318.9 394.4 319.4C396.5 319.9 398.8 318.3 400.8 317.9C402.8 317.4 404.7 317.1 406.6 316.7C408.5 316.3 410.2 315.6 412.1 315.4C414 315.2 416.1 314.7 417.9 315.4C419.6 316.1 420.8 319.4 422.6 319.8C424.4 320.2 426.7 317.8 428.8 317.5C430.9 317.2 433.2 318.5 435.3 317.9C437.4 317.3 438.9 314.5 441.7 313.9C444.5 313.3 448.8 314.4 452.3 314.3C455.8 314.2 460.4 313.8 462.7 313.5C465 313.2 465.5 312.9 466.1 312.8M376 356C376.9 356.1 379.2 356.2 381.3 356.6C383.4 357 386.2 358.1 388.5 358.2C390.8 358.3 392.9 357.4 395.1 357C397.3 356.6 399.6 356.3 401.7 355.7C403.8 355.1 405.8 353 407.9 353.2C410 353.4 412.1 355.9 414.4 356.9C416.7 357.9 419.4 358.5 421.8 359C424.2 359.5 426.3 360.4 428.5 359.9C430.7 359.4 432.9 357.1 435.2 356.1C437.4 355.1 439.8 354.3 442 354.1C444.2 353.9 446.5 354.3 448.6 354.9C450.7 355.5 452.6 357.5 454.7 357.9C456.8 358.3 459 357.4 461.4 357.3C463.8 357.2 466.7 357.8 468.8 357.4C470.9 357 473 355.3 473.8 354.9M381 371C382 370.8 384.8 370.6 387 369.6C389.2 368.6 391.9 365.5 394.2 365.2C396.5 364.9 398.7 367.2 400.8 367.6C402.9 368.1 405.1 367.3 407 367.9C408.9 368.5 410.1 370.6 411.9 371.4C413.6 372.2 415.6 372.4 417.5 372.5C419.4 372.6 421.4 371.8 423.3 372C425.2 372.2 427.1 374.3 428.9 374C430.7 373.7 432.2 370.9 434.1 370.4C436 369.8 438.3 371.1 440.2 370.7C442.1 370.3 443.7 368.8 445.5 368C447.3 367.2 449.1 365.9 451 365.8C452.9 365.7 454.9 367 457.1 367.3C459.3 367.6 462.4 366.8 464.3 367.4C466.2 368 467.9 370.6 468.6 371.2M390 384C390.8 383.8 393.1 383.8 394.9 383C396.7 382.2 398.8 379.4 400.7 379.1C402.6 378.8 404.6 380.8 406.6 381.4C408.6 382 410.7 381.9 412.6 382.5C414.5 383.1 416.2 384.2 418 384.9C419.8 385.5 421.6 386.5 423.5 386.4C425.4 386.3 427.2 384.3 429.1 384.1C431 383.9 433.3 386 435.1 385.4C436.9 384.8 438.2 381.5 440 380.7C441.8 379.9 444.1 380.4 446.1 380.5C448.2 380.6 450.3 380.6 452.3 381C454.3 381.4 457 382.4 458.2 383C459.4 383.6 459.4 384.4 459.7 384.7" fill="none" stroke="#de2239" stroke-width="1.6" stroke-linecap="round" stroke-linejoin="round"/><path d="M381 313C382.2 312.3 385.7 309.3 388 309C390.3 308.7 392.7 309.5 395 311C397.3 312.5 400.8 316.8 402 318M374 337C375.3 335.8 379.3 331.8 382 330C384.7 328.2 387 326 390 326C393 326 396.7 327.7 400 330C403.3 332.3 408.3 338.3 410 340M386 293C387 294.2 390 299.2 392 300C394 300.8 395.3 299.3 398 298C400.7 296.7 406.3 293 408 292M464 313C463 312.3 460 309.3 458 309C456 308.7 454 309.5 452 311C450 312.5 447 316.8 446 318M476 337C474.7 335.8 470.7 331.8 468 330C465.3 328.2 463 326 460 326C457 326 453.3 327.7 450 330C446.7 332.3 441.7 338.3 440 340M464 293C463 294.2 460 299.2 458 300C456 300.8 454.7 299.3 452 298C449.3 296.7 443.7 293 442 292M374 337C374.9 337.1 377.3 336.7 379.4 337.4C381.4 338.1 383.9 340.6 386.3 341.2C388.7 341.8 391.4 340.1 393.5 340.8C395.6 341.5 396.9 344.5 399 345.2C401.1 345.9 403.9 344.1 406.3 344.8C408.7 345.5 410.6 348.5 413.1 349.2C415.6 349.9 418.7 348.7 421.3 348.9C423.9 349.1 426.3 350.3 428.9 350.2C431.4 350.1 434.1 348.9 436.6 348.1C439.1 347.3 441.5 346.2 443.9 345.6C446.2 345 448.5 345 450.7 344.4C452.9 343.8 454.7 342.4 456.8 341.7C458.9 341 461.2 340.8 463.5 340.3C465.8 339.8 468.6 339.1 470.7 338.6C472.8 338.1 475 337.6 475.9 337.4M394 390C394.4 390.4 395.2 391.6 396.4 392.2C397.6 392.8 399.9 392.7 401 393.7C402.1 394.7 401.7 397.2 402.8 398.3C403.9 399.4 406.5 398.9 407.6 400C408.7 401.1 408.3 403.5 409.4 404.6C410.5 405.8 413 405.8 414.2 406.9C415.4 408 415.9 410.5 416.4 411.5C416.9 412.5 417.1 412.6 417.2 412.8M454 388C453.7 388.5 453.2 389.8 452.4 390.8C451.5 391.8 449.8 392.7 448.9 393.9C447.9 395.1 447.6 396.6 446.7 397.8C445.8 399 444.5 399.8 443.3 400.8C442.1 401.8 440.8 402.5 439.7 403.7C438.6 404.9 437.8 406.7 436.6 407.8C435.4 408.9 433.4 409.7 432.7 410.5C432 411.3 432.4 412.1 432.4 412.4" fill="none" stroke="#de2239" stroke-width="2" stroke-linecap="round" stroke-linejoin="round"/><path d="M357 402C357.6 401.5 359 399.6 360.8 398.9C362.6 398.2 365.9 398.6 367.8 397.6C369.7 396.6 370.4 393.6 372.2 392.7C374 391.8 376.6 392.7 378.6 392.3C380.6 391.9 382.3 391.1 384.1 390.3C385.9 389.5 387.5 387.8 389.4 387.7C391.3 387.6 393.4 389.6 395.3 389.5C397.2 389.4 399 387.4 400.8 387.3C402.6 387.2 404.6 388 406.4 388.6C408.2 389.2 409.8 390.8 411.8 391.1C413.8 391.4 416.6 389.7 418.6 390.3C420.6 390.9 422.5 393.9 423.7 394.7C424.9 395.5 425.3 395.1 425.6 395.2M357 402C357.8 401.8 359.9 401.3 361.8 400.8C363.7 400.3 366.4 398.9 368.6 398.8C370.9 398.7 373.1 400.3 375.3 400C377.5 399.7 379.5 397.4 381.6 397C383.7 396.6 386 397.4 388 397.9C390 398.4 391.8 399.8 393.7 399.9C395.6 400 397.7 398.7 399.5 398.6C401.3 398.5 403 399 404.6 399.5C406.2 400 407.6 401.4 409.2 401.7C410.8 402 412.1 401.6 413.9 401.5C415.7 401.4 418.1 400.6 419.8 401.2C421.5 401.8 423.2 404 424.2 404.8C425.2 405.6 425.4 405.9 425.6 406.1M357 402C357.7 402.3 359.5 403 361.1 403.7C362.8 404.4 364.9 405.7 366.9 406C368.9 406.3 371.2 405.3 373.1 405.7C375 406.1 376.7 407.2 378.5 408.2C380.3 409.1 381.8 411 383.7 411.4C385.6 411.8 387.7 411 389.6 410.6C391.5 410.2 393.4 409.1 395.3 409.3C397.2 409.5 399 410.9 400.8 411.7C402.6 412.5 404.2 413.8 406.1 414.1C408 414.4 410.1 413.4 412.1 413.4C414.2 413.4 416.4 413.4 418.4 414C420.4 414.6 422.7 416.3 423.9 416.9C425.1 417.5 425.5 417.3 425.8 417.4M357 403C357.6 403.5 359 404.9 360.3 406.1C361.6 407.3 363.2 409.4 364.9 410.3C366.6 411.2 368.9 411.1 370.7 411.7C372.5 412.3 374.1 412.8 375.6 413.7C377.1 414.6 378.3 416.2 379.9 417.3C381.5 418.4 383.2 419.7 385.1 420.1C387 420.6 389.2 419.9 391.2 420C393.2 420.1 395.4 419.9 397.3 420.5C399.2 421.1 400.9 422.7 402.6 423.7C404.3 424.7 406 425.9 407.6 426.4C409.2 426.8 410.8 426.5 412.2 426.4C413.6 426.3 414.9 425.8 416.3 425.8C417.7 425.8 419.1 425.8 420.4 426.2C421.7 426.6 423.2 427.8 424.3 428.5C425.4 429.2 426.4 430.2 426.8 430.6M358 403C358.5 403.5 360 404.6 361 405.9C362 407.2 362.9 409.3 363.9 411C364.9 412.7 365.8 414.6 367.2 415.9C368.6 417.2 370.7 418.1 372.6 418.9C374.5 419.7 376.8 420 378.7 420.9C380.6 421.8 382.1 423.1 383.8 424.4C385.5 425.7 386.9 427.7 388.7 428.8C390.5 429.9 392.5 430.6 394.5 431C396.5 431.4 398.8 431 400.8 431.3C402.8 431.6 404.7 432 406.4 432.8C408.1 433.6 409.6 435.1 411.1 436.2C412.6 437.3 414 438.5 415.4 439.3C416.8 440.1 418.1 440.4 419.4 440.8C420.7 441.2 422 441.4 423 441.7C424 441.9 425 442.2 425.4 442.3M494 402C493.2 401.7 491.1 401 489.5 400C487.9 399 486 397.1 484.1 396C482.2 394.9 480.4 394.1 478.4 393.5C476.4 392.9 474.1 393.5 472.3 392.7C470.5 391.9 469.2 389.2 467.4 388.7C465.5 388.2 463.1 389.9 461.2 389.8C459.3 389.7 457.6 388.4 455.8 388C454 387.6 452 386.8 450.2 387.2C448.4 387.6 446.7 389.9 444.8 390.2C442.9 390.5 440.8 388.6 438.8 388.9C436.8 389.2 434.9 391.4 432.9 392.2C430.9 393 428.4 393.5 427 393.6C425.6 393.8 425.1 393.2 424.7 393.1M494 402C493.2 401.7 491.3 400.5 489.3 400.2C487.3 399.9 484.5 400.1 482.2 400C479.9 399.9 477.8 399.9 475.7 399.3C473.6 398.8 471.5 396.8 469.4 396.7C467.3 396.6 465 398.6 463 399C461 399.4 459.1 399.1 457.2 399C455.3 398.9 453.2 397.9 451.4 398.2C449.6 398.5 448.1 400.1 446.5 400.7C444.9 401.3 443.4 401.8 441.8 401.7C440.2 401.6 438.6 400.3 436.9 400.3C435.2 400.3 433 400.9 431.4 401.8C429.8 402.7 428.1 404.9 427.1 405.6C426.1 406.4 425.8 406.2 425.5 406.3M494 402C493.3 402.3 491.5 403 489.9 403.7C488.2 404.4 486.1 405.7 484.1 406C482.1 406.3 479.8 405.3 477.9 405.7C476 406.1 474.3 407.2 472.5 408.1C470.7 409 469.2 410.9 467.3 411.3C465.4 411.7 463.3 410.9 461.4 410.6C459.5 410.3 457.6 409.1 455.7 409.3C453.8 409.5 452 410.9 450.2 411.7C448.4 412.5 446.8 413.8 444.9 414.1C443 414.4 440.9 413.4 438.9 413.4C436.8 413.4 434.6 413.4 432.6 414C430.6 414.6 428.3 416.3 427.1 416.9C425.9 417.5 425.5 417.3 425.2 417.4M494 403C493.4 403.4 491.6 404.4 490.1 405.3C488.6 406.2 486.4 407.3 484.9 408.6C483.4 409.9 482.6 411.9 481.2 413.1C479.8 414.3 478.2 415.3 476.5 415.9C474.8 416.5 472.7 416.2 470.8 416.5C468.9 416.8 467 416.8 465.2 417.5C463.4 418.2 461.7 419.7 459.9 420.6C458.1 421.5 456.4 422.7 454.5 423.1C452.6 423.5 450.2 423.1 448.2 423.2C446.2 423.3 444.2 423.3 442.6 423.7C441 424.1 439.9 424.9 438.6 425.5C437.3 426.1 436.2 426.9 435 427.5C433.8 428.1 432.7 428.6 431.4 428.9C430.1 429.2 428.3 429.1 427 429.2C425.7 429.3 424.2 429.3 423.7 429.3M493 403C492.6 403.6 492 405.3 490.9 406.5C489.8 407.7 487.7 408.9 486.2 410.2C484.7 411.4 483.4 412.5 482.1 414C480.8 415.5 479.9 417.6 478.5 419.1C477.1 420.6 475.6 422.2 473.7 423.1C471.8 424.1 469.5 424.2 467.4 424.8C465.3 425.4 463.1 425.6 461.2 426.5C459.3 427.4 457.8 428.9 456.1 430C454.4 431.1 452.7 432.6 450.9 433.4C449.1 434.2 447.1 434.3 445.2 434.6C443.3 434.9 441.2 434.7 439.4 435.1C437.6 435.5 436 436.1 434.6 436.9C433.2 437.7 432.1 438.9 431.1 439.8C430.1 440.8 429.2 441.9 428.5 442.6C427.8 443.3 427 443.9 426.7 444.2" fill="none" stroke="#de2239" stroke-width="2.4" stroke-linecap="round" stroke-linejoin="round"/>
<path d="M281.4 215.3L283 219.6L285.4 226L288.2 233.1L291.4 239.8L294.7 245.4L298.2 250.7L301.8 255.6L305.5 260.3L309.3 265.1L313.3 269.9L317.4 274.4L321.5 278.5L325.5 282.2L329.6 285.5L333.7 288.4L337.9 290.9L342.1 292.7L346.3 294L350.3 294.8L354.2 295L357.9 294.2L360.9 292.5L362.9 291L364.1 290.1A3.8 3.8 0 0 0 359.9 283.9L358.5 284.8L356.8 286L355.3 286.8L353.8 287L351.6 286.7L348.6 286L345.3 284.8L342.1 283.1L338.9 281L335.5 278.2L332 275.1L328.5 271.5L325 267.6L321.4 263.1L317.9 258.4L314.5 253.7L311.2 248.9L308.1 244.1L305.2 239.2L302.6 234.2L300.3 228.3L298 221.5L296 215.2L294.6 210.7A7 7 0 0 0 281.4 215.3Z" fill="#cf917d" stroke="#a06a5c" stroke-width=".9" stroke-linejoin="round"/><path d="M285.7 212.9L287.2 217.3L289.4 223.7L292.1 230.7L294.9 237L297.9 242.5L301.2 247.5L304.6 252.4L308.1 257.2L311.8 262L315.6 266.7L319.5 271.2L323.4 275.2L327.2 278.9L331.1 282.2L334.9 285L338.7 287.4L342.8 289.1L346.9 290.2L350.5 290.9L353 291.4A1 1 0 0 0 353.4 289.4L350.9 288.9L347.4 288.1L343.4 287.1L339.7 285.4L336.1 283.2L332.5 280.4L328.8 277.2L325 273.6L321.3 269.6L317.5 265.1L313.8 260.4L310.3 255.6L306.8 250.8L303.5 246L300.3 241L297.5 235.8L294.8 229.6L292.3 222.6L290.2 216.3L288.7 211.9A1.6 1.6 0 0 0 285.7 212.9Z" fill="#e5b3a2" opacity=".7"/><ellipse cx="288" cy="213" rx="6.9" ry="3.2" transform="rotate(-18 288 213)" fill="#a8604f" stroke="#8d5244" stroke-width=".8"/><path d="M553.6 209.1L552 212.9L549.7 218.3L547.1 224.3L544.4 230L541.6 235.5L538.6 241L535.5 246.5L532.3 251.9L528.9 257.2L525.4 262.5L521.8 267.4L518.4 271.6L515 275.1L511.6 278.2L508.1 280.9L504.7 283.2L501.2 285.4L497.9 287.2L494.9 288.4L492.8 289L491.6 288.9L490.2 288.1L488.6 286.9L487.2 286A3.8 3.8 0 0 0 482.8 292L484 293L486 294.6L489.1 296.3L493.2 297L497.2 296.3L501.3 294.8L505.3 293L509.3 290.8L513.3 288.4L517.3 285.6L521.5 282.3L525.6 278.4L529.8 273.8L533.9 268.8L537.9 263.4L541.7 258.1L545.4 252.7L549 247.1L552.4 241.5L555.6 236L558.8 230.1L561.9 224L564.5 218.6L566.4 214.9A7 7 0 0 0 553.6 209.1Z" fill="#cf917d" stroke="#a06a5c" stroke-width=".9" stroke-linejoin="round"/><path d="M557.7 210.7L556 214.5L553.6 219.9L550.8 225.9L547.9 231.7L545 237.2L541.8 242.8L538.5 248.3L535.1 253.7L531.5 259L527.8 264.3L524 269.2L520.3 273.6L516.6 277.2L512.9 280.4L509.3 283.1L505.7 285.5L501.8 287.5L497.9 289.2L494.3 290.5L491.8 291.5A1 1 0 0 0 492.6 293.3L495 292.4L498.6 291.1L502.8 289.4L506.7 287.3L510.5 284.9L514.3 282.2L518.2 279L522.1 275.2L525.9 270.8L529.8 265.8L533.7 260.5L537.3 255.1L540.8 249.7L544.2 244.2L547.5 238.6L550.5 233.1L553.5 227.3L556.4 221.2L558.9 215.8L560.7 212.1A1.6 1.6 0 0 0 557.7 210.7Z" fill="#e5b3a2" opacity=".7"/><ellipse cx="560" cy="212" rx="6.9" ry="3.2" transform="rotate(22 560 212)" fill="#a8604f" stroke="#8d5244" stroke-width=".8"/>
</g>
<g fill="none" stroke-linecap="round" stroke-linejoin="round"><path d="M172 271L189 255M172 271L367 226M198 298L260 274M266 322L331 307M361 389L425 350M361 389L427 381M361 389L422 412M597 322L491 235M590 347L465 295" stroke="#fff" stroke-width="2.6" opacity=".9"/><path d="M199 17L208 52M100 42L120 56M100 42L110 64M77 91L122 96M110 120L130 120L167 94M111 140L130 140L167 119M124 160L150 144M132 186L160 160M132 186L165 181M145 209L205 189M126 232L287 222M172 271L189 255M172 271L367 226M198 298L260 274M266 322L289 299M266 322L331 307M302 395L361 389M361 389L425 350M361 389L427 381M361 389L422 412M357 455L402 451M295 64L253 157M331 93L313 119M457 49L434 120M553 59L546 166M709 206L486 203M672 282L630 265M597 322L491 235M590 347L465 295M552 391L529 379" stroke="#3a3637" stroke-width="1"/></g>
<g><text x="128" y="13.6">Uterine tube</text><text x="14" y="38.5">Ovarian artery</text><text x="14" y="53.5">and vein</text><text x="26" y="93.3">Ampulla</text><text x="16" y="123.7">Tubal branches</text><text x="3.5" y="143.7">Ovarian branches</text><text x="44.5" y="168">Infundibulum</text><text x="77" y="192.7">Fimbriae</text><text x="106" y="215.5">Ovary</text><text x="86" y="234.8">Ureter</text><text x="28.5" y="278.5">Uterine plexus and vein</text><text x="115" y="305.5">Uterine artery</text><text x="179" y="332.5">Vaginal artery</text><text x="179" y="348.5">and vein</text><text x="165" y="400.7">Vaginal venous plexus</text><text x="312" y="461">Vagina</text><text x="287" y="43">Pampiniform</text><text x="287" y="58">plexus of veins</text><text x="331" y="89.5">Isthmus</text><text x="444" y="44.5">Uterus</text><text x="543" y="38.7">Ligament of</text><text x="543" y="53.7">ovary</text><text x="714" y="211">Cut edge of</text><text x="714" y="226.2">peritoneum</text><text x="677" y="292.7">Internal iliac</text><text x="677" y="307.7">artery</text><text x="599" y="334">Ascending branch of uterine artery</text><text x="594" y="358.2">Vaginal branch of uterine artery</text><text x="556" y="404.2">Internal pudendal artery</text><text class="b" x="151" y="461">Posterior view</text></g>
</svg>
</body></html>
